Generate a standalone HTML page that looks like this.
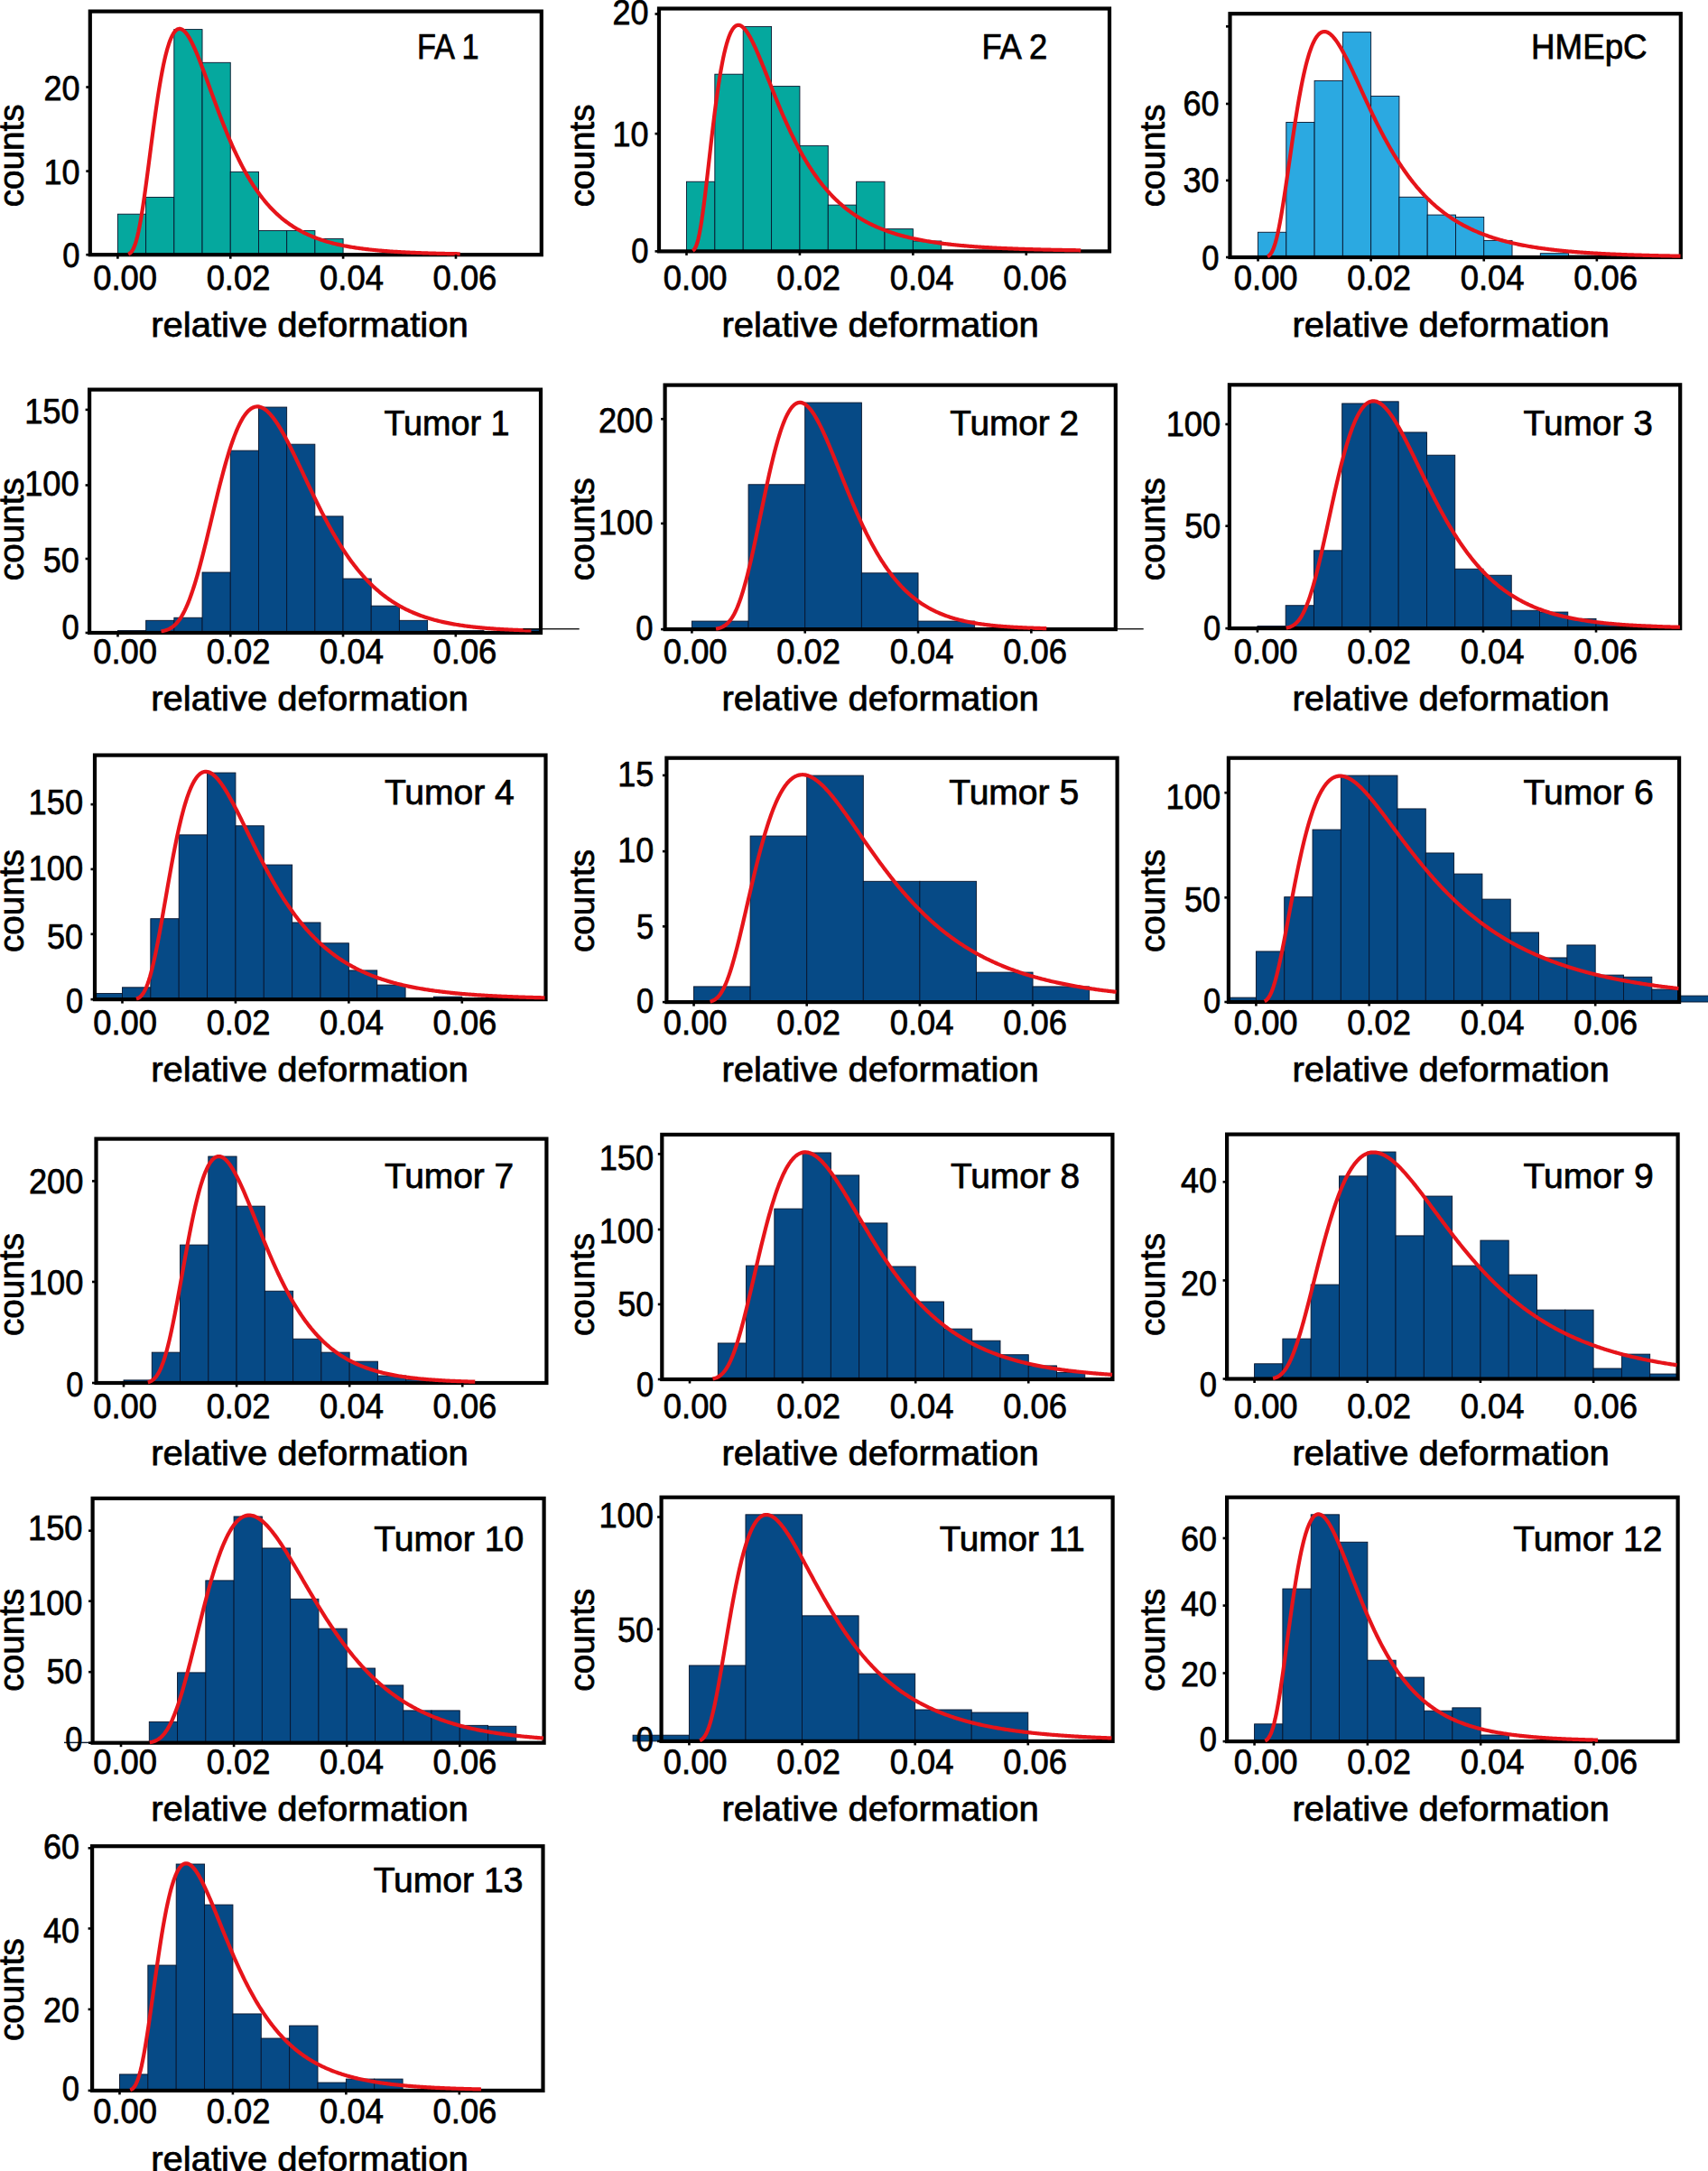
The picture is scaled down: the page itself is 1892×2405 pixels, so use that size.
<!DOCTYPE html>
<html><head><meta charset="utf-8"><title>Relative deformation histograms</title>
<style>html,body{margin:0;padding:0;background:#fff}svg{display:block}</style></head>
<body>
<svg width="1892" height="2405" viewBox="0 0 1892 2405" font-family="'Liberation Sans', sans-serif" fill="#000" stroke="#000" stroke-width="0.75">
<rect width="1892" height="2405" fill="#fff" stroke="none"/>
<g><rect x="130.4" y="237.19" width="31.21" height="45.01" fill="#05A89E" stroke="#07142c" stroke-width="0.9"/>
<rect x="161.61" y="218.45" width="31.21" height="63.75" fill="#05A89E" stroke="#07142c" stroke-width="0.9"/>
<rect x="192.82" y="32.6" width="31.21" height="249.6" fill="#05A89E" stroke="#07142c" stroke-width="0.9"/>
<rect x="224.04" y="69.32" width="31.21" height="212.88" fill="#05A89E" stroke="#07142c" stroke-width="0.9"/>
<rect x="255.25" y="190.35" width="31.21" height="91.85" fill="#05A89E" stroke="#07142c" stroke-width="0.9"/>
<rect x="286.46" y="255.55" width="31.21" height="26.65" fill="#05A89E" stroke="#07142c" stroke-width="0.9"/>
<rect x="317.68" y="255.55" width="31.21" height="26.65" fill="#05A89E" stroke="#07142c" stroke-width="0.9"/>
<rect x="348.89" y="264.54" width="31.21" height="17.66" fill="#05A89E" stroke="#07142c" stroke-width="0.9"/>
<rect x="99.8" y="12.6" width="500" height="269.6" fill="none" stroke="#000" stroke-width="4.2"/>
<path d="M142.15,281.55 L143.4,280.94 L144.65,279.97 L145.9,278.55 L147.15,276.59 L148.4,274.01 L149.65,270.76 L150.9,266.78 L152.15,262.07 L153.4,256.62 L154.65,250.45 L155.9,243.62 L157.15,236.16 L158.4,228.14 L159.65,219.65 L160.9,210.75 L162.15,201.53 L163.4,192.07 L164.65,182.46 L165.9,172.77 L167.15,163.08 L168.4,153.47 L169.65,143.99 L170.9,134.71 L172.15,125.68 L173.4,116.95 L174.65,108.56 L175.9,100.54 L177.15,92.93 L178.4,85.74 L179.65,79 L180.9,72.71 L182.15,66.89 L183.4,61.54 L184.65,56.66 L185.9,52.26 L187.15,48.31 L188.4,44.83 L189.65,41.79 L190.9,39.19 L192.15,37.01 L193.4,35.24 L194.65,33.86 L195.9,32.86 L197.15,32.22 L198.4,31.93 L199.65,31.96 L200.9,32.3 L202.15,32.93 L203.4,33.83 L204.65,34.99 L205.9,36.39 L207.15,38.02 L208.4,39.85 L209.65,41.88 L210.9,44.08 L212.15,46.44 L213.4,48.96 L214.65,51.6 L215.9,54.37 L217.15,57.25 L218.4,60.23 L219.65,63.3 L220.9,66.44 L222.15,69.65 L223.4,72.92 L224.65,76.24 L225.9,79.59 L227.15,82.98 L228.4,86.4 L229.65,89.83 L230.9,93.28 L232.15,96.73 L233.4,100.18 L234.65,103.63 L235.9,107.07 L237.15,110.49 L238.4,113.9 L239.65,117.28 L240.9,120.64 L242.15,123.97 L243.4,127.27 L244.65,130.54 L245.9,133.77 L247.15,136.97 L248.4,140.12 L249.65,143.24 L250.9,146.31 L252.15,149.34 L253.4,152.32 L254.65,155.25 L255.9,158.14 L257.15,160.98 L258.4,163.78 L259.65,166.52 L260.9,169.22 L262.15,171.86 L263.4,174.46 L264.65,177.01 L265.9,179.51 L267.15,181.96 L268.4,184.36 L269.65,186.71 L270.9,189.02 L272.15,191.27 L273.4,193.48 L274.65,195.65 L275.9,197.76 L277.15,199.83 L278.4,201.86 L279.65,203.83 L280.9,205.77 L282.15,207.66 L283.4,209.51 L284.65,211.32 L285.9,213.08 L287.15,214.81 L288.4,216.49 L289.65,218.13 L290.9,219.74 L292.15,221.31 L293.4,222.84 L294.65,224.33 L295.9,225.79 L297.15,227.21 L298.4,228.6 L299.65,229.95 L300.9,231.27 L302.15,232.56 L303.4,233.81 L304.65,235.04 L305.9,236.23 L307.15,237.4 L308.4,238.53 L309.65,239.64 L310.9,240.72 L312.15,241.77 L313.4,242.8 L314.65,243.8 L315.9,244.77 L317.15,245.72 L318.4,246.65 L319.65,247.55 L320.9,248.43 L322.15,249.29 L323.4,250.12 L324.65,250.94 L325.9,251.73 L327.15,252.5 L328.4,253.25 L329.65,253.99 L330.9,254.7 L332.15,255.4 L333.4,256.07 L334.65,256.74 L335.9,257.38 L337.15,258.01 L338.4,258.62 L339.65,259.21 L340.9,259.79 L342.15,260.36 L343.4,260.91 L344.65,261.44 L345.9,261.96 L347.15,262.47 L348.4,262.97 L349.65,263.45 L350.9,263.92 L352.15,264.38 L353.4,264.82 L354.65,265.26 L355.9,265.68 L357.15,266.09 L358.4,266.5 L359.65,266.89 L360.9,267.27 L362.15,267.64 L363.4,268 L364.65,268.35 L365.9,268.7 L367.15,269.03 L368.4,269.36 L369.65,269.68 L370.9,269.99 L372.15,270.29 L373.4,270.58 L374.65,270.87 L375.9,271.15 L377.15,271.42 L378.4,271.68 L379.65,271.94 L380.9,272.19 L382.15,272.44 L383.4,272.67 L384.65,272.91 L385.9,273.13 L387.15,273.35 L388.4,273.57 L389.65,273.78 L390.9,273.98 L392.15,274.18 L393.4,274.38 L394.65,274.57 L395.9,274.75 L397.15,274.93 L398.4,275.1 L399.65,275.28 L400.9,275.44 L402.15,275.6 L403.4,275.76 L404.65,275.92 L405.9,276.07 L407.15,276.21 L408.4,276.36 L409.65,276.49 L410.9,276.63 L412.15,276.76 L413.4,276.89 L414.65,277.02 L415.9,277.14 L417.15,277.26 L418.4,277.38 L419.65,277.49 L420.9,277.6 L422.15,277.71 L423.4,277.81 L424.65,277.92 L425.9,278.02 L427.15,278.12 L428.4,278.21 L429.65,278.3 L430.9,278.39 L432.15,278.48 L433.4,278.57 L434.65,278.65 L435.9,278.74 L437.15,278.82 L438.4,278.89 L439.65,278.97 L440.9,279.04 L442.15,279.12 L443.4,279.19 L444.65,279.26 L445.9,279.32 L447.15,279.39 L448.4,279.45 L449.65,279.52 L450.9,279.58 L452.15,279.64 L453.4,279.7 L454.65,279.75 L455.9,279.81 L457.15,279.86 L458.4,279.92 L459.65,279.97 L460.9,280.02 L462.15,280.07 L463.4,280.12 L464.65,280.16 L465.9,280.21 L467.15,280.25 L468.4,280.3 L469.65,280.34 L470.9,280.38 L472.15,280.42 L473.4,280.46 L474.65,280.5 L475.9,280.54 L477.15,280.57 L478.4,280.61 L479.65,280.64 L480.9,280.68 L482.15,280.71 L483.4,280.74 L484.65,280.78 L485.9,280.81 L487.15,280.84 L488.4,280.87 L489.65,280.9 L490.9,280.93 L492.15,280.95 L493.4,280.98 L494.65,281.01 L495.9,281.03 L497.15,281.06 L498.4,281.08 L499.65,281.11 L500.9,281.13 L502.15,281.15 L503.4,281.18 L504.65,281.2 L505.9,281.22 L507.15,281.24 L508.4,281.26 L509.65,281.28" fill="none" stroke="#E6141A" stroke-width="4.2" stroke-linejoin="round" stroke-linecap="butt"/>
<rect x="129.1" y="282.2" width="2.6" height="4.5" stroke="none"/>
<text x="138.6" y="320.6" font-size="38.5" text-anchor="middle" textLength="70.8" lengthAdjust="spacingAndGlyphs">0.00</text>
<rect x="253.95" y="282.2" width="2.6" height="4.5" stroke="none"/>
<text x="264.05" y="320.6" font-size="38.5" text-anchor="middle" textLength="70.8" lengthAdjust="spacingAndGlyphs">0.02</text>
<rect x="378.8" y="282.2" width="2.6" height="4.5" stroke="none"/>
<text x="389.5" y="320.6" font-size="38.5" text-anchor="middle" textLength="70.8" lengthAdjust="spacingAndGlyphs">0.04</text>
<rect x="503.66" y="282.2" width="2.6" height="4.5" stroke="none"/>
<text x="514.95" y="320.6" font-size="38.5" text-anchor="middle" textLength="70.8" lengthAdjust="spacingAndGlyphs">0.06</text>
<rect x="95.3" y="280.9" width="4.5" height="2.6" stroke="none"/>
<text x="69.3" y="295.9" font-size="38.5" textLength="19.2" lengthAdjust="spacingAndGlyphs">0</text>
<rect x="95.3" y="188.3" width="4.5" height="2.6" stroke="none"/>
<text x="48.5" y="203.9" font-size="38.5" textLength="40" lengthAdjust="spacingAndGlyphs">10</text>
<rect x="95.3" y="95.2" width="4.5" height="2.6" stroke="none"/>
<text x="48.5" y="111.1" font-size="38.5" textLength="40" lengthAdjust="spacingAndGlyphs">20</text>
<text x="167.2" y="372.7" font-size="39" textLength="351.5" lengthAdjust="spacingAndGlyphs">relative deformation</text>
<text transform="translate(26,172.3) rotate(-90)" font-size="39" text-anchor="middle" textLength="114" lengthAdjust="spacingAndGlyphs">counts</text>
<text x="461.9" y="64.5" font-size="38.5" textLength="68.6" lengthAdjust="spacingAndGlyphs">FA 1</text></g>
<g><rect x="760.49" y="201.24" width="31.36" height="77.16" fill="#05A89E" stroke="#07142c" stroke-width="0.9"/>
<rect x="791.85" y="82.2" width="31.36" height="196.2" fill="#05A89E" stroke="#07142c" stroke-width="0.9"/>
<rect x="823.21" y="29.53" width="31.36" height="248.87" fill="#05A89E" stroke="#07142c" stroke-width="0.9"/>
<rect x="854.57" y="95.6" width="31.36" height="182.8" fill="#05A89E" stroke="#07142c" stroke-width="0.9"/>
<rect x="885.93" y="161.36" width="31.36" height="117.04" fill="#05A89E" stroke="#07142c" stroke-width="0.9"/>
<rect x="917.28" y="227.12" width="31.36" height="51.28" fill="#05A89E" stroke="#07142c" stroke-width="0.9"/>
<rect x="948.64" y="201.24" width="31.36" height="77.16" fill="#05A89E" stroke="#07142c" stroke-width="0.9"/>
<rect x="980" y="253.61" width="31.36" height="24.79" fill="#05A89E" stroke="#07142c" stroke-width="0.9"/>
<rect x="1011.36" y="267" width="31.36" height="11.4" fill="#05A89E" stroke="#07142c" stroke-width="0.9"/>
<rect x="730" y="9.5" width="499" height="268.9" fill="none" stroke="#000" stroke-width="4.2"/>
<path d="M767.24,277.8 L768.49,276.9 L769.74,275.3 L770.99,272.81 L772.24,269.3 L773.49,264.7 L774.74,259 L775.99,252.22 L777.24,244.46 L778.49,235.82 L779.74,226.43 L780.99,216.43 L782.24,205.97 L783.49,195.19 L784.74,184.21 L785.99,173.17 L787.24,162.19 L788.49,151.35 L789.74,140.75 L790.99,130.46 L792.24,120.56 L793.49,111.08 L794.74,102.07 L795.99,93.57 L797.24,85.59 L798.49,78.16 L799.74,71.27 L800.99,64.94 L802.24,59.15 L803.49,53.91 L804.74,49.21 L805.99,45.03 L807.24,41.35 L808.49,38.16 L809.74,35.44 L810.99,33.17 L812.24,31.33 L813.49,29.9 L814.74,28.86 L815.99,28.18 L817.24,27.84 L818.49,27.83 L819.74,28.13 L820.99,28.71 L822.24,29.55 L823.49,30.64 L824.74,31.95 L825.99,33.48 L827.24,35.19 L828.49,37.09 L829.74,39.15 L830.99,41.35 L832.24,43.69 L833.49,46.16 L834.74,48.73 L835.99,51.4 L837.24,54.15 L838.49,56.98 L839.74,59.88 L840.99,62.84 L842.24,65.84 L843.49,68.89 L844.74,71.97 L845.99,75.08 L847.24,78.21 L848.49,81.35 L849.74,84.51 L850.99,87.67 L852.24,90.83 L853.49,93.98 L854.74,97.13 L855.99,100.26 L857.24,103.38 L858.49,106.48 L859.74,109.56 L860.99,112.62 L862.24,115.65 L863.49,118.65 L864.74,121.62 L865.99,124.56 L867.24,127.47 L868.49,130.34 L869.74,133.17 L870.99,135.97 L872.24,138.73 L873.49,141.46 L874.74,144.14 L875.99,146.78 L877.24,149.39 L878.49,151.95 L879.74,154.48 L880.99,156.96 L882.24,159.4 L883.49,161.8 L884.74,164.16 L885.99,166.48 L887.24,168.75 L888.49,170.99 L889.74,173.19 L890.99,175.34 L892.24,177.46 L893.49,179.54 L894.74,181.57 L895.99,183.57 L897.24,185.53 L898.49,187.46 L899.74,189.34 L900.99,191.19 L902.24,193 L903.49,194.78 L904.74,196.52 L905.99,198.22 L907.24,199.89 L908.49,201.53 L909.74,203.14 L910.99,204.71 L912.24,206.24 L913.49,207.75 L914.74,209.23 L915.99,210.67 L917.24,212.09 L918.49,213.47 L919.74,214.83 L920.99,216.16 L922.24,217.46 L923.49,218.73 L924.74,219.97 L925.99,221.19 L927.24,222.38 L928.49,223.55 L929.74,224.69 L930.99,225.81 L932.24,226.91 L933.49,227.98 L934.74,229.02 L935.99,230.05 L937.24,231.05 L938.49,232.03 L939.74,232.99 L940.99,233.93 L942.24,234.85 L943.49,235.75 L944.74,236.63 L945.99,237.5 L947.24,238.34 L948.49,239.16 L949.74,239.97 L950.99,240.76 L952.24,241.53 L953.49,242.29 L954.74,243.03 L955.99,243.75 L957.24,244.46 L958.49,245.15 L959.74,245.83 L960.99,246.49 L962.24,247.14 L963.49,247.77 L964.74,248.39 L965.99,249 L967.24,249.6 L968.49,250.18 L969.74,250.75 L970.99,251.3 L972.24,251.85 L973.49,252.38 L974.74,252.9 L975.99,253.41 L977.24,253.91 L978.49,254.4 L979.74,254.88 L980.99,255.35 L982.24,255.81 L983.49,256.26 L984.74,256.7 L985.99,257.13 L987.24,257.55 L988.49,257.96 L989.74,258.36 L990.99,258.76 L992.24,259.14 L993.49,259.52 L994.74,259.89 L995.99,260.25 L997.24,260.61 L998.49,260.95 L999.74,261.29 L1000.99,261.63 L1002.24,261.95 L1003.49,262.27 L1004.74,262.58 L1005.99,262.89 L1007.24,263.19 L1008.49,263.48 L1009.74,263.77 L1010.99,264.05 L1012.24,264.32 L1013.49,264.59 L1014.74,264.86 L1015.99,265.12 L1017.24,265.37 L1018.49,265.62 L1019.74,265.86 L1020.99,266.1 L1022.24,266.33 L1023.49,266.56 L1024.74,266.78 L1025.99,267 L1027.24,267.22 L1028.49,267.43 L1029.74,267.63 L1030.99,267.83 L1032.24,268.03 L1033.49,268.22 L1034.74,268.41 L1035.99,268.6 L1037.24,268.78 L1038.49,268.96 L1039.74,269.13 L1040.99,269.3 L1042.24,269.47 L1043.49,269.64 L1044.74,269.8 L1045.99,269.96 L1047.24,270.11 L1048.49,270.26 L1049.74,270.41 L1050.99,270.56 L1052.24,270.7 L1053.49,270.84 L1054.74,270.98 L1055.99,271.11 L1057.24,271.24 L1058.49,271.37 L1059.74,271.5 L1060.99,271.62 L1062.24,271.74 L1063.49,271.86 L1064.74,271.98 L1065.99,272.1 L1067.24,272.21 L1068.49,272.32 L1069.74,272.43 L1070.99,272.53 L1072.24,272.64 L1073.49,272.74 L1074.74,272.84 L1075.99,272.94 L1077.24,273.03 L1078.49,273.13 L1079.74,273.22 L1080.99,273.31 L1082.24,273.4 L1083.49,273.49 L1084.74,273.57 L1085.99,273.66 L1087.24,273.74 L1088.49,273.82 L1089.74,273.9 L1090.99,273.98 L1092.24,274.05 L1093.49,274.13 L1094.74,274.2 L1095.99,274.28 L1097.24,274.35 L1098.49,274.42 L1099.74,274.48 L1100.99,274.55 L1102.24,274.62 L1103.49,274.68 L1104.74,274.74 L1105.99,274.81 L1107.24,274.87 L1108.49,274.93 L1109.74,274.99 L1110.99,275.04 L1112.24,275.1 L1113.49,275.16 L1114.74,275.21 L1115.99,275.26 L1117.24,275.32 L1118.49,275.37 L1119.74,275.42 L1120.99,275.47 L1122.24,275.52 L1123.49,275.56 L1124.74,275.61 L1125.99,275.66 L1127.24,275.7 L1128.49,275.75 L1129.74,275.79 L1130.99,275.83 L1132.24,275.88 L1133.49,275.92 L1134.74,275.96 L1135.99,276 L1137.24,276.04 L1138.49,276.08 L1139.74,276.11 L1140.99,276.15 L1142.24,276.19 L1143.49,276.22 L1144.74,276.26 L1145.99,276.29 L1147.24,276.33 L1148.49,276.36 L1149.74,276.39 L1150.99,276.43 L1152.24,276.46 L1153.49,276.49 L1154.74,276.52 L1155.99,276.55 L1157.24,276.58 L1158.49,276.61 L1159.74,276.64 L1160.99,276.66 L1162.24,276.69 L1163.49,276.72 L1164.74,276.74 L1165.99,276.77 L1167.24,276.8 L1168.49,276.82 L1169.74,276.85 L1170.99,276.87 L1172.24,276.89 L1173.49,276.92 L1174.74,276.94 L1175.99,276.96 L1177.24,276.99 L1178.49,277.01 L1179.74,277.03 L1180.99,277.05 L1182.24,277.07 L1183.49,277.09 L1184.74,277.11 L1185.99,277.13 L1187.24,277.15 L1188.49,277.17 L1189.74,277.19 L1190.99,277.21 L1192.24,277.23 L1193.49,277.24 L1194.74,277.26 L1195.99,277.28 L1197.24,277.3" fill="none" stroke="#E6141A" stroke-width="4.2" stroke-linejoin="round" stroke-linecap="butt"/>
<rect x="759.19" y="278.4" width="2.6" height="4.5" stroke="none"/>
<text x="770.2" y="320.6" font-size="38.5" text-anchor="middle" textLength="70.8" lengthAdjust="spacingAndGlyphs">0.00</text>
<rect x="884.63" y="278.4" width="2.6" height="4.5" stroke="none"/>
<text x="895.65" y="320.6" font-size="38.5" text-anchor="middle" textLength="70.8" lengthAdjust="spacingAndGlyphs">0.02</text>
<rect x="1010.06" y="278.4" width="2.6" height="4.5" stroke="none"/>
<text x="1021.1" y="320.6" font-size="38.5" text-anchor="middle" textLength="70.8" lengthAdjust="spacingAndGlyphs">0.04</text>
<rect x="1135.49" y="278.4" width="2.6" height="4.5" stroke="none"/>
<text x="1146.55" y="320.6" font-size="38.5" text-anchor="middle" textLength="70.8" lengthAdjust="spacingAndGlyphs">0.06</text>
<rect x="725.5" y="277.1" width="4.5" height="2.6" stroke="none"/>
<text x="699.2" y="291.1" font-size="38.5" textLength="19.2" lengthAdjust="spacingAndGlyphs">0</text>
<rect x="725.5" y="146.8" width="4.5" height="2.6" stroke="none"/>
<text x="678.4" y="162.2" font-size="38.5" textLength="40" lengthAdjust="spacingAndGlyphs">10</text>
<rect x="725.5" y="14.2" width="4.5" height="2.6" stroke="none"/>
<text x="678.4" y="27.2" font-size="38.5" textLength="40" lengthAdjust="spacingAndGlyphs">20</text>
<text x="799.4" y="372.7" font-size="39" textLength="351.5" lengthAdjust="spacingAndGlyphs">relative deformation</text>
<text transform="translate(657.6,172.3) rotate(-90)" font-size="39" text-anchor="middle" textLength="114" lengthAdjust="spacingAndGlyphs">counts</text>
<text x="1087.4" y="64.5" font-size="38.5" textLength="72.8" lengthAdjust="spacingAndGlyphs">FA 2</text></g>
<g><rect x="1393.54" y="257.26" width="31.28" height="27.74" fill="#2BA9E1" stroke="#07142c" stroke-width="0.9"/>
<rect x="1424.81" y="135.48" width="31.28" height="149.52" fill="#2BA9E1" stroke="#07142c" stroke-width="0.9"/>
<rect x="1456.09" y="89.51" width="31.28" height="195.49" fill="#2BA9E1" stroke="#07142c" stroke-width="0.9"/>
<rect x="1487.36" y="35.62" width="31.28" height="249.38" fill="#2BA9E1" stroke="#07142c" stroke-width="0.9"/>
<rect x="1518.64" y="106.56" width="31.28" height="178.44" fill="#2BA9E1" stroke="#07142c" stroke-width="0.9"/>
<rect x="1549.91" y="218.29" width="31.28" height="66.71" fill="#2BA9E1" stroke="#07142c" stroke-width="0.9"/>
<rect x="1581.19" y="238.08" width="31.28" height="46.92" fill="#2BA9E1" stroke="#07142c" stroke-width="0.9"/>
<rect x="1612.46" y="240.52" width="31.28" height="44.48" fill="#2BA9E1" stroke="#07142c" stroke-width="0.9"/>
<rect x="1643.74" y="266.39" width="31.28" height="18.61" fill="#2BA9E1" stroke="#07142c" stroke-width="0.9"/>
<rect x="1706.29" y="280.7" width="31.28" height="4.3" fill="#2BA9E1" stroke="#07142c" stroke-width="0.9"/>
<rect x="1737.56" y="283.14" width="31.28" height="1.86" fill="#2BA9E1" stroke="#07142c" stroke-width="0.9"/>
<rect x="1362.5" y="15.2" width="499.3" height="269.8" fill="none" stroke="#000" stroke-width="4.2"/>
<path d="M1404.04,284.23 L1405.29,283.53 L1406.54,282.45 L1407.79,280.9 L1409.04,278.82 L1410.29,276.14 L1411.54,272.83 L1412.79,268.87 L1414.04,264.26 L1415.29,259.02 L1416.54,253.17 L1417.79,246.75 L1419.04,239.83 L1420.29,232.45 L1421.54,224.68 L1422.79,216.6 L1424.04,208.25 L1425.29,199.72 L1426.54,191.05 L1427.79,182.33 L1429.04,173.59 L1430.29,164.91 L1431.54,156.31 L1432.79,147.86 L1434.04,139.59 L1435.29,131.54 L1436.54,123.73 L1437.79,116.2 L1439.04,108.96 L1440.29,102.04 L1441.54,95.45 L1442.79,89.2 L1444.04,83.3 L1445.29,77.76 L1446.54,72.58 L1447.79,67.76 L1449.04,63.31 L1450.29,59.2 L1451.54,55.46 L1452.79,52.05 L1454.04,48.99 L1455.29,46.27 L1456.54,43.86 L1457.79,41.77 L1459.04,39.98 L1460.29,38.48 L1461.54,37.27 L1462.79,36.33 L1464.04,35.65 L1465.29,35.21 L1466.54,35.02 L1467.79,35.04 L1469.04,35.29 L1470.29,35.73 L1471.54,36.37 L1472.79,37.19 L1474.04,38.18 L1475.29,39.33 L1476.54,40.63 L1477.79,42.07 L1479.04,43.64 L1480.29,45.34 L1481.54,47.15 L1482.79,49.06 L1484.04,51.08 L1485.29,53.18 L1486.54,55.37 L1487.79,57.63 L1489.04,59.96 L1490.29,62.35 L1491.54,64.8 L1492.79,67.29 L1494.04,69.84 L1495.29,72.42 L1496.54,75.04 L1497.79,77.68 L1499.04,80.35 L1500.29,83.04 L1501.54,85.75 L1502.79,88.48 L1504.04,91.21 L1505.29,93.94 L1506.54,96.69 L1507.79,99.43 L1509.04,102.17 L1510.29,104.9 L1511.54,107.62 L1512.79,110.34 L1514.04,113.05 L1515.29,115.74 L1516.54,118.41 L1517.79,121.07 L1519.04,123.71 L1520.29,126.33 L1521.54,128.93 L1522.79,131.5 L1524.04,134.05 L1525.29,136.58 L1526.54,139.08 L1527.79,141.55 L1529.04,144 L1530.29,146.42 L1531.54,148.81 L1532.79,151.18 L1534.04,153.51 L1535.29,155.81 L1536.54,158.09 L1537.79,160.33 L1539.04,162.54 L1540.29,164.72 L1541.54,166.87 L1542.79,169 L1544.04,171.08 L1545.29,173.14 L1546.54,175.17 L1547.79,177.17 L1549.04,179.13 L1550.29,181.07 L1551.54,182.97 L1552.79,184.85 L1554.04,186.69 L1555.29,188.5 L1556.54,190.29 L1557.79,192.04 L1559.04,193.77 L1560.29,195.46 L1561.54,197.13 L1562.79,198.77 L1564.04,200.38 L1565.29,201.96 L1566.54,203.52 L1567.79,205.04 L1569.04,206.55 L1570.29,208.02 L1571.54,209.47 L1572.79,210.89 L1574.04,212.29 L1575.29,213.66 L1576.54,215 L1577.79,216.32 L1579.04,217.62 L1580.29,218.89 L1581.54,220.14 L1582.79,221.37 L1584.04,222.58 L1585.29,223.76 L1586.54,224.92 L1587.79,226.06 L1589.04,227.17 L1590.29,228.27 L1591.54,229.34 L1592.79,230.4 L1594.04,231.43 L1595.29,232.45 L1596.54,233.44 L1597.79,234.42 L1599.04,235.38 L1600.29,236.32 L1601.54,237.24 L1602.79,238.14 L1604.04,239.03 L1605.29,239.9 L1606.54,240.75 L1607.79,241.59 L1609.04,242.41 L1610.29,243.22 L1611.54,244 L1612.79,244.78 L1614.04,245.54 L1615.29,246.28 L1616.54,247.01 L1617.79,247.73 L1619.04,248.43 L1620.29,249.12 L1621.54,249.79 L1622.79,250.45 L1624.04,251.1 L1625.29,251.74 L1626.54,252.36 L1627.79,252.97 L1629.04,253.57 L1630.29,254.16 L1631.54,254.74 L1632.79,255.3 L1634.04,255.86 L1635.29,256.4 L1636.54,256.93 L1637.79,257.46 L1639.04,257.97 L1640.29,258.47 L1641.54,258.97 L1642.79,259.45 L1644.04,259.92 L1645.29,260.39 L1646.54,260.84 L1647.79,261.29 L1649.04,261.73 L1650.29,262.16 L1651.54,262.58 L1652.79,262.99 L1654.04,263.4 L1655.29,263.79 L1656.54,264.18 L1657.79,264.56 L1659.04,264.94 L1660.29,265.31 L1661.54,265.67 L1662.79,266.02 L1664.04,266.37 L1665.29,266.71 L1666.54,267.04 L1667.79,267.37 L1669.04,267.69 L1670.29,268 L1671.54,268.31 L1672.79,268.61 L1674.04,268.91 L1675.29,269.2 L1676.54,269.48 L1677.79,269.76 L1679.04,270.04 L1680.29,270.31 L1681.54,270.57 L1682.79,270.83 L1684.04,271.08 L1685.29,271.33 L1686.54,271.58 L1687.79,271.82 L1689.04,272.05 L1690.29,272.28 L1691.54,272.51 L1692.79,272.73 L1694.04,272.95 L1695.29,273.16 L1696.54,273.37 L1697.79,273.58 L1699.04,273.78 L1700.29,273.98 L1701.54,274.17 L1702.79,274.36 L1704.04,274.55 L1705.29,274.73 L1706.54,274.92 L1707.79,275.09 L1709.04,275.27 L1710.29,275.44 L1711.54,275.6 L1712.79,275.77 L1714.04,275.93 L1715.29,276.08 L1716.54,276.24 L1717.79,276.39 L1719.04,276.54 L1720.29,276.69 L1721.54,276.83 L1722.79,276.97 L1724.04,277.11 L1725.29,277.25 L1726.54,277.38 L1727.79,277.51 L1729.04,277.64 L1730.29,277.77 L1731.54,277.89 L1732.79,278.01 L1734.04,278.13 L1735.29,278.25 L1736.54,278.36 L1737.79,278.48 L1739.04,278.59 L1740.29,278.69 L1741.54,278.8 L1742.79,278.91 L1744.04,279.01 L1745.29,279.11 L1746.54,279.21 L1747.79,279.31 L1749.04,279.4 L1750.29,279.5 L1751.54,279.59 L1752.79,279.68 L1754.04,279.77 L1755.29,279.86 L1756.54,279.94 L1757.79,280.03 L1759.04,280.11 L1760.29,280.19 L1761.54,280.27 L1762.79,280.35 L1764.04,280.43 L1765.29,280.5 L1766.54,280.58 L1767.79,280.65 L1769.04,280.72 L1770.29,280.79 L1771.54,280.86 L1772.79,280.93 L1774.04,280.99 L1775.29,281.06 L1776.54,281.12 L1777.79,281.19 L1779.04,281.25 L1780.29,281.31 L1781.54,281.37 L1782.79,281.43 L1784.04,281.49 L1785.29,281.54 L1786.54,281.6 L1787.79,281.66 L1789.04,281.71 L1790.29,281.76 L1791.54,281.81 L1792.79,281.87 L1794.04,281.92 L1795.29,281.97 L1796.54,282.01 L1797.79,282.06 L1799.04,282.11 L1800.29,282.16 L1801.54,282.2 L1802.79,282.25 L1804.04,282.29 L1805.29,282.33 L1806.54,282.37 L1807.79,282.42 L1809.04,282.46 L1810.29,282.5 L1811.54,282.54 L1812.79,282.58 L1814.04,282.61 L1815.29,282.65 L1816.54,282.69 L1817.79,282.72 L1819.04,282.76 L1820.29,282.79 L1821.54,282.83 L1822.79,282.86 L1824.04,282.9 L1825.29,282.93 L1826.54,282.96 L1827.79,282.99 L1829.04,283.02 L1830.29,283.05 L1831.54,283.08 L1832.79,283.11 L1834.04,283.14 L1835.29,283.17 L1836.54,283.2 L1837.79,283.23 L1839.04,283.25 L1840.29,283.28 L1841.54,283.31 L1842.79,283.33 L1844.04,283.36 L1845.29,283.38 L1846.54,283.41 L1847.79,283.43 L1849.04,283.46 L1850.29,283.48 L1851.54,283.5 L1852.79,283.53 L1854.04,283.55 L1855.29,283.57 L1856.54,283.59 L1857.79,283.61 L1859.04,283.63 L1860.29,283.65 L1861.54,283.67" fill="none" stroke="#E6141A" stroke-width="4.2" stroke-linejoin="round" stroke-linecap="butt"/>
<rect x="1392.24" y="285" width="2.6" height="4.5" stroke="none"/>
<text x="1402.2" y="320.6" font-size="38.5" text-anchor="middle" textLength="70.8" lengthAdjust="spacingAndGlyphs">0.00</text>
<rect x="1517.34" y="285" width="2.6" height="4.5" stroke="none"/>
<text x="1527.65" y="320.6" font-size="38.5" text-anchor="middle" textLength="70.8" lengthAdjust="spacingAndGlyphs">0.02</text>
<rect x="1642.44" y="285" width="2.6" height="4.5" stroke="none"/>
<text x="1653.1" y="320.6" font-size="38.5" text-anchor="middle" textLength="70.8" lengthAdjust="spacingAndGlyphs">0.04</text>
<rect x="1767.54" y="285" width="2.6" height="4.5" stroke="none"/>
<text x="1778.55" y="320.6" font-size="38.5" text-anchor="middle" textLength="70.8" lengthAdjust="spacingAndGlyphs">0.06</text>
<rect x="1358" y="283.7" width="4.5" height="2.6" stroke="none"/>
<text x="1331.2" y="298.7" font-size="38.5" textLength="19.2" lengthAdjust="spacingAndGlyphs">0</text>
<rect x="1358" y="198.6" width="4.5" height="2.6" stroke="none"/>
<text x="1310.4" y="212.7" font-size="38.5" textLength="40" lengthAdjust="spacingAndGlyphs">30</text>
<rect x="1358" y="113.7" width="4.5" height="2.6" stroke="none"/>
<text x="1310.4" y="128" font-size="38.5" textLength="40" lengthAdjust="spacingAndGlyphs">60</text>
<rect x="1358" y="28" width="4.5" height="2.6" stroke="none"/>
<text x="1431.4" y="372.7" font-size="39" textLength="351.5" lengthAdjust="spacingAndGlyphs">relative deformation</text>
<text transform="translate(1289.5,172.3) rotate(-90)" font-size="39" text-anchor="middle" textLength="114" lengthAdjust="spacingAndGlyphs">counts</text>
<text x="1696.1" y="64.5" font-size="38.5" textLength="128.5" lengthAdjust="spacingAndGlyphs">HMEpC</text></g>
<g><rect x="130.49" y="698.57" width="31.19" height="1.33" fill="#064A86" stroke="#07142c" stroke-width="0.9"/>
<rect x="161.68" y="687.31" width="31.19" height="12.59" fill="#064A86" stroke="#07142c" stroke-width="0.9"/>
<rect x="192.88" y="684.26" width="31.19" height="15.64" fill="#064A86" stroke="#07142c" stroke-width="0.9"/>
<rect x="224.07" y="634.03" width="31.19" height="65.87" fill="#064A86" stroke="#07142c" stroke-width="0.9"/>
<rect x="255.26" y="499.16" width="31.19" height="200.74" fill="#064A86" stroke="#07142c" stroke-width="0.9"/>
<rect x="286.45" y="451.05" width="31.19" height="248.85" fill="#064A86" stroke="#07142c" stroke-width="0.9"/>
<rect x="317.65" y="492.15" width="31.19" height="207.75" fill="#064A86" stroke="#07142c" stroke-width="0.9"/>
<rect x="348.84" y="571.92" width="31.19" height="127.98" fill="#064A86" stroke="#07142c" stroke-width="0.9"/>
<rect x="380.03" y="641.03" width="31.19" height="58.87" fill="#064A86" stroke="#07142c" stroke-width="0.9"/>
<rect x="411.22" y="671.17" width="31.19" height="28.73" fill="#064A86" stroke="#07142c" stroke-width="0.9"/>
<rect x="442.41" y="687.31" width="31.19" height="12.59" fill="#064A86" stroke="#07142c" stroke-width="0.9"/>
<rect x="473.61" y="698.57" width="31.19" height="1.33" fill="#064A86" stroke="#07142c" stroke-width="0.9"/>
<rect x="504.8" y="698.57" width="31.19" height="1.33" fill="#064A86" stroke="#07142c" stroke-width="0.9"/>
<rect x="578.1" y="697.05" width="20.27" height="2.85" fill="#064A86" stroke="#07142c" stroke-width="0.9"/>
<rect x="99.1" y="431.6" width="499.9" height="269.4" fill="none" stroke="#000" stroke-width="4.2"/>
<path d="M178.49,699.27 L179.74,699.08 L180.99,698.85 L182.24,698.57 L183.49,698.24 L184.74,697.84 L185.99,697.36 L187.24,696.81 L188.49,696.16 L189.74,695.42 L190.99,694.58 L192.24,693.62 L193.49,692.53 L194.74,691.32 L195.99,689.96 L197.24,688.47 L198.49,686.82 L199.74,685.01 L200.99,683.04 L202.24,680.9 L203.49,678.59 L204.74,676.11 L205.99,673.46 L207.24,670.62 L208.49,667.61 L209.74,664.43 L210.99,661.08 L212.24,657.55 L213.49,653.86 L214.74,650.01 L215.99,646.01 L217.24,641.85 L218.49,637.56 L219.74,633.13 L220.99,628.57 L222.24,623.91 L223.49,619.13 L224.74,614.26 L225.99,609.31 L227.24,604.28 L228.49,599.19 L229.74,594.04 L230.99,588.86 L232.24,583.65 L233.49,578.42 L234.74,573.19 L235.99,567.96 L237.24,562.75 L238.49,557.57 L239.74,552.42 L240.99,547.33 L242.24,542.3 L243.49,537.34 L244.74,532.45 L245.99,527.66 L247.24,522.96 L248.49,518.37 L249.74,513.89 L250.99,509.53 L252.24,505.29 L253.49,501.2 L254.74,497.23 L255.99,493.42 L257.24,489.75 L258.49,486.23 L259.74,482.87 L260.99,479.68 L262.24,476.64 L263.49,473.77 L264.74,471.06 L265.99,468.53 L267.24,466.16 L268.49,463.96 L269.74,461.93 L270.99,460.07 L272.24,458.38 L273.49,456.86 L274.74,455.5 L275.99,454.31 L277.24,453.28 L278.49,452.41 L279.74,451.71 L280.99,451.15 L282.24,450.75 L283.49,450.51 L284.74,450.4 L285.99,450.44 L287.24,450.63 L288.49,450.94 L289.74,451.4 L290.99,451.98 L292.24,452.68 L293.49,453.51 L294.74,454.45 L295.99,455.5 L297.24,456.67 L298.49,457.94 L299.74,459.31 L300.99,460.77 L302.24,462.33 L303.49,463.97 L304.74,465.7 L305.99,467.51 L307.24,469.39 L308.49,471.34 L309.74,473.36 L310.99,475.45 L312.24,477.59 L313.49,479.79 L314.74,482.05 L315.99,484.35 L317.24,486.69 L318.49,489.08 L319.74,491.51 L320.99,493.97 L322.24,496.46 L323.49,498.98 L324.74,501.53 L325.99,504.1 L327.24,506.68 L328.49,509.29 L329.74,511.91 L330.99,514.54 L332.24,517.18 L333.49,519.82 L334.74,522.48 L335.99,525.13 L337.24,527.78 L338.49,530.43 L339.74,533.08 L340.99,535.73 L342.24,538.36 L343.49,540.99 L344.74,543.6 L345.99,546.2 L347.24,548.79 L348.49,551.37 L349.74,553.93 L350.99,556.47 L352.24,558.99 L353.49,561.49 L354.74,563.97 L355.99,566.43 L357.24,568.87 L358.49,571.28 L359.74,573.67 L360.99,576.04 L362.24,578.37 L363.49,580.69 L364.74,582.97 L365.99,585.23 L367.24,587.46 L368.49,589.67 L369.74,591.84 L370.99,593.99 L372.24,596.11 L373.49,598.19 L374.74,600.25 L375.99,602.28 L377.24,604.28 L378.49,606.25 L379.74,608.19 L380.99,610.1 L382.24,611.98 L383.49,613.83 L384.74,615.65 L385.99,617.45 L387.24,619.21 L388.49,620.94 L389.74,622.64 L390.99,624.31 L392.24,625.96 L393.49,627.57 L394.74,629.16 L395.99,630.72 L397.24,632.25 L398.49,633.75 L399.74,635.22 L400.99,636.67 L402.24,638.09 L403.49,639.48 L404.74,640.84 L405.99,642.18 L407.24,643.49 L408.49,644.78 L409.74,646.04 L410.99,647.28 L412.24,648.49 L413.49,649.68 L414.74,650.84 L415.99,651.98 L417.24,653.1 L418.49,654.19 L419.74,655.26 L420.99,656.31 L422.24,657.33 L423.49,658.34 L424.74,659.32 L425.99,660.28 L427.24,661.22 L428.49,662.14 L429.74,663.04 L430.99,663.92 L432.24,664.79 L433.49,665.63 L434.74,666.45 L435.99,667.26 L437.24,668.05 L438.49,668.82 L439.74,669.57 L440.99,670.31 L442.24,671.03 L443.49,671.73 L444.74,672.42 L445.99,673.09 L447.24,673.74 L448.49,674.39 L449.74,675.01 L450.99,675.62 L452.24,676.22 L453.49,676.81 L454.74,677.38 L455.99,677.93 L457.24,678.48 L458.49,679.01 L459.74,679.53 L460.99,680.03 L462.24,680.53 L463.49,681.01 L464.74,681.48 L465.99,681.94 L467.24,682.39 L468.49,682.83 L469.74,683.25 L470.99,683.67 L472.24,684.08 L473.49,684.47 L474.74,684.86 L475.99,685.24 L477.24,685.61 L478.49,685.97 L479.74,686.32 L480.99,686.66 L482.24,687 L483.49,687.32 L484.74,687.64 L485.99,687.95 L487.24,688.25 L488.49,688.55 L489.74,688.84 L490.99,689.12 L492.24,689.39 L493.49,689.66 L494.74,689.92 L495.99,690.17 L497.24,690.42 L498.49,690.66 L499.74,690.9 L500.99,691.13 L502.24,691.35 L503.49,691.57 L504.74,691.78 L505.99,691.99 L507.24,692.19 L508.49,692.39 L509.74,692.58 L510.99,692.77 L512.24,692.95 L513.49,693.13 L514.74,693.3 L515.99,693.47 L517.24,693.64 L518.49,693.8 L519.74,693.95 L520.99,694.1 L522.24,694.25 L523.49,694.4 L524.74,694.54 L525.99,694.68 L527.24,694.81 L528.49,694.94 L529.74,695.07 L530.99,695.19 L532.24,695.31 L533.49,695.43 L534.74,695.55 L535.99,695.66 L537.24,695.77 L538.49,695.87 L539.74,695.98 L540.99,696.08 L542.24,696.18 L543.49,696.27 L544.74,696.37 L545.99,696.46 L547.24,696.54 L548.49,696.63 L549.74,696.72 L550.99,696.8 L552.24,696.88 L553.49,696.95 L554.74,697.03 L555.99,697.1 L557.24,697.18 L558.49,697.25 L559.74,697.31 L560.99,697.38 L562.24,697.45 L563.49,697.51 L564.74,697.57 L565.99,697.63 L567.24,697.69 L568.49,697.75 L569.74,697.8 L570.99,697.85 L572.24,697.91 L573.49,697.96 L574.74,698.01 L575.99,698.06 L577.24,698.1 L578.49,698.15 L579.74,698.19 L580.99,698.24 L582.24,698.28 L583.49,698.32 L584.74,698.36 L585.99,698.4 L587.24,698.44 L588.49,698.48" fill="none" stroke="#E6141A" stroke-width="4.2" stroke-linejoin="round" stroke-linecap="butt"/>
<rect x="129.19" y="701" width="2.6" height="4.5" stroke="none"/>
<text x="138.6" y="734.5" font-size="38.5" text-anchor="middle" textLength="70.8" lengthAdjust="spacingAndGlyphs">0.00</text>
<rect x="253.96" y="701" width="2.6" height="4.5" stroke="none"/>
<text x="264.05" y="734.5" font-size="38.5" text-anchor="middle" textLength="70.8" lengthAdjust="spacingAndGlyphs">0.02</text>
<rect x="378.73" y="701" width="2.6" height="4.5" stroke="none"/>
<text x="389.5" y="734.5" font-size="38.5" text-anchor="middle" textLength="70.8" lengthAdjust="spacingAndGlyphs">0.04</text>
<rect x="503.5" y="701" width="2.6" height="4.5" stroke="none"/>
<text x="514.95" y="734.5" font-size="38.5" text-anchor="middle" textLength="70.8" lengthAdjust="spacingAndGlyphs">0.06</text>
<rect x="94.6" y="699.7" width="4.5" height="2.6" stroke="none"/>
<text x="68.5" y="708.2" font-size="38.5" textLength="19.2" lengthAdjust="spacingAndGlyphs">0</text>
<rect x="94.6" y="617.7" width="4.5" height="2.6" stroke="none"/>
<text x="47.7" y="633.7" font-size="38.5" textLength="40" lengthAdjust="spacingAndGlyphs">50</text>
<rect x="94.6" y="536.2" width="4.5" height="2.6" stroke="none"/>
<text x="27.2" y="548.7" font-size="38.5" textLength="60.5" lengthAdjust="spacingAndGlyphs">100</text>
<rect x="94.6" y="452.6" width="4.5" height="2.6" stroke="none"/>
<text x="27.2" y="468.6" font-size="38.5" textLength="60.5" lengthAdjust="spacingAndGlyphs">150</text>
<text x="167.2" y="786.6" font-size="39" textLength="351.5" lengthAdjust="spacingAndGlyphs">relative deformation</text>
<text transform="translate(26,586.2) rotate(-90)" font-size="39" text-anchor="middle" textLength="114" lengthAdjust="spacingAndGlyphs">counts</text>
<text x="425.4" y="482.4" font-size="38.5" textLength="139.2" lengthAdjust="spacingAndGlyphs">Tumor 1</text>
<rect x="579.4" y="696.1" width="62.3" height="1.3" stroke="none" fill="#000"/></g>
<g><rect x="766.41" y="688.09" width="62.66" height="9.01" fill="#064A86" stroke="#07142c" stroke-width="0.9"/>
<rect x="829.06" y="536.78" width="62.66" height="160.32" fill="#064A86" stroke="#07142c" stroke-width="0.9"/>
<rect x="891.72" y="446.05" width="62.66" height="251.05" fill="#064A86" stroke="#07142c" stroke-width="0.9"/>
<rect x="954.37" y="634.81" width="62.66" height="62.29" fill="#064A86" stroke="#07142c" stroke-width="0.9"/>
<rect x="1017.03" y="688.09" width="62.66" height="9.01" fill="#064A86" stroke="#07142c" stroke-width="0.9"/>
<rect x="736.6" y="426.6" width="499.2" height="270.5" fill="none" stroke="#000" stroke-width="4.2"/>
<path d="M793.01,696.54 L794.26,696.34 L795.51,696.09 L796.76,695.78 L798.01,695.39 L799.26,694.93 L800.51,694.36 L801.76,693.68 L803.01,692.89 L804.26,691.96 L805.51,690.88 L806.76,689.64 L808.01,688.23 L809.26,686.64 L810.51,684.86 L811.76,682.87 L813.01,680.67 L814.26,678.25 L815.51,675.61 L816.76,672.73 L818.01,669.63 L819.26,666.29 L820.51,662.72 L821.76,658.92 L823.01,654.89 L824.26,650.64 L825.51,646.18 L826.76,641.51 L828.01,636.65 L829.26,631.6 L830.51,626.38 L831.76,621 L833.01,615.48 L834.26,609.83 L835.51,604.06 L836.76,598.21 L838.01,592.27 L839.26,586.27 L840.51,580.24 L841.76,574.17 L843.01,568.1 L844.26,562.04 L845.51,556 L846.76,550.01 L848.01,544.09 L849.26,538.23 L850.51,532.48 L851.76,526.82 L853.01,521.29 L854.26,515.9 L855.51,510.65 L856.76,505.56 L858.01,500.64 L859.26,495.89 L860.51,491.34 L861.76,486.98 L863.01,482.82 L864.26,478.87 L865.51,475.14 L866.76,471.63 L868.01,468.34 L869.26,465.27 L870.51,462.43 L871.76,459.83 L873.01,457.45 L874.26,455.29 L875.51,453.37 L876.76,451.68 L878.01,450.2 L879.26,448.96 L880.51,447.93 L881.76,447.11 L883.01,446.51 L884.26,446.12 L885.51,445.92 L886.76,445.93 L888.01,446.12 L889.26,446.51 L890.51,447.07 L891.76,447.81 L893.01,448.71 L894.26,449.78 L895.51,451 L896.76,452.38 L898.01,453.89 L899.26,455.54 L900.51,457.32 L901.76,459.22 L903.01,461.24 L904.26,463.37 L905.51,465.6 L906.76,467.93 L908.01,470.35 L909.26,472.85 L910.51,475.43 L911.76,478.08 L913.01,480.8 L914.26,483.58 L915.51,486.42 L916.76,489.31 L918.01,492.24 L919.26,495.21 L920.51,498.21 L921.76,501.25 L923.01,504.31 L924.26,507.39 L925.51,510.49 L926.76,513.61 L928.01,516.73 L929.26,519.86 L930.51,522.99 L931.76,526.12 L933.01,529.24 L934.26,532.36 L935.51,535.47 L936.76,538.56 L938.01,541.64 L939.26,544.7 L940.51,547.74 L941.76,550.76 L943.01,553.76 L944.26,556.72 L945.51,559.66 L946.76,562.58 L948.01,565.46 L949.26,568.3 L950.51,571.12 L951.76,573.9 L953.01,576.64 L954.26,579.35 L955.51,582.02 L956.76,584.66 L958.01,587.25 L959.26,589.81 L960.51,592.32 L961.76,594.8 L963.01,597.23 L964.26,599.62 L965.51,601.98 L966.76,604.29 L968.01,606.56 L969.26,608.78 L970.51,610.97 L971.76,613.12 L973.01,615.22 L974.26,617.28 L975.51,619.31 L976.76,621.29 L978.01,623.23 L979.26,625.13 L980.51,626.99 L981.76,628.81 L983.01,630.6 L984.26,632.34 L985.51,634.05 L986.76,635.72 L988.01,637.35 L989.26,638.94 L990.51,640.5 L991.76,642.02 L993.01,643.51 L994.26,644.96 L995.51,646.38 L996.76,647.76 L998.01,649.11 L999.26,650.43 L1000.51,651.72 L1001.76,652.97 L1003.01,654.2 L1004.26,655.39 L1005.51,656.55 L1006.76,657.69 L1008.01,658.79 L1009.26,659.87 L1010.51,660.92 L1011.76,661.94 L1013.01,662.94 L1014.26,663.91 L1015.51,664.85 L1016.76,665.78 L1018.01,666.67 L1019.26,667.54 L1020.51,668.39 L1021.76,669.22 L1023.01,670.02 L1024.26,670.81 L1025.51,671.57 L1026.76,672.31 L1028.01,673.03 L1029.26,673.73 L1030.51,674.41 L1031.76,675.08 L1033.01,675.72 L1034.26,676.35 L1035.51,676.96 L1036.76,677.55 L1038.01,678.12 L1039.26,678.68 L1040.51,679.23 L1041.76,679.76 L1043.01,680.27 L1044.26,680.77 L1045.51,681.25 L1046.76,681.72 L1048.01,682.18 L1049.26,682.63 L1050.51,683.06 L1051.76,683.48 L1053.01,683.88 L1054.26,684.28 L1055.51,684.66 L1056.76,685.04 L1058.01,685.4 L1059.26,685.75 L1060.51,686.09 L1061.76,686.42 L1063.01,686.74 L1064.26,687.06 L1065.51,687.36 L1066.76,687.65 L1068.01,687.94 L1069.26,688.21 L1070.51,688.48 L1071.76,688.74 L1073.01,689 L1074.26,689.24 L1075.51,689.48 L1076.76,689.71 L1078.01,689.94 L1079.26,690.15 L1080.51,690.36 L1081.76,690.57 L1083.01,690.77 L1084.26,690.96 L1085.51,691.15 L1086.76,691.33 L1088.01,691.5 L1089.26,691.67 L1090.51,691.84 L1091.76,692 L1093.01,692.16 L1094.26,692.31 L1095.51,692.45 L1096.76,692.59 L1098.01,692.73 L1099.26,692.87 L1100.51,692.99 L1101.76,693.12 L1103.01,693.24 L1104.26,693.36 L1105.51,693.47 L1106.76,693.58 L1108.01,693.69 L1109.26,693.8 L1110.51,693.9 L1111.76,694 L1113.01,694.09 L1114.26,694.18 L1115.51,694.27 L1116.76,694.36 L1118.01,694.44 L1119.26,694.52 L1120.51,694.6 L1121.76,694.68 L1123.01,694.75 L1124.26,694.82 L1125.51,694.89 L1126.76,694.96 L1128.01,695.03 L1129.26,695.09 L1130.51,695.15 L1131.76,695.21 L1133.01,695.27 L1134.26,695.32 L1135.51,695.38 L1136.76,695.43 L1138.01,695.48 L1139.26,695.53 L1140.51,695.58 L1141.76,695.63 L1143.01,695.67 L1144.26,695.72 L1145.51,695.76 L1146.76,695.8 L1148.01,695.84 L1149.26,695.88 L1150.51,695.91 L1151.76,695.95 L1153.01,695.99 L1154.26,696.02 L1155.51,696.05 L1156.76,696.08 L1158.01,696.11 L1159.26,696.14" fill="none" stroke="#E6141A" stroke-width="4.2" stroke-linejoin="round" stroke-linecap="butt"/>
<rect x="765.11" y="697.1" width="2.6" height="4.5" stroke="none"/>
<text x="770.2" y="734.5" font-size="38.5" text-anchor="middle" textLength="70.8" lengthAdjust="spacingAndGlyphs">0.00</text>
<rect x="890.42" y="697.1" width="2.6" height="4.5" stroke="none"/>
<text x="895.65" y="734.5" font-size="38.5" text-anchor="middle" textLength="70.8" lengthAdjust="spacingAndGlyphs">0.02</text>
<rect x="1015.73" y="697.1" width="2.6" height="4.5" stroke="none"/>
<text x="1021.1" y="734.5" font-size="38.5" text-anchor="middle" textLength="70.8" lengthAdjust="spacingAndGlyphs">0.04</text>
<rect x="1141.04" y="697.1" width="2.6" height="4.5" stroke="none"/>
<text x="1146.55" y="734.5" font-size="38.5" text-anchor="middle" textLength="70.8" lengthAdjust="spacingAndGlyphs">0.06</text>
<rect x="732.1" y="695.8" width="4.5" height="2.6" stroke="none"/>
<text x="704.2" y="708.8" font-size="38.5" textLength="19.2" lengthAdjust="spacingAndGlyphs">0</text>
<rect x="732.1" y="578.6" width="4.5" height="2.6" stroke="none"/>
<text x="662.9" y="591.9" font-size="38.5" textLength="60.5" lengthAdjust="spacingAndGlyphs">100</text>
<rect x="732.1" y="462.9" width="4.5" height="2.6" stroke="none"/>
<text x="662.9" y="478.6" font-size="38.5" textLength="60.5" lengthAdjust="spacingAndGlyphs">200</text>
<text x="799.4" y="786.6" font-size="39" textLength="351.5" lengthAdjust="spacingAndGlyphs">relative deformation</text>
<text transform="translate(657.6,586.2) rotate(-90)" font-size="39" text-anchor="middle" textLength="114" lengthAdjust="spacingAndGlyphs">counts</text>
<text x="1052.2" y="482" font-size="38.5" textLength="142.9" lengthAdjust="spacingAndGlyphs">Tumor 2</text>
<rect x="1236" y="696.1" width="30.7" height="1.3" stroke="none" fill="#000"/></g>
<g><rect x="1392.93" y="693.57" width="31.26" height="2.53" fill="#064A86" stroke="#07142c" stroke-width="0.9"/>
<rect x="1424.18" y="670.74" width="31.26" height="25.36" fill="#064A86" stroke="#07142c" stroke-width="0.9"/>
<rect x="1455.44" y="609.85" width="31.26" height="86.25" fill="#064A86" stroke="#07142c" stroke-width="0.9"/>
<rect x="1486.7" y="446.97" width="31.26" height="249.13" fill="#064A86" stroke="#07142c" stroke-width="0.9"/>
<rect x="1517.95" y="444.84" width="31.26" height="251.26" fill="#064A86" stroke="#07142c" stroke-width="0.9"/>
<rect x="1549.21" y="478.93" width="31.26" height="217.17" fill="#064A86" stroke="#07142c" stroke-width="0.9"/>
<rect x="1580.47" y="504.2" width="31.26" height="191.9" fill="#064A86" stroke="#07142c" stroke-width="0.9"/>
<rect x="1611.73" y="630.25" width="31.26" height="65.85" fill="#064A86" stroke="#07142c" stroke-width="0.9"/>
<rect x="1642.98" y="637.25" width="31.26" height="58.85" fill="#064A86" stroke="#07142c" stroke-width="0.9"/>
<rect x="1674.24" y="676.22" width="31.26" height="19.88" fill="#064A86" stroke="#07142c" stroke-width="0.9"/>
<rect x="1705.5" y="678.04" width="31.26" height="18.06" fill="#064A86" stroke="#07142c" stroke-width="0.9"/>
<rect x="1736.75" y="685.35" width="31.26" height="10.75" fill="#064A86" stroke="#07142c" stroke-width="0.9"/>
<rect x="1768.01" y="690.53" width="31.26" height="5.57" fill="#064A86" stroke="#07142c" stroke-width="0.9"/>
<rect x="1799.27" y="692.35" width="31.26" height="3.75" fill="#064A86" stroke="#07142c" stroke-width="0.9"/>
<rect x="1361.9" y="426.3" width="499.3" height="269.8" fill="none" stroke="#000" stroke-width="4.2"/>
<path d="M1424.68,695.53 L1425.93,695.31 L1427.18,695.02 L1428.43,694.66 L1429.68,694.2 L1430.93,693.65 L1432.18,692.97 L1433.43,692.17 L1434.68,691.22 L1435.93,690.11 L1437.18,688.83 L1438.43,687.37 L1439.68,685.72 L1440.93,683.86 L1442.18,681.8 L1443.43,679.51 L1444.68,677.01 L1445.93,674.28 L1447.18,671.32 L1448.43,668.13 L1449.68,664.71 L1450.93,661.07 L1452.18,657.22 L1453.43,653.15 L1454.68,648.88 L1455.93,644.41 L1457.18,639.75 L1458.43,634.93 L1459.68,629.94 L1460.93,624.8 L1462.18,619.53 L1463.43,614.15 L1464.68,608.65 L1465.93,603.07 L1467.18,597.42 L1468.43,591.71 L1469.68,585.96 L1470.93,580.18 L1472.18,574.39 L1473.43,568.61 L1474.68,562.85 L1475.93,557.12 L1477.18,551.44 L1478.43,545.83 L1479.68,540.29 L1480.93,534.83 L1482.18,529.48 L1483.43,524.23 L1484.68,519.11 L1485.93,514.11 L1487.18,509.25 L1488.43,504.54 L1489.68,499.99 L1490.93,495.59 L1492.18,491.36 L1493.43,487.3 L1494.68,483.41 L1495.93,479.71 L1497.18,476.18 L1498.43,472.85 L1499.68,469.7 L1500.93,466.73 L1502.18,463.96 L1503.43,461.38 L1504.68,458.99 L1505.93,456.78 L1507.18,454.76 L1508.43,452.93 L1509.68,451.29 L1510.93,449.82 L1512.18,448.54 L1513.43,447.43 L1514.68,446.5 L1515.93,445.73 L1517.18,445.14 L1518.43,444.7 L1519.68,444.43 L1520.93,444.31 L1522.18,444.34 L1523.43,444.51 L1524.68,444.83 L1525.93,445.28 L1527.18,445.87 L1528.43,446.59 L1529.68,447.43 L1530.93,448.38 L1532.18,449.45 L1533.43,450.63 L1534.68,451.91 L1535.93,453.3 L1537.18,454.78 L1538.43,456.34 L1539.68,458 L1540.93,459.73 L1542.18,461.55 L1543.43,463.43 L1544.68,465.39 L1545.93,467.41 L1547.18,469.49 L1548.43,471.62 L1549.68,473.81 L1550.93,476.04 L1552.18,478.33 L1553.43,480.65 L1554.68,483.01 L1555.93,485.41 L1557.18,487.83 L1558.43,490.29 L1559.68,492.77 L1560.93,495.27 L1562.18,497.79 L1563.43,500.33 L1564.68,502.88 L1565.93,505.45 L1567.18,508.02 L1568.43,510.6 L1569.68,513.18 L1570.93,515.77 L1572.18,518.36 L1573.43,520.94 L1574.68,523.52 L1575.93,526.1 L1577.18,528.67 L1578.43,531.23 L1579.68,533.78 L1580.93,536.32 L1582.18,538.85 L1583.43,541.36 L1584.68,543.85 L1585.93,546.34 L1587.18,548.8 L1588.43,551.24 L1589.68,553.67 L1590.93,556.07 L1592.18,558.46 L1593.43,560.82 L1594.68,563.16 L1595.93,565.47 L1597.18,567.76 L1598.43,570.03 L1599.68,572.27 L1600.93,574.49 L1602.18,576.68 L1603.43,578.85 L1604.68,580.99 L1605.93,583.1 L1607.18,585.18 L1608.43,587.24 L1609.68,589.27 L1610.93,591.28 L1612.18,593.25 L1613.43,595.2 L1614.68,597.12 L1615.93,599.01 L1617.18,600.88 L1618.43,602.71 L1619.68,604.52 L1620.93,606.3 L1622.18,608.06 L1623.43,609.78 L1624.68,611.48 L1625.93,613.15 L1627.18,614.8 L1628.43,616.41 L1629.68,618.01 L1630.93,619.57 L1632.18,621.11 L1633.43,622.62 L1634.68,624.1 L1635.93,625.56 L1637.18,627 L1638.43,628.41 L1639.68,629.79 L1640.93,631.15 L1642.18,632.49 L1643.43,633.8 L1644.68,635.08 L1645.93,636.35 L1647.18,637.59 L1648.43,638.81 L1649.68,640 L1650.93,641.17 L1652.18,642.32 L1653.43,643.45 L1654.68,644.56 L1655.93,645.64 L1657.18,646.71 L1658.43,647.75 L1659.68,648.77 L1660.93,649.78 L1662.18,650.76 L1663.43,651.73 L1664.68,652.67 L1665.93,653.6 L1667.18,654.51 L1668.43,655.4 L1669.68,656.27 L1670.93,657.13 L1672.18,657.96 L1673.43,658.78 L1674.68,659.59 L1675.93,660.38 L1677.18,661.15 L1678.43,661.9 L1679.68,662.64 L1680.93,663.37 L1682.18,664.08 L1683.43,664.77 L1684.68,665.46 L1685.93,666.12 L1687.18,666.77 L1688.43,667.41 L1689.68,668.04 L1690.93,668.65 L1692.18,669.25 L1693.43,669.84 L1694.68,670.41 L1695.93,670.98 L1697.18,671.53 L1698.43,672.06 L1699.68,672.59 L1700.93,673.11 L1702.18,673.61 L1703.43,674.11 L1704.68,674.59 L1705.93,675.06 L1707.18,675.53 L1708.43,675.98 L1709.68,676.42 L1710.93,676.86 L1712.18,677.28 L1713.43,677.7 L1714.68,678.1 L1715.93,678.5 L1717.18,678.89 L1718.43,679.27 L1719.68,679.64 L1720.93,680 L1722.18,680.36 L1723.43,680.71 L1724.68,681.05 L1725.93,681.38 L1727.18,681.7 L1728.43,682.02 L1729.68,682.33 L1730.93,682.64 L1732.18,682.94 L1733.43,683.23 L1734.68,683.51 L1735.93,683.79 L1737.18,684.06 L1738.43,684.33 L1739.68,684.59 L1740.93,684.85 L1742.18,685.1 L1743.43,685.34 L1744.68,685.58 L1745.93,685.81 L1747.18,686.04 L1748.43,686.26 L1749.68,686.48 L1750.93,686.69 L1752.18,686.9 L1753.43,687.1 L1754.68,687.3 L1755.93,687.5 L1757.18,687.69 L1758.43,687.87 L1759.68,688.06 L1760.93,688.23 L1762.18,688.41 L1763.43,688.58 L1764.68,688.74 L1765.93,688.91 L1767.18,689.06 L1768.43,689.22 L1769.68,689.37 L1770.93,689.52 L1772.18,689.67 L1773.43,689.81 L1774.68,689.95 L1775.93,690.08 L1777.18,690.22 L1778.43,690.34 L1779.68,690.47 L1780.93,690.6 L1782.18,690.72 L1783.43,690.84 L1784.68,690.95 L1785.93,691.06 L1787.18,691.18 L1788.43,691.28 L1789.68,691.39 L1790.93,691.49 L1792.18,691.59 L1793.43,691.69 L1794.68,691.79 L1795.93,691.88 L1797.18,691.98 L1798.43,692.07 L1799.68,692.16 L1800.93,692.24 L1802.18,692.33 L1803.43,692.41 L1804.68,692.49 L1805.93,692.57 L1807.18,692.65 L1808.43,692.72 L1809.68,692.79 L1810.93,692.87 L1812.18,692.94 L1813.43,693.01 L1814.68,693.07 L1815.93,693.14 L1817.18,693.2 L1818.43,693.27 L1819.68,693.33 L1820.93,693.39 L1822.18,693.45 L1823.43,693.51 L1824.68,693.56 L1825.93,693.62 L1827.18,693.67 L1828.43,693.72 L1829.68,693.78 L1830.93,693.83 L1832.18,693.87 L1833.43,693.92 L1834.68,693.97 L1835.93,694.02 L1837.18,694.06 L1838.43,694.11 L1839.68,694.15 L1840.93,694.19 L1842.18,694.23 L1843.43,694.27 L1844.68,694.31 L1845.93,694.35 L1847.18,694.39 L1848.43,694.42 L1849.68,694.46 L1850.93,694.5 L1852.18,694.53 L1853.43,694.56 L1854.68,694.6 L1855.93,694.63 L1857.18,694.66 L1858.43,694.69 L1859.68,694.72 L1860.93,694.75" fill="none" stroke="#E6141A" stroke-width="4.2" stroke-linejoin="round" stroke-linecap="butt"/>
<rect x="1391.63" y="696.1" width="2.6" height="4.5" stroke="none"/>
<text x="1402.2" y="734.5" font-size="38.5" text-anchor="middle" textLength="70.8" lengthAdjust="spacingAndGlyphs">0.00</text>
<rect x="1516.65" y="696.1" width="2.6" height="4.5" stroke="none"/>
<text x="1527.65" y="734.5" font-size="38.5" text-anchor="middle" textLength="70.8" lengthAdjust="spacingAndGlyphs">0.02</text>
<rect x="1641.68" y="696.1" width="2.6" height="4.5" stroke="none"/>
<text x="1653.1" y="734.5" font-size="38.5" text-anchor="middle" textLength="70.8" lengthAdjust="spacingAndGlyphs">0.04</text>
<rect x="1766.71" y="696.1" width="2.6" height="4.5" stroke="none"/>
<text x="1778.55" y="734.5" font-size="38.5" text-anchor="middle" textLength="70.8" lengthAdjust="spacingAndGlyphs">0.06</text>
<rect x="1357.4" y="694.8" width="4.5" height="2.6" stroke="none"/>
<text x="1333" y="708.8" font-size="38.5" textLength="19.2" lengthAdjust="spacingAndGlyphs">0</text>
<rect x="1357.4" y="581.4" width="4.5" height="2.6" stroke="none"/>
<text x="1312.2" y="596" font-size="38.5" textLength="40" lengthAdjust="spacingAndGlyphs">50</text>
<rect x="1357.4" y="468.7" width="4.5" height="2.6" stroke="none"/>
<text x="1291.7" y="482.7" font-size="38.5" textLength="60.5" lengthAdjust="spacingAndGlyphs">100</text>
<text x="1431.4" y="786.6" font-size="39" textLength="351.5" lengthAdjust="spacingAndGlyphs">relative deformation</text>
<text transform="translate(1289.5,586.2) rotate(-90)" font-size="39" text-anchor="middle" textLength="114" lengthAdjust="spacingAndGlyphs">counts</text>
<text x="1687.6" y="482" font-size="38.5" textLength="143.2" lengthAdjust="spacingAndGlyphs">Tumor 3</text></g>
<g><rect x="104.45" y="1100.53" width="31.04" height="6.57" fill="#064A86" stroke="#07142c" stroke-width="0.9"/>
<rect x="135.49" y="1093.83" width="31.36" height="13.27" fill="#064A86" stroke="#07142c" stroke-width="0.9"/>
<rect x="166.85" y="1017.72" width="31.36" height="89.38" fill="#064A86" stroke="#07142c" stroke-width="0.9"/>
<rect x="198.21" y="924.86" width="31.36" height="182.24" fill="#064A86" stroke="#07142c" stroke-width="0.9"/>
<rect x="229.57" y="856.05" width="31.36" height="251.05" fill="#064A86" stroke="#07142c" stroke-width="0.9"/>
<rect x="260.93" y="914.81" width="31.36" height="192.29" fill="#064A86" stroke="#07142c" stroke-width="0.9"/>
<rect x="292.28" y="958.04" width="31.36" height="149.06" fill="#064A86" stroke="#07142c" stroke-width="0.9"/>
<rect x="323.64" y="1021.98" width="31.36" height="85.12" fill="#064A86" stroke="#07142c" stroke-width="0.9"/>
<rect x="355" y="1044.81" width="31.36" height="62.29" fill="#064A86" stroke="#07142c" stroke-width="0.9"/>
<rect x="386.36" y="1074.95" width="31.36" height="32.15" fill="#064A86" stroke="#07142c" stroke-width="0.9"/>
<rect x="417.72" y="1091.09" width="31.36" height="16.01" fill="#064A86" stroke="#07142c" stroke-width="0.9"/>
<rect x="480.43" y="1104.18" width="31.36" height="2.92" fill="#064A86" stroke="#07142c" stroke-width="0.9"/>
<rect x="105" y="836.6" width="499.5" height="270.5" fill="none" stroke="#000" stroke-width="4.2"/>
<path d="M150.99,1106.48 L152.24,1106.07 L153.49,1105.49 L154.74,1104.68 L155.99,1103.61 L157.24,1102.25 L158.49,1100.55 L159.74,1098.5 L160.99,1096.07 L162.24,1093.25 L163.49,1090.02 L164.74,1086.38 L165.99,1082.33 L167.24,1077.89 L168.49,1073.06 L169.74,1067.87 L170.99,1062.34 L172.24,1056.5 L173.49,1050.37 L174.74,1043.99 L175.99,1037.39 L177.24,1030.6 L178.49,1023.65 L179.74,1016.59 L180.99,1009.45 L182.24,1002.25 L183.49,995.03 L184.74,987.82 L185.99,980.65 L187.24,973.54 L188.49,966.53 L189.74,959.62 L190.99,952.86 L192.24,946.25 L193.49,939.81 L194.74,933.56 L195.99,927.51 L197.24,921.68 L198.49,916.08 L199.74,910.7 L200.99,905.58 L202.24,900.69 L203.49,896.06 L204.74,891.69 L205.99,887.57 L207.24,883.72 L208.49,880.12 L209.74,876.77 L210.99,873.69 L212.24,870.85 L213.49,868.27 L214.74,865.93 L215.99,863.83 L217.24,861.97 L218.49,860.33 L219.74,858.92 L220.99,857.73 L222.24,856.76 L223.49,855.98 L224.74,855.41 L225.99,855.03 L227.24,854.83 L228.49,854.81 L229.74,854.97 L230.99,855.28 L232.24,855.75 L233.49,856.38 L234.74,857.14 L235.99,858.04 L237.24,859.08 L238.49,860.23 L239.74,861.5 L240.99,862.88 L242.24,864.37 L243.49,865.95 L244.74,867.62 L245.99,869.38 L247.24,871.23 L248.49,873.14 L249.74,875.13 L250.99,877.18 L252.24,879.29 L253.49,881.46 L254.74,883.68 L255.99,885.94 L257.24,888.25 L258.49,890.59 L259.74,892.97 L260.99,895.39 L262.24,897.82 L263.49,900.29 L264.74,902.77 L265.99,905.27 L267.24,907.78 L268.49,910.31 L269.74,912.85 L270.99,915.39 L272.24,917.94 L273.49,920.48 L274.74,923.03 L275.99,925.58 L277.24,928.12 L278.49,930.66 L279.74,933.19 L280.99,935.71 L282.24,938.21 L283.49,940.71 L284.74,943.19 L285.99,945.66 L287.24,948.11 L288.49,950.55 L289.74,952.97 L290.99,955.36 L292.24,957.74 L293.49,960.1 L294.74,962.44 L295.99,964.75 L297.24,967.04 L298.49,969.31 L299.74,971.56 L300.99,973.78 L302.24,975.97 L303.49,978.14 L304.74,980.29 L305.99,982.41 L307.24,984.5 L308.49,986.57 L309.74,988.62 L310.99,990.63 L312.24,992.62 L313.49,994.58 L314.74,996.52 L315.99,998.43 L317.24,1000.31 L318.49,1002.17 L319.74,1004 L320.99,1005.8 L322.24,1007.58 L323.49,1009.33 L324.74,1011.06 L325.99,1012.76 L327.24,1014.43 L328.49,1016.08 L329.74,1017.7 L330.99,1019.3 L332.24,1020.87 L333.49,1022.41 L334.74,1023.94 L335.99,1025.43 L337.24,1026.91 L338.49,1028.35 L339.74,1029.78 L340.99,1031.18 L342.24,1032.56 L343.49,1033.91 L344.74,1035.25 L345.99,1036.56 L347.24,1037.84 L348.49,1039.11 L349.74,1040.35 L350.99,1041.58 L352.24,1042.78 L353.49,1043.96 L354.74,1045.12 L355.99,1046.26 L357.24,1047.38 L358.49,1048.48 L359.74,1049.56 L360.99,1050.62 L362.24,1051.66 L363.49,1052.68 L364.74,1053.69 L365.99,1054.68 L367.24,1055.65 L368.49,1056.6 L369.74,1057.53 L370.99,1058.45 L372.24,1059.35 L373.49,1060.24 L374.74,1061.11 L375.99,1061.96 L377.24,1062.8 L378.49,1063.62 L379.74,1064.43 L380.99,1065.22 L382.24,1066 L383.49,1066.76 L384.74,1067.51 L385.99,1068.24 L387.24,1068.97 L388.49,1069.67 L389.74,1070.37 L390.99,1071.05 L392.24,1071.72 L393.49,1072.38 L394.74,1073.02 L395.99,1073.65 L397.24,1074.27 L398.49,1074.88 L399.74,1075.48 L400.99,1076.07 L402.24,1076.64 L403.49,1077.21 L404.74,1077.76 L405.99,1078.3 L407.24,1078.84 L408.49,1079.36 L409.74,1079.87 L410.99,1080.38 L412.24,1080.87 L413.49,1081.36 L414.74,1081.83 L415.99,1082.3 L417.24,1082.76 L418.49,1083.21 L419.74,1083.65 L420.99,1084.08 L422.24,1084.5 L423.49,1084.92 L424.74,1085.33 L425.99,1085.73 L427.24,1086.12 L428.49,1086.51 L429.74,1086.88 L430.99,1087.26 L432.24,1087.62 L433.49,1087.98 L434.74,1088.33 L435.99,1088.67 L437.24,1089.01 L438.49,1089.34 L439.74,1089.66 L440.99,1089.98 L442.24,1090.3 L443.49,1090.6 L444.74,1090.9 L445.99,1091.2 L447.24,1091.49 L448.49,1091.77 L449.74,1092.05 L450.99,1092.32 L452.24,1092.59 L453.49,1092.85 L454.74,1093.11 L455.99,1093.37 L457.24,1093.61 L458.49,1093.86 L459.74,1094.1 L460.99,1094.33 L462.24,1094.56 L463.49,1094.79 L464.74,1095.01 L465.99,1095.23 L467.24,1095.44 L468.49,1095.65 L469.74,1095.86 L470.99,1096.06 L472.24,1096.26 L473.49,1096.45 L474.74,1096.64 L475.99,1096.83 L477.24,1097.01 L478.49,1097.19 L479.74,1097.37 L480.99,1097.54 L482.24,1097.71 L483.49,1097.88 L484.74,1098.04 L485.99,1098.2 L487.24,1098.36 L488.49,1098.52 L489.74,1098.67 L490.99,1098.82 L492.24,1098.96 L493.49,1099.11 L494.74,1099.25 L495.99,1099.39 L497.24,1099.52 L498.49,1099.66 L499.74,1099.79 L500.99,1099.92 L502.24,1100.04 L503.49,1100.17 L504.74,1100.29 L505.99,1100.41 L507.24,1100.52 L508.49,1100.64 L509.74,1100.75 L510.99,1100.86 L512.24,1100.97 L513.49,1101.08 L514.74,1101.18 L515.99,1101.29 L517.24,1101.39 L518.49,1101.49 L519.74,1101.58 L520.99,1101.68 L522.24,1101.77 L523.49,1101.86 L524.74,1101.95 L525.99,1102.04 L527.24,1102.13 L528.49,1102.22 L529.74,1102.3 L530.99,1102.38 L532.24,1102.46 L533.49,1102.54 L534.74,1102.62 L535.99,1102.7 L537.24,1102.77 L538.49,1102.85 L539.74,1102.92 L540.99,1102.99 L542.24,1103.06 L543.49,1103.13 L544.74,1103.2 L545.99,1103.26 L547.24,1103.33 L548.49,1103.39 L549.74,1103.45 L550.99,1103.52 L552.24,1103.58 L553.49,1103.64 L554.74,1103.69 L555.99,1103.75 L557.24,1103.81 L558.49,1103.86 L559.74,1103.92 L560.99,1103.97 L562.24,1104.02 L563.49,1104.07 L564.74,1104.13 L565.99,1104.17 L567.24,1104.22 L568.49,1104.27 L569.74,1104.32 L570.99,1104.36 L572.24,1104.41 L573.49,1104.46 L574.74,1104.5 L575.99,1104.54 L577.24,1104.58 L578.49,1104.63 L579.74,1104.67 L580.99,1104.71 L582.24,1104.75 L583.49,1104.79 L584.74,1104.82 L585.99,1104.86 L587.24,1104.9 L588.49,1104.93 L589.74,1104.97 L590.99,1105 L592.24,1105.04 L593.49,1105.07 L594.74,1105.1 L595.99,1105.14 L597.24,1105.17 L598.49,1105.2 L599.74,1105.23 L600.99,1105.26 L602.24,1105.29 L603.49,1105.32" fill="none" stroke="#E6141A" stroke-width="4.2" stroke-linejoin="round" stroke-linecap="butt"/>
<rect x="134.19" y="1107.1" width="2.6" height="4.5" stroke="none"/>
<text x="138.6" y="1146.3" font-size="38.5" text-anchor="middle" textLength="70.8" lengthAdjust="spacingAndGlyphs">0.00</text>
<rect x="259.63" y="1107.1" width="2.6" height="4.5" stroke="none"/>
<text x="264.05" y="1146.3" font-size="38.5" text-anchor="middle" textLength="70.8" lengthAdjust="spacingAndGlyphs">0.02</text>
<rect x="385.06" y="1107.1" width="2.6" height="4.5" stroke="none"/>
<text x="389.5" y="1146.3" font-size="38.5" text-anchor="middle" textLength="70.8" lengthAdjust="spacingAndGlyphs">0.04</text>
<rect x="510.49" y="1107.1" width="2.6" height="4.5" stroke="none"/>
<text x="514.95" y="1146.3" font-size="38.5" text-anchor="middle" textLength="70.8" lengthAdjust="spacingAndGlyphs">0.06</text>
<rect x="100.5" y="1105.8" width="4.5" height="2.6" stroke="none"/>
<text x="72.9" y="1121.5" font-size="38.5" textLength="19.2" lengthAdjust="spacingAndGlyphs">0</text>
<rect x="100.5" y="1033.5" width="4.5" height="2.6" stroke="none"/>
<text x="52.1" y="1050.9" font-size="38.5" textLength="40" lengthAdjust="spacingAndGlyphs">50</text>
<rect x="100.5" y="961.6" width="4.5" height="2.6" stroke="none"/>
<text x="31.6" y="974.9" font-size="38.5" textLength="60.5" lengthAdjust="spacingAndGlyphs">100</text>
<rect x="100.5" y="889.8" width="4.5" height="2.6" stroke="none"/>
<text x="31.6" y="901.7" font-size="38.5" textLength="60.5" lengthAdjust="spacingAndGlyphs">150</text>
<text x="167.2" y="1198.4" font-size="39" textLength="351.5" lengthAdjust="spacingAndGlyphs">relative deformation</text>
<text transform="translate(26,998) rotate(-90)" font-size="39" text-anchor="middle" textLength="114" lengthAdjust="spacingAndGlyphs">counts</text>
<text x="425.9" y="891.4" font-size="38.5" textLength="143.8" lengthAdjust="spacingAndGlyphs">Tumor 4</text></g>
<g><rect x="768.54" y="1092.92" width="62.59" height="17.18" fill="#064A86" stroke="#07142c" stroke-width="0.9"/>
<rect x="831.12" y="926.08" width="62.59" height="184.02" fill="#064A86" stroke="#07142c" stroke-width="0.9"/>
<rect x="893.71" y="859.1" width="62.59" height="251" fill="#064A86" stroke="#07142c" stroke-width="0.9"/>
<rect x="956.29" y="976.31" width="62.59" height="133.79" fill="#064A86" stroke="#07142c" stroke-width="0.9"/>
<rect x="1018.88" y="976.31" width="62.59" height="133.79" fill="#064A86" stroke="#07142c" stroke-width="0.9"/>
<rect x="1081.47" y="1077.08" width="62.59" height="33.02" fill="#064A86" stroke="#07142c" stroke-width="0.9"/>
<rect x="1144.05" y="1092.92" width="62.59" height="17.18" fill="#064A86" stroke="#07142c" stroke-width="0.9"/>
<rect x="738.4" y="839.7" width="499.2" height="270.4" fill="none" stroke="#000" stroke-width="4.2"/>
<path d="M786.54,1109.52 L787.79,1109.21 L789.04,1108.8 L790.29,1108.27 L791.54,1107.58 L792.79,1106.74 L794.04,1105.71 L795.29,1104.48 L796.54,1103.05 L797.79,1101.39 L799.04,1099.5 L800.29,1097.38 L801.54,1095.01 L802.79,1092.4 L804.04,1089.55 L805.29,1086.46 L806.54,1083.13 L807.79,1079.58 L809.04,1075.81 L810.29,1071.83 L811.54,1067.65 L812.79,1063.28 L814.04,1058.75 L815.29,1054.05 L816.54,1049.22 L817.79,1044.25 L819.04,1039.18 L820.29,1034 L821.54,1028.75 L822.79,1023.42 L824.04,1018.05 L825.29,1012.63 L826.54,1007.19 L827.79,1001.75 L829.04,996.3 L830.29,990.87 L831.54,985.47 L832.79,980.11 L834.04,974.8 L835.29,969.55 L836.54,964.37 L837.79,959.27 L839.04,954.25 L840.29,949.33 L841.54,944.51 L842.79,939.8 L844.04,935.21 L845.29,930.73 L846.54,926.37 L847.79,922.14 L849.04,918.05 L850.29,914.09 L851.54,910.26 L852.79,906.57 L854.04,903.02 L855.29,899.62 L856.54,896.35 L857.79,893.23 L859.04,890.25 L860.29,887.42 L861.54,884.72 L862.79,882.17 L864.04,879.76 L865.29,877.49 L866.54,875.36 L867.79,873.36 L869.04,871.5 L870.29,869.78 L871.54,868.18 L872.79,866.71 L874.04,865.37 L875.29,864.15 L876.54,863.06 L877.79,862.08 L879.04,861.22 L880.29,860.48 L881.54,859.84 L882.79,859.31 L884.04,858.89 L885.29,858.57 L886.54,858.35 L887.79,858.23 L889.04,858.2 L890.29,858.26 L891.54,858.41 L892.79,858.65 L894.04,858.97 L895.29,859.37 L896.54,859.84 L897.79,860.39 L899.04,861.01 L900.29,861.7 L901.54,862.46 L902.79,863.28 L904.04,864.16 L905.29,865.1 L906.54,866.1 L907.79,867.15 L909.04,868.25 L910.29,869.4 L911.54,870.6 L912.79,871.84 L914.04,873.13 L915.29,874.45 L916.54,875.82 L917.79,877.22 L919.04,878.65 L920.29,880.12 L921.54,881.62 L922.79,883.14 L924.04,884.7 L925.29,886.28 L926.54,887.88 L927.79,889.51 L929.04,891.16 L930.29,892.82 L931.54,894.51 L932.79,896.21 L934.04,897.92 L935.29,899.65 L936.54,901.39 L937.79,903.15 L939.04,904.91 L940.29,906.68 L941.54,908.46 L942.79,910.25 L944.04,912.04 L945.29,913.84 L946.54,915.64 L947.79,917.44 L949.04,919.25 L950.29,921.06 L951.54,922.86 L952.79,924.67 L954.04,926.48 L955.29,928.28 L956.54,930.08 L957.79,931.88 L959.04,933.68 L960.29,935.47 L961.54,937.25 L962.79,939.03 L964.04,940.81 L965.29,942.57 L966.54,944.33 L967.79,946.09 L969.04,947.83 L970.29,949.57 L971.54,951.3 L972.79,953.02 L974.04,954.72 L975.29,956.42 L976.54,958.11 L977.79,959.79 L979.04,961.46 L980.29,963.12 L981.54,964.77 L982.79,966.4 L984.04,968.03 L985.29,969.64 L986.54,971.24 L987.79,972.83 L989.04,974.4 L990.29,975.97 L991.54,977.52 L992.79,979.06 L994.04,980.58 L995.29,982.1 L996.54,983.6 L997.79,985.08 L999.04,986.56 L1000.29,988.02 L1001.54,989.47 L1002.79,990.9 L1004.04,992.32 L1005.29,993.73 L1006.54,995.12 L1007.79,996.51 L1009.04,997.87 L1010.29,999.23 L1011.54,1000.57 L1012.79,1001.9 L1014.04,1003.21 L1015.29,1004.51 L1016.54,1005.8 L1017.79,1007.07 L1019.04,1008.33 L1020.29,1009.58 L1021.54,1010.82 L1022.79,1012.04 L1024.04,1013.25 L1025.29,1014.44 L1026.54,1015.63 L1027.79,1016.8 L1029.04,1017.95 L1030.29,1019.1 L1031.54,1020.23 L1032.79,1021.35 L1034.04,1022.45 L1035.29,1023.55 L1036.54,1024.63 L1037.79,1025.7 L1039.04,1026.76 L1040.29,1027.8 L1041.54,1028.83 L1042.79,1029.85 L1044.04,1030.86 L1045.29,1031.86 L1046.54,1032.85 L1047.79,1033.82 L1049.04,1034.78 L1050.29,1035.73 L1051.54,1036.67 L1052.79,1037.6 L1054.04,1038.52 L1055.29,1039.43 L1056.54,1040.32 L1057.79,1041.21 L1059.04,1042.08 L1060.29,1042.95 L1061.54,1043.8 L1062.79,1044.64 L1064.04,1045.48 L1065.29,1046.3 L1066.54,1047.11 L1067.79,1047.91 L1069.04,1048.7 L1070.29,1049.49 L1071.54,1050.26 L1072.79,1051.02 L1074.04,1051.78 L1075.29,1052.52 L1076.54,1053.26 L1077.79,1053.98 L1079.04,1054.7 L1080.29,1055.41 L1081.54,1056.11 L1082.79,1056.8 L1084.04,1057.48 L1085.29,1058.15 L1086.54,1058.81 L1087.79,1059.47 L1089.04,1060.12 L1090.29,1060.76 L1091.54,1061.39 L1092.79,1062.01 L1094.04,1062.63 L1095.29,1063.23 L1096.54,1063.83 L1097.79,1064.42 L1099.04,1065.01 L1100.29,1065.58 L1101.54,1066.15 L1102.79,1066.72 L1104.04,1067.27 L1105.29,1067.82 L1106.54,1068.36 L1107.79,1068.89 L1109.04,1069.42 L1110.29,1069.94 L1111.54,1070.45 L1112.79,1070.96 L1114.04,1071.46 L1115.29,1071.95 L1116.54,1072.44 L1117.79,1072.92 L1119.04,1073.39 L1120.29,1073.86 L1121.54,1074.33 L1122.79,1074.78 L1124.04,1075.23 L1125.29,1075.68 L1126.54,1076.11 L1127.79,1076.55 L1129.04,1076.98 L1130.29,1077.4 L1131.54,1077.81 L1132.79,1078.22 L1134.04,1078.63 L1135.29,1079.03 L1136.54,1079.42 L1137.79,1079.81 L1139.04,1080.2 L1140.29,1080.58 L1141.54,1080.95 L1142.79,1081.32 L1144.04,1081.69 L1145.29,1082.05 L1146.54,1082.4 L1147.79,1082.75 L1149.04,1083.1 L1150.29,1083.44 L1151.54,1083.78 L1152.79,1084.11 L1154.04,1084.44 L1155.29,1084.76 L1156.54,1085.08 L1157.79,1085.4 L1159.04,1085.71 L1160.29,1086.02 L1161.54,1086.32 L1162.79,1086.62 L1164.04,1086.92 L1165.29,1087.21 L1166.54,1087.5 L1167.79,1087.78 L1169.04,1088.06 L1170.29,1088.34 L1171.54,1088.61 L1172.79,1088.88 L1174.04,1089.15 L1175.29,1089.41 L1176.54,1089.67 L1177.79,1089.93 L1179.04,1090.18 L1180.29,1090.43 L1181.54,1090.67 L1182.79,1090.92 L1184.04,1091.15 L1185.29,1091.39 L1186.54,1091.62 L1187.79,1091.85 L1189.04,1092.08 L1190.29,1092.31 L1191.54,1092.53 L1192.79,1092.75 L1194.04,1092.96 L1195.29,1093.17 L1196.54,1093.38 L1197.79,1093.59 L1199.04,1093.8 L1200.29,1094 L1201.54,1094.2 L1202.79,1094.39 L1204.04,1094.59 L1205.29,1094.78 L1206.54,1094.97 L1207.79,1095.16 L1209.04,1095.34 L1210.29,1095.52 L1211.54,1095.7 L1212.79,1095.88 L1214.04,1096.05 L1215.29,1096.23 L1216.54,1096.4 L1217.79,1096.56 L1219.04,1096.73 L1220.29,1096.89 L1221.54,1097.06 L1222.79,1097.22 L1224.04,1097.37 L1225.29,1097.53 L1226.54,1097.68 L1227.79,1097.83 L1229.04,1097.98 L1230.29,1098.13 L1231.54,1098.28 L1232.79,1098.42 L1234.04,1098.56 L1235.29,1098.7 L1236.54,1098.84" fill="none" stroke="#E6141A" stroke-width="4.2" stroke-linejoin="round" stroke-linecap="butt"/>
<rect x="767.24" y="1110.1" width="2.6" height="4.5" stroke="none"/>
<text x="770.2" y="1146.3" font-size="38.5" text-anchor="middle" textLength="70.8" lengthAdjust="spacingAndGlyphs">0.00</text>
<rect x="892.41" y="1110.1" width="2.6" height="4.5" stroke="none"/>
<text x="895.65" y="1146.3" font-size="38.5" text-anchor="middle" textLength="70.8" lengthAdjust="spacingAndGlyphs">0.02</text>
<rect x="1017.58" y="1110.1" width="2.6" height="4.5" stroke="none"/>
<text x="1021.1" y="1146.3" font-size="38.5" text-anchor="middle" textLength="70.8" lengthAdjust="spacingAndGlyphs">0.04</text>
<rect x="1142.75" y="1110.1" width="2.6" height="4.5" stroke="none"/>
<text x="1146.55" y="1146.3" font-size="38.5" text-anchor="middle" textLength="70.8" lengthAdjust="spacingAndGlyphs">0.06</text>
<rect x="733.9" y="1108.8" width="4.5" height="2.6" stroke="none"/>
<text x="705.1" y="1121.7" font-size="38.5" textLength="19.2" lengthAdjust="spacingAndGlyphs">0</text>
<rect x="733.9" y="1025" width="4.5" height="2.6" stroke="none"/>
<text x="705.1" y="1040" font-size="38.5" textLength="19.2" lengthAdjust="spacingAndGlyphs">5</text>
<rect x="733.9" y="941.8" width="4.5" height="2.6" stroke="none"/>
<text x="684.3" y="955.1" font-size="38.5" textLength="40" lengthAdjust="spacingAndGlyphs">10</text>
<rect x="733.9" y="857.6" width="4.5" height="2.6" stroke="none"/>
<text x="684.3" y="870.8" font-size="38.5" textLength="40" lengthAdjust="spacingAndGlyphs">15</text>
<text x="799.4" y="1198.4" font-size="39" textLength="351.5" lengthAdjust="spacingAndGlyphs">relative deformation</text>
<text transform="translate(657.6,998) rotate(-90)" font-size="39" text-anchor="middle" textLength="114" lengthAdjust="spacingAndGlyphs">counts</text>
<text x="1051.3" y="891.4" font-size="38.5" textLength="143.8" lengthAdjust="spacingAndGlyphs">Tumor 5</text></g>
<g><rect x="1361.34" y="1105.09" width="30.06" height="4.91" fill="#064A86" stroke="#07142c" stroke-width="0.9"/>
<rect x="1391.41" y="1053.95" width="31.31" height="56.05" fill="#064A86" stroke="#07142c" stroke-width="0.9"/>
<rect x="1422.72" y="993.67" width="31.31" height="116.33" fill="#064A86" stroke="#07142c" stroke-width="0.9"/>
<rect x="1454.03" y="919.07" width="31.31" height="190.93" fill="#064A86" stroke="#07142c" stroke-width="0.9"/>
<rect x="1485.35" y="859.1" width="31.31" height="250.9" fill="#064A86" stroke="#07142c" stroke-width="0.9"/>
<rect x="1516.66" y="859.1" width="31.31" height="250.9" fill="#064A86" stroke="#07142c" stroke-width="0.9"/>
<rect x="1547.98" y="895.94" width="31.31" height="214.06" fill="#064A86" stroke="#07142c" stroke-width="0.9"/>
<rect x="1579.29" y="944.95" width="31.31" height="165.05" fill="#064A86" stroke="#07142c" stroke-width="0.9"/>
<rect x="1610.61" y="968.09" width="31.31" height="141.91" fill="#064A86" stroke="#07142c" stroke-width="0.9"/>
<rect x="1641.92" y="996.1" width="31.31" height="113.9" fill="#064A86" stroke="#07142c" stroke-width="0.9"/>
<rect x="1673.24" y="1032.94" width="31.31" height="77.06" fill="#064A86" stroke="#07142c" stroke-width="0.9"/>
<rect x="1704.55" y="1060.95" width="31.31" height="49.05" fill="#064A86" stroke="#07142c" stroke-width="0.9"/>
<rect x="1735.87" y="1046.94" width="31.31" height="63.06" fill="#064A86" stroke="#07142c" stroke-width="0.9"/>
<rect x="1767.18" y="1080.13" width="31.31" height="29.87" fill="#064A86" stroke="#07142c" stroke-width="0.9"/>
<rect x="1798.5" y="1082.26" width="31.31" height="27.74" fill="#064A86" stroke="#07142c" stroke-width="0.9"/>
<rect x="1829.81" y="1095.96" width="31.31" height="14.04" fill="#064A86" stroke="#07142c" stroke-width="0.9"/>
<rect x="1861.13" y="1103.1" width="37.58" height="6.9" fill="#064A86" stroke="#07142c" stroke-width="0.9"/>
<rect x="1360.9" y="839.7" width="499.2" height="270.3" fill="none" stroke="#000" stroke-width="4.2"/>
<path d="M1400.66,1109.21 L1401.91,1108.55 L1403.16,1107.56 L1404.41,1106.21 L1405.66,1104.45 L1406.91,1102.25 L1408.16,1099.6 L1409.41,1096.49 L1410.66,1092.94 L1411.91,1088.95 L1413.16,1084.54 L1414.41,1079.75 L1415.66,1074.61 L1416.91,1069.15 L1418.16,1063.41 L1419.41,1057.42 L1420.66,1051.23 L1421.91,1044.86 L1423.16,1038.35 L1424.41,1031.74 L1425.66,1025.06 L1426.91,1018.35 L1428.16,1011.62 L1429.41,1004.9 L1430.66,998.23 L1431.91,991.61 L1433.16,985.08 L1434.41,978.64 L1435.66,972.33 L1436.91,966.14 L1438.16,960.09 L1439.41,954.2 L1440.66,948.47 L1441.91,942.91 L1443.16,937.53 L1444.41,932.33 L1445.66,927.32 L1446.91,922.5 L1448.16,917.87 L1449.41,913.44 L1450.66,909.2 L1451.91,905.16 L1453.16,901.32 L1454.41,897.66 L1455.66,894.2 L1456.91,890.93 L1458.16,887.84 L1459.41,884.94 L1460.66,882.22 L1461.91,879.68 L1463.16,877.31 L1464.41,875.11 L1465.66,873.08 L1466.91,871.2 L1468.16,869.49 L1469.41,867.93 L1470.66,866.52 L1471.91,865.26 L1473.16,864.13 L1474.41,863.14 L1475.66,862.28 L1476.91,861.55 L1478.16,860.95 L1479.41,860.46 L1480.66,860.08 L1481.91,859.82 L1483.16,859.66 L1484.41,859.6 L1485.66,859.64 L1486.91,859.78 L1488.16,860 L1489.41,860.31 L1490.66,860.71 L1491.91,861.18 L1493.16,861.73 L1494.41,862.35 L1495.66,863.04 L1496.91,863.8 L1498.16,864.62 L1499.41,865.5 L1500.66,866.44 L1501.91,867.43 L1503.16,868.47 L1504.41,869.56 L1505.66,870.7 L1506.91,871.88 L1508.16,873.1 L1509.41,874.36 L1510.66,875.66 L1511.91,876.99 L1513.16,878.36 L1514.41,879.75 L1515.66,881.18 L1516.91,882.63 L1518.16,884.1 L1519.41,885.6 L1520.66,887.12 L1521.91,888.66 L1523.16,890.22 L1524.41,891.79 L1525.66,893.38 L1526.91,894.98 L1528.16,896.6 L1529.41,898.23 L1530.66,899.87 L1531.91,901.51 L1533.16,903.17 L1534.41,904.83 L1535.66,906.5 L1536.91,908.17 L1538.16,909.85 L1539.41,911.52 L1540.66,913.21 L1541.91,914.89 L1543.16,916.57 L1544.41,918.26 L1545.66,919.94 L1546.91,921.62 L1548.16,923.3 L1549.41,924.98 L1550.66,926.65 L1551.91,928.32 L1553.16,929.98 L1554.41,931.64 L1555.66,933.29 L1556.91,934.94 L1558.16,936.58 L1559.41,938.22 L1560.66,939.85 L1561.91,941.47 L1563.16,943.08 L1564.41,944.69 L1565.66,946.28 L1566.91,947.87 L1568.16,949.45 L1569.41,951.02 L1570.66,952.58 L1571.91,954.13 L1573.16,955.67 L1574.41,957.2 L1575.66,958.72 L1576.91,960.23 L1578.16,961.73 L1579.41,963.22 L1580.66,964.7 L1581.91,966.17 L1583.16,967.62 L1584.41,969.07 L1585.66,970.5 L1586.91,971.92 L1588.16,973.33 L1589.41,974.73 L1590.66,976.12 L1591.91,977.5 L1593.16,978.86 L1594.41,980.21 L1595.66,981.56 L1596.91,982.89 L1598.16,984.2 L1599.41,985.51 L1600.66,986.81 L1601.91,988.09 L1603.16,989.36 L1604.41,990.62 L1605.66,991.87 L1606.91,993.1 L1608.16,994.33 L1609.41,995.54 L1610.66,996.75 L1611.91,997.94 L1613.16,999.11 L1614.41,1000.28 L1615.66,1001.44 L1616.91,1002.58 L1618.16,1003.72 L1619.41,1004.84 L1620.66,1005.95 L1621.91,1007.05 L1623.16,1008.14 L1624.41,1009.22 L1625.66,1010.29 L1626.91,1011.34 L1628.16,1012.39 L1629.41,1013.42 L1630.66,1014.45 L1631.91,1015.46 L1633.16,1016.46 L1634.41,1017.46 L1635.66,1018.44 L1636.91,1019.41 L1638.16,1020.37 L1639.41,1021.33 L1640.66,1022.27 L1641.91,1023.2 L1643.16,1024.12 L1644.41,1025.03 L1645.66,1025.94 L1646.91,1026.83 L1648.16,1027.71 L1649.41,1028.59 L1650.66,1029.45 L1651.91,1030.31 L1653.16,1031.16 L1654.41,1031.99 L1655.66,1032.82 L1656.91,1033.64 L1658.16,1034.45 L1659.41,1035.25 L1660.66,1036.05 L1661.91,1036.83 L1663.16,1037.61 L1664.41,1038.37 L1665.66,1039.13 L1666.91,1039.88 L1668.16,1040.62 L1669.41,1041.36 L1670.66,1042.08 L1671.91,1042.8 L1673.16,1043.51 L1674.41,1044.22 L1675.66,1044.91 L1676.91,1045.6 L1678.16,1046.28 L1679.41,1046.95 L1680.66,1047.61 L1681.91,1048.27 L1683.16,1048.92 L1684.41,1049.56 L1685.66,1050.2 L1686.91,1050.83 L1688.16,1051.45 L1689.41,1052.07 L1690.66,1052.67 L1691.91,1053.27 L1693.16,1053.87 L1694.41,1054.46 L1695.66,1055.04 L1696.91,1055.61 L1698.16,1056.18 L1699.41,1056.75 L1700.66,1057.3 L1701.91,1057.85 L1703.16,1058.4 L1704.41,1058.93 L1705.66,1059.46 L1706.91,1059.99 L1708.16,1060.51 L1709.41,1061.03 L1710.66,1061.53 L1711.91,1062.04 L1713.16,1062.53 L1714.41,1063.03 L1715.66,1063.51 L1716.91,1063.99 L1718.16,1064.47 L1719.41,1064.94 L1720.66,1065.4 L1721.91,1065.86 L1723.16,1066.32 L1724.41,1066.77 L1725.66,1067.21 L1726.91,1067.65 L1728.16,1068.09 L1729.41,1068.52 L1730.66,1068.94 L1731.91,1069.36 L1733.16,1069.78 L1734.41,1070.19 L1735.66,1070.6 L1736.91,1071 L1738.16,1071.4 L1739.41,1071.79 L1740.66,1072.18 L1741.91,1072.57 L1743.16,1072.95 L1744.41,1073.32 L1745.66,1073.7 L1746.91,1074.06 L1748.16,1074.43 L1749.41,1074.79 L1750.66,1075.15 L1751.91,1075.5 L1753.16,1075.85 L1754.41,1076.19 L1755.66,1076.53 L1756.91,1076.87 L1758.16,1077.2 L1759.41,1077.53 L1760.66,1077.86 L1761.91,1078.18 L1763.16,1078.5 L1764.41,1078.81 L1765.66,1079.13 L1766.91,1079.43 L1768.16,1079.74 L1769.41,1080.04 L1770.66,1080.34 L1771.91,1080.64 L1773.16,1080.93 L1774.41,1081.22 L1775.66,1081.5 L1776.91,1081.78 L1778.16,1082.06 L1779.41,1082.34 L1780.66,1082.61 L1781.91,1082.89 L1783.16,1083.15 L1784.41,1083.42 L1785.66,1083.68 L1786.91,1083.94 L1788.16,1084.19 L1789.41,1084.45 L1790.66,1084.7 L1791.91,1084.95 L1793.16,1085.19 L1794.41,1085.44 L1795.66,1085.68 L1796.91,1085.91 L1798.16,1086.15 L1799.41,1086.38 L1800.66,1086.61 L1801.91,1086.84 L1803.16,1087.06 L1804.41,1087.29 L1805.66,1087.51 L1806.91,1087.72 L1808.16,1087.94 L1809.41,1088.15 L1810.66,1088.36 L1811.91,1088.57 L1813.16,1088.78 L1814.41,1088.98 L1815.66,1089.19 L1816.91,1089.39 L1818.16,1089.58 L1819.41,1089.78 L1820.66,1089.97 L1821.91,1090.17 L1823.16,1090.36 L1824.41,1090.54 L1825.66,1090.73 L1826.91,1090.91 L1828.16,1091.09 L1829.41,1091.27 L1830.66,1091.45 L1831.91,1091.63 L1833.16,1091.8 L1834.41,1091.98 L1835.66,1092.15 L1836.91,1092.31 L1838.16,1092.48 L1839.41,1092.65 L1840.66,1092.81 L1841.91,1092.97 L1843.16,1093.13 L1844.41,1093.29 L1845.66,1093.45 L1846.91,1093.6 L1848.16,1093.76 L1849.41,1093.91 L1850.66,1094.06 L1851.91,1094.21 L1853.16,1094.36 L1854.41,1094.5 L1855.66,1094.65 L1856.91,1094.79 L1858.16,1094.93 L1859.41,1095.07" fill="none" stroke="#E6141A" stroke-width="4.2" stroke-linejoin="round" stroke-linecap="butt"/>
<rect x="1390.11" y="1110" width="2.6" height="4.5" stroke="none"/>
<text x="1402.2" y="1146.3" font-size="38.5" text-anchor="middle" textLength="70.8" lengthAdjust="spacingAndGlyphs">0.00</text>
<rect x="1515.36" y="1110" width="2.6" height="4.5" stroke="none"/>
<text x="1527.65" y="1146.3" font-size="38.5" text-anchor="middle" textLength="70.8" lengthAdjust="spacingAndGlyphs">0.02</text>
<rect x="1640.62" y="1110" width="2.6" height="4.5" stroke="none"/>
<text x="1653.1" y="1146.3" font-size="38.5" text-anchor="middle" textLength="70.8" lengthAdjust="spacingAndGlyphs">0.04</text>
<rect x="1765.88" y="1110" width="2.6" height="4.5" stroke="none"/>
<text x="1778.55" y="1146.3" font-size="38.5" text-anchor="middle" textLength="70.8" lengthAdjust="spacingAndGlyphs">0.06</text>
<rect x="1356.4" y="1108.7" width="4.5" height="2.6" stroke="none"/>
<text x="1332.9" y="1121.7" font-size="38.5" textLength="19.2" lengthAdjust="spacingAndGlyphs">0</text>
<rect x="1356.4" y="993" width="4.5" height="2.6" stroke="none"/>
<text x="1312.1" y="1009.7" font-size="38.5" textLength="40" lengthAdjust="spacingAndGlyphs">50</text>
<rect x="1356.4" y="876.9" width="4.5" height="2.6" stroke="none"/>
<text x="1291.6" y="895.7" font-size="38.5" textLength="60.5" lengthAdjust="spacingAndGlyphs">100</text>
<text x="1431.4" y="1198.4" font-size="39" textLength="351.5" lengthAdjust="spacingAndGlyphs">relative deformation</text>
<text transform="translate(1289.5,998) rotate(-90)" font-size="39" text-anchor="middle" textLength="114" lengthAdjust="spacingAndGlyphs">counts</text>
<text x="1687.6" y="891.4" font-size="38.5" textLength="144.1" lengthAdjust="spacingAndGlyphs">Tumor 6</text></g>
<g><rect x="137.01" y="1528.88" width="31.27" height="3.12" fill="#064A86" stroke="#07142c" stroke-width="0.9"/>
<rect x="168.28" y="1498.13" width="31.27" height="33.87" fill="#064A86" stroke="#07142c" stroke-width="0.9"/>
<rect x="199.55" y="1379.09" width="31.27" height="152.91" fill="#064A86" stroke="#07142c" stroke-width="0.9"/>
<rect x="230.81" y="1281.05" width="31.27" height="250.95" fill="#064A86" stroke="#07142c" stroke-width="0.9"/>
<rect x="262.08" y="1336.16" width="31.27" height="195.84" fill="#064A86" stroke="#07142c" stroke-width="0.9"/>
<rect x="293.35" y="1430.23" width="31.27" height="101.77" fill="#064A86" stroke="#07142c" stroke-width="0.9"/>
<rect x="324.62" y="1483.21" width="31.27" height="48.79" fill="#064A86" stroke="#07142c" stroke-width="0.9"/>
<rect x="355.88" y="1498.13" width="31.27" height="33.87" fill="#064A86" stroke="#07142c" stroke-width="0.9"/>
<rect x="387.15" y="1508.17" width="31.27" height="23.83" fill="#064A86" stroke="#07142c" stroke-width="0.9"/>
<rect x="418.42" y="1524" width="31.27" height="8" fill="#064A86" stroke="#07142c" stroke-width="0.9"/>
<rect x="449.68" y="1528.27" width="31.27" height="3.73" fill="#064A86" stroke="#07142c" stroke-width="0.9"/>
<rect x="106.5" y="1261.6" width="498.9" height="270.4" fill="none" stroke="#000" stroke-width="4.2"/>
<path d="M163.76,1531.25 L165.01,1530.91 L166.26,1530.44 L167.51,1529.84 L168.76,1529.08 L170.01,1528.13 L171.26,1526.96 L172.51,1525.56 L173.76,1523.9 L175.01,1521.96 L176.26,1519.73 L177.51,1517.18 L178.76,1514.31 L180.01,1511.11 L181.26,1507.58 L182.51,1503.7 L183.76,1499.5 L185.01,1494.96 L186.26,1490.11 L187.51,1484.96 L188.76,1479.52 L190.01,1473.81 L191.26,1467.85 L192.51,1461.67 L193.76,1455.29 L195.01,1448.73 L196.26,1442.03 L197.51,1435.22 L198.76,1428.31 L200.01,1421.34 L201.26,1414.34 L202.51,1407.33 L203.76,1400.34 L205.01,1393.4 L206.26,1386.54 L207.51,1379.77 L208.76,1373.12 L210.01,1366.6 L211.26,1360.25 L212.51,1354.08 L213.76,1348.1 L215.01,1342.33 L216.26,1336.78 L217.51,1331.47 L218.76,1326.41 L220.01,1321.6 L221.26,1317.04 L222.51,1312.76 L223.76,1308.75 L225.01,1305.02 L226.26,1301.56 L227.51,1298.38 L228.76,1295.48 L230.01,1292.85 L231.26,1290.5 L232.51,1288.42 L233.76,1286.61 L235.01,1285.07 L236.26,1283.78 L237.51,1282.74 L238.76,1281.96 L240.01,1281.41 L241.26,1281.09 L242.51,1281 L243.76,1281.13 L245.01,1281.47 L246.26,1282 L247.51,1282.74 L248.76,1283.66 L250.01,1284.75 L251.26,1286.01 L252.51,1287.44 L253.76,1289.01 L255.01,1290.73 L256.26,1292.59 L257.51,1294.57 L258.76,1296.67 L260.01,1298.88 L261.26,1301.2 L262.51,1303.61 L263.76,1306.11 L265.01,1308.7 L266.26,1311.36 L267.51,1314.09 L268.76,1316.88 L270.01,1319.72 L271.26,1322.62 L272.51,1325.56 L273.76,1328.54 L275.01,1331.56 L276.26,1334.6 L277.51,1337.67 L278.76,1340.75 L280.01,1343.85 L281.26,1346.96 L282.51,1350.08 L283.76,1353.2 L285.01,1356.32 L286.26,1359.44 L287.51,1362.54 L288.76,1365.64 L290.01,1368.73 L291.26,1371.79 L292.51,1374.85 L293.76,1377.88 L295.01,1380.88 L296.26,1383.87 L297.51,1386.82 L298.76,1389.75 L300.01,1392.65 L301.26,1395.52 L302.51,1398.36 L303.76,1401.16 L305.01,1403.93 L306.26,1406.66 L307.51,1409.35 L308.76,1412.01 L310.01,1414.63 L311.26,1417.21 L312.51,1419.76 L313.76,1422.26 L315.01,1424.72 L316.26,1427.15 L317.51,1429.53 L318.76,1431.87 L320.01,1434.17 L321.26,1436.44 L322.51,1438.66 L323.76,1440.84 L325.01,1442.98 L326.26,1445.08 L327.51,1447.14 L328.76,1449.16 L330.01,1451.14 L331.26,1453.08 L332.51,1454.98 L333.76,1456.84 L335.01,1458.67 L336.26,1460.46 L337.51,1462.21 L338.76,1463.92 L340.01,1465.6 L341.26,1467.24 L342.51,1468.84 L343.76,1470.41 L345.01,1471.95 L346.26,1473.45 L347.51,1474.92 L348.76,1476.35 L350.01,1477.76 L351.26,1479.13 L352.51,1480.46 L353.76,1481.77 L355.01,1483.05 L356.26,1484.3 L357.51,1485.52 L358.76,1486.71 L360.01,1487.87 L361.26,1489 L362.51,1490.11 L363.76,1491.19 L365.01,1492.24 L366.26,1493.27 L367.51,1494.27 L368.76,1495.25 L370.01,1496.21 L371.26,1497.14 L372.51,1498.04 L373.76,1498.93 L375.01,1499.79 L376.26,1500.64 L377.51,1501.46 L378.76,1502.26 L380.01,1503.04 L381.26,1503.8 L382.51,1504.54 L383.76,1505.26 L385.01,1505.96 L386.26,1506.65 L387.51,1507.32 L388.76,1507.97 L390.01,1508.61 L391.26,1509.22 L392.51,1509.83 L393.76,1510.41 L395.01,1510.98 L396.26,1511.54 L397.51,1512.08 L398.76,1512.61 L400.01,1513.13 L401.26,1513.63 L402.51,1514.11 L403.76,1514.59 L405.01,1515.05 L406.26,1515.5 L407.51,1515.94 L408.76,1516.37 L410.01,1516.78 L411.26,1517.19 L412.51,1517.58 L413.76,1517.97 L415.01,1518.34 L416.26,1518.71 L417.51,1519.06 L418.76,1519.4 L420.01,1519.74 L421.26,1520.07 L422.51,1520.38 L423.76,1520.69 L425.01,1520.99 L426.26,1521.29 L427.51,1521.57 L428.76,1521.85 L430.01,1522.12 L431.26,1522.38 L432.51,1522.64 L433.76,1522.89 L435.01,1523.13 L436.26,1523.37 L437.51,1523.6 L438.76,1523.82 L440.01,1524.04 L441.26,1524.25 L442.51,1524.46 L443.76,1524.66 L445.01,1524.85 L446.26,1525.04 L447.51,1525.23 L448.76,1525.41 L450.01,1525.58 L451.26,1525.75 L452.51,1525.92 L453.76,1526.08 L455.01,1526.24 L456.26,1526.39 L457.51,1526.54 L458.76,1526.68 L460.01,1526.82 L461.26,1526.96 L462.51,1527.09 L463.76,1527.22 L465.01,1527.35 L466.26,1527.47 L467.51,1527.59 L468.76,1527.71 L470.01,1527.82 L471.26,1527.93 L472.51,1528.04 L473.76,1528.14 L475.01,1528.24 L476.26,1528.34 L477.51,1528.44 L478.76,1528.53 L480.01,1528.62 L481.26,1528.71 L482.51,1528.8 L483.76,1528.88 L485.01,1528.96 L486.26,1529.04 L487.51,1529.12 L488.76,1529.2 L490.01,1529.27 L491.26,1529.34 L492.51,1529.41 L493.76,1529.48 L495.01,1529.54 L496.26,1529.61 L497.51,1529.67 L498.76,1529.73 L500.01,1529.79 L501.26,1529.85 L502.51,1529.9 L503.76,1529.96 L505.01,1530.01 L506.26,1530.06 L507.51,1530.11 L508.76,1530.16 L510.01,1530.21 L511.26,1530.26 L512.51,1530.3 L513.76,1530.34 L515.01,1530.39 L516.26,1530.43 L517.51,1530.47 L518.76,1530.51 L520.01,1530.55 L521.26,1530.58 L522.51,1530.62 L523.76,1530.66 L525.01,1530.69 L526.26,1530.72" fill="none" stroke="#E6141A" stroke-width="4.2" stroke-linejoin="round" stroke-linecap="butt"/>
<rect x="135.71" y="1532" width="2.6" height="4.5" stroke="none"/>
<text x="138.6" y="1571.3" font-size="38.5" text-anchor="middle" textLength="70.8" lengthAdjust="spacingAndGlyphs">0.00</text>
<rect x="260.78" y="1532" width="2.6" height="4.5" stroke="none"/>
<text x="264.05" y="1571.3" font-size="38.5" text-anchor="middle" textLength="70.8" lengthAdjust="spacingAndGlyphs">0.02</text>
<rect x="385.85" y="1532" width="2.6" height="4.5" stroke="none"/>
<text x="389.5" y="1571.3" font-size="38.5" text-anchor="middle" textLength="70.8" lengthAdjust="spacingAndGlyphs">0.04</text>
<rect x="510.92" y="1532" width="2.6" height="4.5" stroke="none"/>
<text x="514.95" y="1571.3" font-size="38.5" text-anchor="middle" textLength="70.8" lengthAdjust="spacingAndGlyphs">0.06</text>
<rect x="102" y="1530.7" width="4.5" height="2.6" stroke="none"/>
<text x="73.2" y="1547" font-size="38.5" textLength="19.2" lengthAdjust="spacingAndGlyphs">0</text>
<rect x="102" y="1418.7" width="4.5" height="2.6" stroke="none"/>
<text x="31.9" y="1434.1" font-size="38.5" textLength="60.5" lengthAdjust="spacingAndGlyphs">100</text>
<rect x="102" y="1307.1" width="4.5" height="2.6" stroke="none"/>
<text x="31.9" y="1322.2" font-size="38.5" textLength="60.5" lengthAdjust="spacingAndGlyphs">200</text>
<text x="167.2" y="1623.4" font-size="39" textLength="351.5" lengthAdjust="spacingAndGlyphs">relative deformation</text>
<text transform="translate(26,1423) rotate(-90)" font-size="39" text-anchor="middle" textLength="114" lengthAdjust="spacingAndGlyphs">counts</text>
<text x="425.9" y="1316.4" font-size="38.5" textLength="143.2" lengthAdjust="spacingAndGlyphs">Tumor 7</text></g>
<g><rect x="764.01" y="1526.62" width="31.27" height="1.38" fill="#064A86" stroke="#07142c" stroke-width="0.9"/>
<rect x="795.29" y="1487.95" width="31.27" height="40.05" fill="#064A86" stroke="#07142c" stroke-width="0.9"/>
<rect x="826.56" y="1402.1" width="31.27" height="125.9" fill="#064A86" stroke="#07142c" stroke-width="0.9"/>
<rect x="857.83" y="1339.07" width="31.27" height="188.93" fill="#064A86" stroke="#07142c" stroke-width="0.9"/>
<rect x="889.1" y="1276.97" width="31.27" height="251.03" fill="#064A86" stroke="#07142c" stroke-width="0.9"/>
<rect x="920.37" y="1301.93" width="31.27" height="226.07" fill="#064A86" stroke="#07142c" stroke-width="0.9"/>
<rect x="951.64" y="1354.91" width="31.27" height="173.09" fill="#064A86" stroke="#07142c" stroke-width="0.9"/>
<rect x="982.91" y="1403.01" width="31.27" height="124.99" fill="#064A86" stroke="#07142c" stroke-width="0.9"/>
<rect x="1014.18" y="1441.98" width="31.27" height="86.02" fill="#064A86" stroke="#07142c" stroke-width="0.9"/>
<rect x="1045.46" y="1472.12" width="31.27" height="55.88" fill="#064A86" stroke="#07142c" stroke-width="0.9"/>
<rect x="1076.73" y="1485.21" width="31.27" height="42.79" fill="#064A86" stroke="#07142c" stroke-width="0.9"/>
<rect x="1108" y="1500.74" width="31.27" height="27.26" fill="#064A86" stroke="#07142c" stroke-width="0.9"/>
<rect x="1139.27" y="1512.92" width="31.27" height="15.08" fill="#064A86" stroke="#07142c" stroke-width="0.9"/>
<rect x="1170.54" y="1520.53" width="31.27" height="7.47" fill="#064A86" stroke="#07142c" stroke-width="0.9"/>
<rect x="733.3" y="1256.9" width="499.1" height="271.1" fill="none" stroke="#000" stroke-width="4.2"/>
<path d="M789.51,1527.39 L790.76,1527.13 L792.01,1526.79 L793.26,1526.37 L794.51,1525.84 L795.76,1525.19 L797.01,1524.4 L798.26,1523.48 L799.51,1522.39 L800.76,1521.13 L802.01,1519.69 L803.26,1518.05 L804.51,1516.22 L805.76,1514.18 L807.01,1511.93 L808.26,1509.47 L809.51,1506.79 L810.76,1503.89 L812.01,1500.79 L813.26,1497.47 L814.51,1493.94 L815.76,1490.22 L817.01,1486.3 L818.26,1482.2 L819.51,1477.93 L820.76,1473.49 L822.01,1468.9 L823.26,1464.17 L824.51,1459.31 L825.76,1454.34 L827.01,1449.26 L828.26,1444.1 L829.51,1438.86 L830.76,1433.56 L832.01,1428.22 L833.26,1422.84 L834.51,1417.44 L835.76,1412.03 L837.01,1406.63 L838.26,1401.24 L839.51,1395.88 L840.76,1390.56 L842.01,1385.3 L843.26,1380.09 L844.51,1374.96 L845.76,1369.9 L847.01,1364.94 L848.26,1360.07 L849.51,1355.3 L850.76,1350.65 L852.01,1346.11 L853.26,1341.7 L854.51,1337.42 L855.76,1333.26 L857.01,1329.25 L858.26,1325.37 L859.51,1321.64 L860.76,1318.06 L862.01,1314.63 L863.26,1311.34 L864.51,1308.21 L865.76,1305.23 L867.01,1302.4 L868.26,1299.73 L869.51,1297.21 L870.76,1294.84 L872.01,1292.63 L873.26,1290.56 L874.51,1288.65 L875.76,1286.88 L877.01,1285.26 L878.26,1283.79 L879.51,1282.46 L880.76,1281.26 L882.01,1280.21 L883.26,1279.29 L884.51,1278.5 L885.76,1277.85 L887.01,1277.32 L888.26,1276.91 L889.51,1276.62 L890.76,1276.45 L892.01,1276.4 L893.26,1276.46 L894.51,1276.62 L895.76,1276.89 L897.01,1277.26 L898.26,1277.72 L899.51,1278.29 L900.76,1278.94 L902.01,1279.68 L903.26,1280.51 L904.51,1281.41 L905.76,1282.4 L907.01,1283.46 L908.26,1284.59 L909.51,1285.79 L910.76,1287.06 L912.01,1288.39 L913.26,1289.78 L914.51,1291.22 L915.76,1292.72 L917.01,1294.27 L918.26,1295.87 L919.51,1297.52 L920.76,1299.21 L922.01,1300.94 L923.26,1302.71 L924.51,1304.52 L925.76,1306.35 L927.01,1308.22 L928.26,1310.12 L929.51,1312.05 L930.76,1314 L932.01,1315.97 L933.26,1317.97 L934.51,1319.98 L935.76,1322.02 L937.01,1324.06 L938.26,1326.12 L939.51,1328.19 L940.76,1330.28 L942.01,1332.37 L943.26,1334.47 L944.51,1336.57 L945.76,1338.68 L947.01,1340.8 L948.26,1342.91 L949.51,1345.03 L950.76,1347.14 L952.01,1349.26 L953.26,1351.37 L954.51,1353.48 L955.76,1355.58 L957.01,1357.68 L958.26,1359.77 L959.51,1361.86 L960.76,1363.94 L962.01,1366.01 L963.26,1368.06 L964.51,1370.11 L965.76,1372.15 L967.01,1374.18 L968.26,1376.19 L969.51,1378.19 L970.76,1380.18 L972.01,1382.16 L973.26,1384.12 L974.51,1386.07 L975.76,1388 L977.01,1389.92 L978.26,1391.82 L979.51,1393.7 L980.76,1395.57 L982.01,1397.42 L983.26,1399.26 L984.51,1401.08 L985.76,1402.88 L987.01,1404.66 L988.26,1406.43 L989.51,1408.18 L990.76,1409.91 L992.01,1411.62 L993.26,1413.32 L994.51,1414.99 L995.76,1416.65 L997.01,1418.29 L998.26,1419.91 L999.51,1421.52 L1000.76,1423.1 L1002.01,1424.67 L1003.26,1426.22 L1004.51,1427.75 L1005.76,1429.26 L1007.01,1430.75 L1008.26,1432.22 L1009.51,1433.68 L1010.76,1435.12 L1012.01,1436.54 L1013.26,1437.94 L1014.51,1439.32 L1015.76,1440.69 L1017.01,1442.03 L1018.26,1443.36 L1019.51,1444.68 L1020.76,1445.97 L1022.01,1447.25 L1023.26,1448.51 L1024.51,1449.75 L1025.76,1450.98 L1027.01,1452.18 L1028.26,1453.38 L1029.51,1454.55 L1030.76,1455.71 L1032.01,1456.85 L1033.26,1457.98 L1034.51,1459.09 L1035.76,1460.18 L1037.01,1461.26 L1038.26,1462.32 L1039.51,1463.37 L1040.76,1464.4 L1042.01,1465.42 L1043.26,1466.42 L1044.51,1467.41 L1045.76,1468.38 L1047.01,1469.34 L1048.26,1470.28 L1049.51,1471.21 L1050.76,1472.13 L1052.01,1473.03 L1053.26,1473.92 L1054.51,1474.79 L1055.76,1475.65 L1057.01,1476.5 L1058.26,1477.34 L1059.51,1478.16 L1060.76,1478.97 L1062.01,1479.77 L1063.26,1480.55 L1064.51,1481.32 L1065.76,1482.08 L1067.01,1482.83 L1068.26,1483.57 L1069.51,1484.3 L1070.76,1485.01 L1072.01,1485.71 L1073.26,1486.4 L1074.51,1487.08 L1075.76,1487.75 L1077.01,1488.41 L1078.26,1489.06 L1079.51,1489.7 L1080.76,1490.33 L1082.01,1490.95 L1083.26,1491.55 L1084.51,1492.15 L1085.76,1492.74 L1087.01,1493.32 L1088.26,1493.89 L1089.51,1494.45 L1090.76,1495 L1092.01,1495.55 L1093.26,1496.08 L1094.51,1496.6 L1095.76,1497.12 L1097.01,1497.63 L1098.26,1498.13 L1099.51,1498.62 L1100.76,1499.11 L1102.01,1499.58 L1103.26,1500.05 L1104.51,1500.51 L1105.76,1500.96 L1107.01,1501.41 L1108.26,1501.85 L1109.51,1502.28 L1110.76,1502.7 L1112.01,1503.12 L1113.26,1503.53 L1114.51,1503.93 L1115.76,1504.33 L1117.01,1504.72 L1118.26,1505.1 L1119.51,1505.48 L1120.76,1505.85 L1122.01,1506.22 L1123.26,1506.57 L1124.51,1506.93 L1125.76,1507.27 L1127.01,1507.62 L1128.26,1507.95 L1129.51,1508.28 L1130.76,1508.61 L1132.01,1508.92 L1133.26,1509.24 L1134.51,1509.55 L1135.76,1509.85 L1137.01,1510.15 L1138.26,1510.44 L1139.51,1510.73 L1140.76,1511.01 L1142.01,1511.29 L1143.26,1511.57 L1144.51,1511.84 L1145.76,1512.1 L1147.01,1512.36 L1148.26,1512.62 L1149.51,1512.87 L1150.76,1513.12 L1152.01,1513.36 L1153.26,1513.6 L1154.51,1513.84 L1155.76,1514.07 L1157.01,1514.3 L1158.26,1514.52 L1159.51,1514.75 L1160.76,1514.96 L1162.01,1515.17 L1163.26,1515.38 L1164.51,1515.59 L1165.76,1515.79 L1167.01,1515.99 L1168.26,1516.19 L1169.51,1516.38 L1170.76,1516.57 L1172.01,1516.76 L1173.26,1516.94 L1174.51,1517.12 L1175.76,1517.3 L1177.01,1517.47 L1178.26,1517.64 L1179.51,1517.81 L1180.76,1517.98 L1182.01,1518.14 L1183.26,1518.3 L1184.51,1518.46 L1185.76,1518.61 L1187.01,1518.76 L1188.26,1518.91 L1189.51,1519.06 L1190.76,1519.2 L1192.01,1519.35 L1193.26,1519.49 L1194.51,1519.62 L1195.76,1519.76 L1197.01,1519.89 L1198.26,1520.02 L1199.51,1520.15 L1200.76,1520.28 L1202.01,1520.4 L1203.26,1520.53 L1204.51,1520.65 L1205.76,1520.76 L1207.01,1520.88 L1208.26,1521 L1209.51,1521.11 L1210.76,1521.22 L1212.01,1521.33 L1213.26,1521.43 L1214.51,1521.54 L1215.76,1521.64 L1217.01,1521.74 L1218.26,1521.84 L1219.51,1521.94 L1220.76,1522.04 L1222.01,1522.13 L1223.26,1522.23 L1224.51,1522.32 L1225.76,1522.41 L1227.01,1522.5 L1228.26,1522.59 L1229.51,1522.67 L1230.76,1522.76 L1232.01,1522.84" fill="none" stroke="#E6141A" stroke-width="4.2" stroke-linejoin="round" stroke-linecap="butt"/>
<rect x="762.71" y="1528" width="2.6" height="4.5" stroke="none"/>
<text x="770.2" y="1571.3" font-size="38.5" text-anchor="middle" textLength="70.8" lengthAdjust="spacingAndGlyphs">0.00</text>
<rect x="887.8" y="1528" width="2.6" height="4.5" stroke="none"/>
<text x="895.65" y="1571.3" font-size="38.5" text-anchor="middle" textLength="70.8" lengthAdjust="spacingAndGlyphs">0.02</text>
<rect x="1012.88" y="1528" width="2.6" height="4.5" stroke="none"/>
<text x="1021.1" y="1571.3" font-size="38.5" text-anchor="middle" textLength="70.8" lengthAdjust="spacingAndGlyphs">0.04</text>
<rect x="1137.97" y="1528" width="2.6" height="4.5" stroke="none"/>
<text x="1146.55" y="1571.3" font-size="38.5" text-anchor="middle" textLength="70.8" lengthAdjust="spacingAndGlyphs">0.06</text>
<rect x="728.8" y="1526.7" width="4.5" height="2.6" stroke="none"/>
<text x="705" y="1547" font-size="38.5" textLength="19.2" lengthAdjust="spacingAndGlyphs">0</text>
<rect x="728.8" y="1443.6" width="4.5" height="2.6" stroke="none"/>
<text x="684.2" y="1458" font-size="38.5" textLength="40" lengthAdjust="spacingAndGlyphs">50</text>
<rect x="728.8" y="1360.7" width="4.5" height="2.6" stroke="none"/>
<text x="663.7" y="1376.5" font-size="38.5" textLength="60.5" lengthAdjust="spacingAndGlyphs">100</text>
<rect x="728.8" y="1277.1" width="4.5" height="2.6" stroke="none"/>
<text x="663.7" y="1296.4" font-size="38.5" textLength="60.5" lengthAdjust="spacingAndGlyphs">150</text>
<text x="799.4" y="1623.4" font-size="39" textLength="351.5" lengthAdjust="spacingAndGlyphs">relative deformation</text>
<text transform="translate(657.6,1423) rotate(-90)" font-size="39" text-anchor="middle" textLength="114" lengthAdjust="spacingAndGlyphs">counts</text>
<text x="1052.9" y="1315.9" font-size="38.5" textLength="143.2" lengthAdjust="spacingAndGlyphs">Tumor 8</text></g>
<g><rect x="1389.58" y="1510.78" width="31.29" height="16.72" fill="#064A86" stroke="#07142c" stroke-width="0.9"/>
<rect x="1420.87" y="1483.08" width="31.29" height="44.42" fill="#064A86" stroke="#07142c" stroke-width="0.9"/>
<rect x="1452.16" y="1423.1" width="31.29" height="104.4" fill="#064A86" stroke="#07142c" stroke-width="0.9"/>
<rect x="1483.46" y="1302.85" width="31.29" height="224.65" fill="#064A86" stroke="#07142c" stroke-width="0.9"/>
<rect x="1514.75" y="1276.05" width="31.29" height="251.45" fill="#064A86" stroke="#07142c" stroke-width="0.9"/>
<rect x="1546.04" y="1368.91" width="31.29" height="158.59" fill="#064A86" stroke="#07142c" stroke-width="0.9"/>
<rect x="1577.34" y="1325.07" width="31.29" height="202.43" fill="#064A86" stroke="#07142c" stroke-width="0.9"/>
<rect x="1608.63" y="1402.1" width="31.29" height="125.4" fill="#064A86" stroke="#07142c" stroke-width="0.9"/>
<rect x="1639.92" y="1374.09" width="31.29" height="153.41" fill="#064A86" stroke="#07142c" stroke-width="0.9"/>
<rect x="1671.22" y="1412.14" width="31.29" height="115.36" fill="#064A86" stroke="#07142c" stroke-width="0.9"/>
<rect x="1702.51" y="1451.11" width="31.29" height="76.39" fill="#064A86" stroke="#07142c" stroke-width="0.9"/>
<rect x="1733.8" y="1451.11" width="31.29" height="76.39" fill="#064A86" stroke="#07142c" stroke-width="0.9"/>
<rect x="1765.1" y="1515.96" width="31.29" height="11.54" fill="#064A86" stroke="#07142c" stroke-width="0.9"/>
<rect x="1796.39" y="1500.13" width="31.29" height="27.37" fill="#064A86" stroke="#07142c" stroke-width="0.9"/>
<rect x="1827.68" y="1522.05" width="30.35" height="5.45" fill="#064A86" stroke="#07142c" stroke-width="0.9"/>
<rect x="1359.1" y="1256.6" width="499.5" height="270.9" fill="none" stroke="#000" stroke-width="4.2"/>
<path d="M1410.08,1526.91 L1411.33,1526.64 L1412.58,1526.28 L1413.83,1525.83 L1415.08,1525.26 L1416.33,1524.56 L1417.58,1523.72 L1418.83,1522.73 L1420.08,1521.58 L1421.33,1520.25 L1422.58,1518.73 L1423.83,1517.03 L1425.08,1515.13 L1426.33,1513.03 L1427.58,1510.73 L1428.83,1508.23 L1430.08,1505.54 L1431.33,1502.64 L1432.58,1499.56 L1433.83,1496.28 L1435.08,1492.83 L1436.33,1489.2 L1437.58,1485.41 L1438.83,1481.46 L1440.08,1477.36 L1441.33,1473.13 L1442.58,1468.78 L1443.83,1464.31 L1445.08,1459.74 L1446.33,1455.09 L1447.58,1450.35 L1448.83,1445.54 L1450.08,1440.68 L1451.33,1435.77 L1452.58,1430.83 L1453.83,1425.87 L1455.08,1420.9 L1456.33,1415.92 L1457.58,1410.96 L1458.83,1406.01 L1460.08,1401.08 L1461.33,1396.19 L1462.58,1391.35 L1463.83,1386.56 L1465.08,1381.82 L1466.33,1377.15 L1467.58,1372.56 L1468.83,1368.04 L1470.08,1363.6 L1471.33,1359.26 L1472.58,1355 L1473.83,1350.85 L1475.08,1346.79 L1476.33,1342.84 L1477.58,1339 L1478.83,1335.27 L1480.08,1331.65 L1481.33,1328.14 L1482.58,1324.76 L1483.83,1321.49 L1485.08,1318.34 L1486.33,1315.31 L1487.58,1312.4 L1488.83,1309.61 L1490.08,1306.94 L1491.33,1304.39 L1492.58,1301.97 L1493.83,1299.66 L1495.08,1297.47 L1496.33,1295.4 L1497.58,1293.45 L1498.83,1291.62 L1500.08,1289.9 L1501.33,1288.29 L1502.58,1286.79 L1503.83,1285.41 L1505.08,1284.13 L1506.33,1282.96 L1507.58,1281.89 L1508.83,1280.93 L1510.08,1280.07 L1511.33,1279.31 L1512.58,1278.64 L1513.83,1278.07 L1515.08,1277.59 L1516.33,1277.2 L1517.58,1276.9 L1518.83,1276.68 L1520.08,1276.55 L1521.33,1276.5 L1522.58,1276.53 L1523.83,1276.63 L1525.08,1276.81 L1526.33,1277.07 L1527.58,1277.39 L1528.83,1277.78 L1530.08,1278.23 L1531.33,1278.75 L1532.58,1279.33 L1533.83,1279.98 L1535.08,1280.67 L1536.33,1281.43 L1537.58,1282.23 L1538.83,1283.09 L1540.08,1284 L1541.33,1284.95 L1542.58,1285.95 L1543.83,1287 L1545.08,1288.08 L1546.33,1289.21 L1547.58,1290.37 L1548.83,1291.57 L1550.08,1292.81 L1551.33,1294.07 L1552.58,1295.37 L1553.83,1296.7 L1555.08,1298.06 L1556.33,1299.45 L1557.58,1300.86 L1558.83,1302.3 L1560.08,1303.76 L1561.33,1305.24 L1562.58,1306.74 L1563.83,1308.26 L1565.08,1309.8 L1566.33,1311.35 L1567.58,1312.92 L1568.83,1314.51 L1570.08,1316.1 L1571.33,1317.71 L1572.58,1319.33 L1573.83,1320.96 L1575.08,1322.6 L1576.33,1324.25 L1577.58,1325.91 L1578.83,1327.57 L1580.08,1329.24 L1581.33,1330.91 L1582.58,1332.59 L1583.83,1334.26 L1585.08,1335.95 L1586.33,1337.63 L1587.58,1339.32 L1588.83,1341 L1590.08,1342.69 L1591.33,1344.37 L1592.58,1346.05 L1593.83,1347.74 L1595.08,1349.42 L1596.33,1351.09 L1597.58,1352.76 L1598.83,1354.43 L1600.08,1356.1 L1601.33,1357.76 L1602.58,1359.41 L1603.83,1361.06 L1605.08,1362.7 L1606.33,1364.34 L1607.58,1365.96 L1608.83,1367.59 L1610.08,1369.2 L1611.33,1370.81 L1612.58,1372.41 L1613.83,1374 L1615.08,1375.58 L1616.33,1377.15 L1617.58,1378.71 L1618.83,1380.27 L1620.08,1381.81 L1621.33,1383.35 L1622.58,1384.88 L1623.83,1386.39 L1625.08,1387.9 L1626.33,1389.39 L1627.58,1390.88 L1628.83,1392.35 L1630.08,1393.81 L1631.33,1395.27 L1632.58,1396.71 L1633.83,1398.14 L1635.08,1399.56 L1636.33,1400.96 L1637.58,1402.36 L1638.83,1403.75 L1640.08,1405.12 L1641.33,1406.48 L1642.58,1407.83 L1643.83,1409.17 L1645.08,1410.5 L1646.33,1411.82 L1647.58,1413.12 L1648.83,1414.41 L1650.08,1415.69 L1651.33,1416.96 L1652.58,1418.22 L1653.83,1419.47 L1655.08,1420.7 L1656.33,1421.93 L1657.58,1423.14 L1658.83,1424.34 L1660.08,1425.52 L1661.33,1426.7 L1662.58,1427.87 L1663.83,1429.02 L1665.08,1430.16 L1666.33,1431.29 L1667.58,1432.41 L1668.83,1433.52 L1670.08,1434.62 L1671.33,1435.7 L1672.58,1436.77 L1673.83,1437.84 L1675.08,1438.89 L1676.33,1439.93 L1677.58,1440.96 L1678.83,1441.98 L1680.08,1442.99 L1681.33,1443.99 L1682.58,1444.97 L1683.83,1445.95 L1685.08,1446.91 L1686.33,1447.87 L1687.58,1448.81 L1688.83,1449.75 L1690.08,1450.67 L1691.33,1451.59 L1692.58,1452.49 L1693.83,1453.39 L1695.08,1454.27 L1696.33,1455.14 L1697.58,1456.01 L1698.83,1456.86 L1700.08,1457.71 L1701.33,1458.54 L1702.58,1459.37 L1703.83,1460.19 L1705.08,1460.99 L1706.33,1461.79 L1707.58,1462.58 L1708.83,1463.36 L1710.08,1464.13 L1711.33,1464.89 L1712.58,1465.65 L1713.83,1466.39 L1715.08,1467.13 L1716.33,1467.85 L1717.58,1468.57 L1718.83,1469.28 L1720.08,1469.99 L1721.33,1470.68 L1722.58,1471.37 L1723.83,1472.04 L1725.08,1472.71 L1726.33,1473.37 L1727.58,1474.03 L1728.83,1474.67 L1730.08,1475.31 L1731.33,1475.94 L1732.58,1476.57 L1733.83,1477.18 L1735.08,1477.79 L1736.33,1478.39 L1737.58,1478.99 L1738.83,1479.57 L1740.08,1480.15 L1741.33,1480.73 L1742.58,1481.29 L1743.83,1481.85 L1745.08,1482.4 L1746.33,1482.95 L1747.58,1483.49 L1748.83,1484.02 L1750.08,1484.55 L1751.33,1485.07 L1752.58,1485.58 L1753.83,1486.09 L1755.08,1486.59 L1756.33,1487.09 L1757.58,1487.57 L1758.83,1488.06 L1760.08,1488.54 L1761.33,1489.01 L1762.58,1489.47 L1763.83,1489.93 L1765.08,1490.39 L1766.33,1490.84 L1767.58,1491.28 L1768.83,1491.72 L1770.08,1492.15 L1771.33,1492.58 L1772.58,1493 L1773.83,1493.41 L1775.08,1493.83 L1776.33,1494.23 L1777.58,1494.63 L1778.83,1495.03 L1780.08,1495.42 L1781.33,1495.81 L1782.58,1496.19 L1783.83,1496.57 L1785.08,1496.94 L1786.33,1497.31 L1787.58,1497.67 L1788.83,1498.03 L1790.08,1498.39 L1791.33,1498.74 L1792.58,1499.08 L1793.83,1499.43 L1795.08,1499.76 L1796.33,1500.1 L1797.58,1500.43 L1798.83,1500.75 L1800.08,1501.07 L1801.33,1501.39 L1802.58,1501.7 L1803.83,1502.01 L1805.08,1502.32 L1806.33,1502.62 L1807.58,1502.92 L1808.83,1503.21 L1810.08,1503.5 L1811.33,1503.79 L1812.58,1504.07 L1813.83,1504.35 L1815.08,1504.63 L1816.33,1504.9 L1817.58,1505.17 L1818.83,1505.44 L1820.08,1505.7 L1821.33,1505.96 L1822.58,1506.22 L1823.83,1506.47 L1825.08,1506.72 L1826.33,1506.97 L1827.58,1507.21 L1828.83,1507.46 L1830.08,1507.69 L1831.33,1507.93 L1832.58,1508.16 L1833.83,1508.39 L1835.08,1508.62 L1836.33,1508.84 L1837.58,1509.06 L1838.83,1509.28 L1840.08,1509.5 L1841.33,1509.71 L1842.58,1509.92 L1843.83,1510.13 L1845.08,1510.33 L1846.33,1510.54 L1847.58,1510.74 L1848.83,1510.93 L1850.08,1511.13 L1851.33,1511.32 L1852.58,1511.51 L1853.83,1511.7 L1855.08,1511.89 L1856.33,1512.07 L1857.58,1512.25" fill="none" stroke="#E6141A" stroke-width="4.2" stroke-linejoin="round" stroke-linecap="butt"/>
<rect x="1388.28" y="1527.5" width="2.6" height="4.5" stroke="none"/>
<text x="1402.2" y="1571.3" font-size="38.5" text-anchor="middle" textLength="70.8" lengthAdjust="spacingAndGlyphs">0.00</text>
<rect x="1513.45" y="1527.5" width="2.6" height="4.5" stroke="none"/>
<text x="1527.65" y="1571.3" font-size="38.5" text-anchor="middle" textLength="70.8" lengthAdjust="spacingAndGlyphs">0.02</text>
<rect x="1638.62" y="1527.5" width="2.6" height="4.5" stroke="none"/>
<text x="1653.1" y="1571.3" font-size="38.5" text-anchor="middle" textLength="70.8" lengthAdjust="spacingAndGlyphs">0.04</text>
<rect x="1763.8" y="1527.5" width="2.6" height="4.5" stroke="none"/>
<text x="1778.55" y="1571.3" font-size="38.5" text-anchor="middle" textLength="70.8" lengthAdjust="spacingAndGlyphs">0.06</text>
<rect x="1354.6" y="1526.2" width="4.5" height="2.6" stroke="none"/>
<text x="1328.8" y="1547" font-size="38.5" textLength="19.2" lengthAdjust="spacingAndGlyphs">0</text>
<rect x="1354.6" y="1417.1" width="4.5" height="2.6" stroke="none"/>
<text x="1308" y="1435.2" font-size="38.5" textLength="40" lengthAdjust="spacingAndGlyphs">20</text>
<rect x="1354.6" y="1308" width="4.5" height="2.6" stroke="none"/>
<text x="1308" y="1321.2" font-size="38.5" textLength="40" lengthAdjust="spacingAndGlyphs">40</text>
<text x="1431.4" y="1623.4" font-size="39" textLength="351.5" lengthAdjust="spacingAndGlyphs">relative deformation</text>
<text transform="translate(1289.5,1423) rotate(-90)" font-size="39" text-anchor="middle" textLength="114" lengthAdjust="spacingAndGlyphs">counts</text>
<text x="1687.6" y="1315.9" font-size="38.5" textLength="144.1" lengthAdjust="spacingAndGlyphs">Tumor 9</text></g>
<g><rect x="71" y="1929.7" width="31" height="1.4" stroke="none" fill="#0a1a30"/>
<rect x="165.29" y="1907.39" width="31.27" height="23.31" fill="#064A86" stroke="#07142c" stroke-width="0.9"/>
<rect x="196.56" y="1852.89" width="31.27" height="77.81" fill="#064A86" stroke="#07142c" stroke-width="0.9"/>
<rect x="227.83" y="1750.9" width="31.27" height="179.8" fill="#064A86" stroke="#07142c" stroke-width="0.9"/>
<rect x="259.1" y="1679.97" width="31.27" height="250.73" fill="#064A86" stroke="#07142c" stroke-width="0.9"/>
<rect x="290.37" y="1714.98" width="31.27" height="215.72" fill="#064A86" stroke="#07142c" stroke-width="0.9"/>
<rect x="321.64" y="1771.3" width="31.27" height="159.4" fill="#064A86" stroke="#07142c" stroke-width="0.9"/>
<rect x="352.91" y="1804.18" width="31.27" height="126.52" fill="#064A86" stroke="#07142c" stroke-width="0.9"/>
<rect x="384.18" y="1848.02" width="31.27" height="82.68" fill="#064A86" stroke="#07142c" stroke-width="0.9"/>
<rect x="415.46" y="1866.9" width="31.27" height="63.8" fill="#064A86" stroke="#07142c" stroke-width="0.9"/>
<rect x="446.73" y="1894.91" width="31.27" height="35.79" fill="#064A86" stroke="#07142c" stroke-width="0.9"/>
<rect x="478" y="1894.91" width="31.27" height="35.79" fill="#064A86" stroke="#07142c" stroke-width="0.9"/>
<rect x="509.27" y="1911.35" width="31.27" height="19.35" fill="#064A86" stroke="#07142c" stroke-width="0.9"/>
<rect x="540.54" y="1912.26" width="31.27" height="18.44" fill="#064A86" stroke="#07142c" stroke-width="0.9"/>
<rect x="102.6" y="1659.9" width="500" height="270.8" fill="none" stroke="#000" stroke-width="4.2"/>
<path d="M165.76,1930.15 L167.01,1929.95 L168.26,1929.69 L169.51,1929.37 L170.76,1928.98 L172.01,1928.5 L173.26,1927.93 L174.51,1927.26 L175.76,1926.48 L177.01,1925.57 L178.26,1924.53 L179.51,1923.35 L180.76,1922.02 L182.01,1920.53 L183.26,1918.88 L184.51,1917.06 L185.76,1915.07 L187.01,1912.9 L188.26,1910.55 L189.51,1908.02 L190.76,1905.31 L192.01,1902.42 L193.26,1899.36 L194.51,1896.11 L195.76,1892.7 L197.01,1889.12 L198.26,1885.39 L199.51,1881.49 L200.76,1877.46 L202.01,1873.28 L203.26,1868.98 L204.51,1864.55 L205.76,1860.01 L207.01,1855.38 L208.26,1850.65 L209.51,1845.84 L210.76,1840.96 L212.01,1836.03 L213.26,1831.04 L214.51,1826.02 L215.76,1820.98 L217.01,1815.92 L218.26,1810.85 L219.51,1805.79 L220.76,1800.74 L222.01,1795.72 L223.26,1790.73 L224.51,1785.78 L225.76,1780.89 L227.01,1776.05 L228.26,1771.29 L229.51,1766.6 L230.76,1761.99 L232.01,1757.47 L233.26,1753.05 L234.51,1748.72 L235.76,1744.51 L237.01,1740.4 L238.26,1736.42 L239.51,1732.55 L240.76,1728.8 L242.01,1725.19 L243.26,1721.7 L244.51,1718.35 L245.76,1715.13 L247.01,1712.04 L248.26,1709.1 L249.51,1706.29 L250.76,1703.62 L252.01,1701.09 L253.26,1698.71 L254.51,1696.46 L255.76,1694.35 L257.01,1692.39 L258.26,1690.56 L259.51,1688.87 L260.76,1687.31 L262.01,1685.89 L263.26,1684.6 L264.51,1683.45 L265.76,1682.42 L267.01,1681.52 L268.26,1680.75 L269.51,1680.1 L270.76,1679.57 L272.01,1679.16 L273.26,1678.86 L274.51,1678.68 L275.76,1678.6 L277.01,1678.63 L278.26,1678.77 L279.51,1679.01 L280.76,1679.35 L282.01,1679.78 L283.26,1680.31 L284.51,1680.92 L285.76,1681.63 L287.01,1682.41 L288.26,1683.28 L289.51,1684.22 L290.76,1685.24 L292.01,1686.34 L293.26,1687.5 L294.51,1688.73 L295.76,1690.02 L297.01,1691.37 L298.26,1692.79 L299.51,1694.25 L300.76,1695.77 L302.01,1697.34 L303.26,1698.96 L304.51,1700.62 L305.76,1702.33 L307.01,1704.08 L308.26,1705.86 L309.51,1707.68 L310.76,1709.54 L312.01,1711.42 L313.26,1713.34 L314.51,1715.28 L315.76,1717.24 L317.01,1719.23 L318.26,1721.25 L319.51,1723.28 L320.76,1725.32 L322.01,1727.39 L323.26,1729.47 L324.51,1731.56 L325.76,1733.66 L327.01,1735.77 L328.26,1737.89 L329.51,1740.02 L330.76,1742.15 L332.01,1744.28 L333.26,1746.42 L334.51,1748.56 L335.76,1750.7 L337.01,1752.84 L338.26,1754.97 L339.51,1757.1 L340.76,1759.23 L342.01,1761.36 L343.26,1763.48 L344.51,1765.59 L345.76,1767.69 L347.01,1769.79 L348.26,1771.87 L349.51,1773.95 L350.76,1776.01 L352.01,1778.07 L353.26,1780.11 L354.51,1782.14 L355.76,1784.16 L357.01,1786.16 L358.26,1788.15 L359.51,1790.13 L360.76,1792.09 L362.01,1794.03 L363.26,1795.96 L364.51,1797.87 L365.76,1799.77 L367.01,1801.65 L368.26,1803.51 L369.51,1805.36 L370.76,1807.19 L372.01,1809 L373.26,1810.79 L374.51,1812.57 L375.76,1814.33 L377.01,1816.07 L378.26,1817.79 L379.51,1819.49 L380.76,1821.17 L382.01,1822.84 L383.26,1824.48 L384.51,1826.11 L385.76,1827.72 L387.01,1829.31 L388.26,1830.88 L389.51,1832.43 L390.76,1833.96 L392.01,1835.47 L393.26,1836.97 L394.51,1838.44 L395.76,1839.9 L397.01,1841.34 L398.26,1842.76 L399.51,1844.16 L400.76,1845.54 L402.01,1846.91 L403.26,1848.26 L404.51,1849.58 L405.76,1850.89 L407.01,1852.18 L408.26,1853.46 L409.51,1854.72 L410.76,1855.95 L412.01,1857.18 L413.26,1858.38 L414.51,1859.57 L415.76,1860.74 L417.01,1861.89 L418.26,1863.02 L419.51,1864.14 L420.76,1865.25 L422.01,1866.33 L423.26,1867.4 L424.51,1868.46 L425.76,1869.5 L427.01,1870.52 L428.26,1871.53 L429.51,1872.52 L430.76,1873.5 L432.01,1874.46 L433.26,1875.41 L434.51,1876.34 L435.76,1877.26 L437.01,1878.16 L438.26,1879.05 L439.51,1879.93 L440.76,1880.79 L442.01,1881.64 L443.26,1882.47 L444.51,1883.3 L445.76,1884.1 L447.01,1884.9 L448.26,1885.68 L449.51,1886.45 L450.76,1887.21 L452.01,1887.96 L453.26,1888.69 L454.51,1889.41 L455.76,1890.12 L457.01,1890.82 L458.26,1891.51 L459.51,1892.18 L460.76,1892.85 L462.01,1893.5 L463.26,1894.14 L464.51,1894.77 L465.76,1895.4 L467.01,1896.01 L468.26,1896.61 L469.51,1897.2 L470.76,1897.78 L472.01,1898.35 L473.26,1898.91 L474.51,1899.46 L475.76,1900.01 L477.01,1900.54 L478.26,1901.07 L479.51,1901.58 L480.76,1902.09 L482.01,1902.59 L483.26,1903.08 L484.51,1903.56 L485.76,1904.03 L487.01,1904.5 L488.26,1904.95 L489.51,1905.4 L490.76,1905.85 L492.01,1906.28 L493.26,1906.71 L494.51,1907.13 L495.76,1907.54 L497.01,1907.94 L498.26,1908.34 L499.51,1908.73 L500.76,1909.12 L502.01,1909.5 L503.26,1909.87 L504.51,1910.23 L505.76,1910.59 L507.01,1910.94 L508.26,1911.29 L509.51,1911.63 L510.76,1911.96 L512.01,1912.29 L513.26,1912.61 L514.51,1912.93 L515.76,1913.24 L517.01,1913.55 L518.26,1913.85 L519.51,1914.14 L520.76,1914.43 L522.01,1914.72 L523.26,1915 L524.51,1915.27 L525.76,1915.54 L527.01,1915.81 L528.26,1916.07 L529.51,1916.33 L530.76,1916.58 L532.01,1916.83 L533.26,1917.07 L534.51,1917.31 L535.76,1917.54 L537.01,1917.77 L538.26,1918 L539.51,1918.22 L540.76,1918.44 L542.01,1918.65 L543.26,1918.86 L544.51,1919.07 L545.76,1919.28 L547.01,1919.48 L548.26,1919.67 L549.51,1919.86 L550.76,1920.05 L552.01,1920.24 L553.26,1920.42 L554.51,1920.6 L555.76,1920.78 L557.01,1920.95 L558.26,1921.12 L559.51,1921.29 L560.76,1921.45 L562.01,1921.61 L563.26,1921.77 L564.51,1921.93 L565.76,1922.08 L567.01,1922.23 L568.26,1922.38 L569.51,1922.52 L570.76,1922.67 L572.01,1922.81 L573.26,1922.94 L574.51,1923.08 L575.76,1923.21 L577.01,1923.34 L578.26,1923.47 L579.51,1923.59 L580.76,1923.72 L582.01,1923.84 L583.26,1923.96 L584.51,1924.07 L585.76,1924.19 L587.01,1924.3 L588.26,1924.41 L589.51,1924.52 L590.76,1924.63 L592.01,1924.73 L593.26,1924.84 L594.51,1924.94 L595.76,1925.04 L597.01,1925.14 L598.26,1925.23 L599.51,1925.33 L600.76,1925.42 L602.01,1925.51" fill="none" stroke="#E6141A" stroke-width="4.2" stroke-linejoin="round" stroke-linecap="butt"/>
<rect x="132.71" y="1930.7" width="2.6" height="4.5" stroke="none"/>
<text x="138.6" y="1965" font-size="38.5" text-anchor="middle" textLength="70.8" lengthAdjust="spacingAndGlyphs">0.00</text>
<rect x="257.8" y="1930.7" width="2.6" height="4.5" stroke="none"/>
<text x="264.05" y="1965" font-size="38.5" text-anchor="middle" textLength="70.8" lengthAdjust="spacingAndGlyphs">0.02</text>
<rect x="382.88" y="1930.7" width="2.6" height="4.5" stroke="none"/>
<text x="389.5" y="1965" font-size="38.5" text-anchor="middle" textLength="70.8" lengthAdjust="spacingAndGlyphs">0.04</text>
<rect x="507.97" y="1930.7" width="2.6" height="4.5" stroke="none"/>
<text x="514.95" y="1965" font-size="38.5" text-anchor="middle" textLength="70.8" lengthAdjust="spacingAndGlyphs">0.06</text>
<rect x="98.1" y="1929.4" width="4.5" height="2.6" stroke="none"/>
<text x="72.3" y="1939.7" font-size="38.5" textLength="19.2" lengthAdjust="spacingAndGlyphs">0</text>
<rect x="98.1" y="1850.9" width="4.5" height="2.6" stroke="none"/>
<text x="51.5" y="1864.5" font-size="38.5" textLength="40" lengthAdjust="spacingAndGlyphs">50</text>
<rect x="98.1" y="1772.4" width="4.5" height="2.6" stroke="none"/>
<text x="31" y="1788.5" font-size="38.5" textLength="60.5" lengthAdjust="spacingAndGlyphs">100</text>
<rect x="98.1" y="1694.4" width="4.5" height="2.6" stroke="none"/>
<text x="31" y="1706.3" font-size="38.5" textLength="60.5" lengthAdjust="spacingAndGlyphs">150</text>
<text x="167.2" y="2017.1" font-size="39" textLength="351.5" lengthAdjust="spacingAndGlyphs">relative deformation</text>
<text transform="translate(26,1816.7) rotate(-90)" font-size="39" text-anchor="middle" textLength="114" lengthAdjust="spacingAndGlyphs">counts</text>
<text x="414.3" y="1718" font-size="38.5" textLength="166.0" lengthAdjust="spacingAndGlyphs">Tumor 10</text></g>
<g><rect x="701.09" y="1922.2" width="62.31" height="6.7" fill="#064A86" stroke="#07142c" stroke-width="0.9"/>
<rect x="763.41" y="1844.98" width="62.56" height="83.92" fill="#064A86" stroke="#07142c" stroke-width="0.9"/>
<rect x="825.97" y="1677.84" width="62.56" height="251.06" fill="#064A86" stroke="#07142c" stroke-width="0.9"/>
<rect x="888.53" y="1789.87" width="62.56" height="139.03" fill="#064A86" stroke="#07142c" stroke-width="0.9"/>
<rect x="951.1" y="1854.11" width="62.56" height="74.79" fill="#064A86" stroke="#07142c" stroke-width="0.9"/>
<rect x="1013.66" y="1894" width="62.56" height="34.9" fill="#064A86" stroke="#07142c" stroke-width="0.9"/>
<rect x="1076.23" y="1897.04" width="62.56" height="31.86" fill="#064A86" stroke="#07142c" stroke-width="0.9"/>
<rect x="732.6" y="1658.7" width="500" height="270.2" fill="none" stroke="#000" stroke-width="4.2"/>
<path d="M775.16,1928.19 L776.41,1927.62 L777.66,1926.79 L778.91,1925.63 L780.16,1924.09 L781.41,1922.14 L782.66,1919.73 L783.91,1916.85 L785.16,1913.49 L786.41,1909.64 L787.66,1905.31 L788.91,1900.52 L790.16,1895.3 L791.41,1889.68 L792.66,1883.69 L793.91,1877.36 L795.16,1870.74 L796.41,1863.87 L797.66,1856.8 L798.91,1849.56 L800.16,1842.19 L801.41,1834.74 L802.66,1827.25 L803.91,1819.75 L805.16,1812.27 L806.41,1804.86 L807.66,1797.52 L808.91,1790.31 L810.16,1783.23 L811.41,1776.31 L812.66,1769.57 L813.91,1763.02 L815.16,1756.69 L816.41,1750.58 L817.66,1744.71 L818.91,1739.08 L820.16,1733.7 L821.41,1728.58 L822.66,1723.71 L823.91,1719.11 L825.16,1714.77 L826.41,1710.7 L827.66,1706.88 L828.91,1703.33 L830.16,1700.03 L831.41,1696.99 L832.66,1694.2 L833.91,1691.65 L835.16,1689.34 L836.41,1687.27 L837.66,1685.43 L838.91,1683.8 L840.16,1682.4 L841.41,1681.2 L842.66,1680.2 L843.91,1679.4 L845.16,1678.79 L846.41,1678.35 L847.66,1678.09 L848.91,1678 L850.16,1678.07 L851.41,1678.29 L852.66,1678.65 L853.91,1679.16 L855.16,1679.79 L856.41,1680.55 L857.66,1681.44 L858.91,1682.43 L860.16,1683.53 L861.41,1684.74 L862.66,1686.04 L863.91,1687.43 L865.16,1688.9 L866.41,1690.46 L867.66,1692.09 L868.91,1693.78 L870.16,1695.55 L871.41,1697.37 L872.66,1699.25 L873.91,1701.18 L875.16,1703.16 L876.41,1705.18 L877.66,1707.25 L878.91,1709.35 L880.16,1711.48 L881.41,1713.64 L882.66,1715.83 L883.91,1718.04 L885.16,1720.28 L886.41,1722.53 L887.66,1724.8 L888.91,1727.08 L890.16,1729.37 L891.41,1731.67 L892.66,1733.98 L893.91,1736.29 L895.16,1738.6 L896.41,1740.92 L897.66,1743.23 L898.91,1745.54 L900.16,1747.85 L901.41,1750.15 L902.66,1752.45 L903.91,1754.73 L905.16,1757.01 L906.41,1759.28 L907.66,1761.54 L908.91,1763.78 L910.16,1766.01 L911.41,1768.23 L912.66,1770.43 L913.91,1772.61 L915.16,1774.78 L916.41,1776.93 L917.66,1779.07 L918.91,1781.19 L920.16,1783.28 L921.41,1785.36 L922.66,1787.42 L923.91,1789.46 L925.16,1791.48 L926.41,1793.48 L927.66,1795.46 L928.91,1797.41 L930.16,1799.35 L931.41,1801.27 L932.66,1803.16 L933.91,1805.03 L935.16,1806.88 L936.41,1808.71 L937.66,1810.51 L938.91,1812.3 L940.16,1814.06 L941.41,1815.8 L942.66,1817.51 L943.91,1819.21 L945.16,1820.88 L946.41,1822.54 L947.66,1824.17 L948.91,1825.77 L950.16,1827.36 L951.41,1828.93 L952.66,1830.47 L953.91,1831.99 L955.16,1833.5 L956.41,1834.98 L957.66,1836.44 L958.91,1837.88 L960.16,1839.29 L961.41,1840.69 L962.66,1842.07 L963.91,1843.43 L965.16,1844.77 L966.41,1846.09 L967.66,1847.39 L968.91,1848.67 L970.16,1849.93 L971.41,1851.17 L972.66,1852.39 L973.91,1853.6 L975.16,1854.79 L976.41,1855.95 L977.66,1857.11 L978.91,1858.24 L980.16,1859.36 L981.41,1860.45 L982.66,1861.54 L983.91,1862.6 L985.16,1863.65 L986.41,1864.68 L987.66,1865.7 L988.91,1866.7 L990.16,1867.69 L991.41,1868.66 L992.66,1869.61 L993.91,1870.55 L995.16,1871.47 L996.41,1872.38 L997.66,1873.28 L998.91,1874.16 L1000.16,1875.03 L1001.41,1875.88 L1002.66,1876.72 L1003.91,1877.55 L1005.16,1878.36 L1006.41,1879.16 L1007.66,1879.95 L1008.91,1880.72 L1010.16,1881.48 L1011.41,1882.23 L1012.66,1882.97 L1013.91,1883.7 L1015.16,1884.41 L1016.41,1885.11 L1017.66,1885.81 L1018.91,1886.49 L1020.16,1887.16 L1021.41,1887.81 L1022.66,1888.46 L1023.91,1889.1 L1025.16,1889.72 L1026.41,1890.34 L1027.66,1890.95 L1028.91,1891.54 L1030.16,1892.13 L1031.41,1892.71 L1032.66,1893.28 L1033.91,1893.84 L1035.16,1894.39 L1036.41,1894.93 L1037.66,1895.46 L1038.91,1895.98 L1040.16,1896.5 L1041.41,1897 L1042.66,1897.5 L1043.91,1897.99 L1045.16,1898.47 L1046.41,1898.95 L1047.66,1899.41 L1048.91,1899.87 L1050.16,1900.32 L1051.41,1900.77 L1052.66,1901.2 L1053.91,1901.63 L1055.16,1902.06 L1056.41,1902.47 L1057.66,1902.88 L1058.91,1903.28 L1060.16,1903.68 L1061.41,1904.07 L1062.66,1904.45 L1063.91,1904.83 L1065.16,1905.2 L1066.41,1905.57 L1067.66,1905.92 L1068.91,1906.28 L1070.16,1906.62 L1071.41,1906.97 L1072.66,1907.3 L1073.91,1907.63 L1075.16,1907.96 L1076.41,1908.28 L1077.66,1908.59 L1078.91,1908.9 L1080.16,1909.21 L1081.41,1909.51 L1082.66,1909.8 L1083.91,1910.09 L1085.16,1910.38 L1086.41,1910.66 L1087.66,1910.94 L1088.91,1911.21 L1090.16,1911.47 L1091.41,1911.74 L1092.66,1912 L1093.91,1912.25 L1095.16,1912.5 L1096.41,1912.75 L1097.66,1912.99 L1098.91,1913.23 L1100.16,1913.47 L1101.41,1913.7 L1102.66,1913.93 L1103.91,1914.15 L1105.16,1914.37 L1106.41,1914.59 L1107.66,1914.8 L1108.91,1915.01 L1110.16,1915.22 L1111.41,1915.42 L1112.66,1915.62 L1113.91,1915.82 L1115.16,1916.01 L1116.41,1916.2 L1117.66,1916.39 L1118.91,1916.58 L1120.16,1916.76 L1121.41,1916.94 L1122.66,1917.11 L1123.91,1917.29 L1125.16,1917.46 L1126.41,1917.63 L1127.66,1917.79 L1128.91,1917.95 L1130.16,1918.11 L1131.41,1918.27 L1132.66,1918.43 L1133.91,1918.58 L1135.16,1918.73 L1136.41,1918.88 L1137.66,1919.02 L1138.91,1919.17 L1140.16,1919.31 L1141.41,1919.45 L1142.66,1919.59 L1143.91,1919.72 L1145.16,1919.85 L1146.41,1919.98 L1147.66,1920.11 L1148.91,1920.24 L1150.16,1920.36 L1151.41,1920.49 L1152.66,1920.61 L1153.91,1920.73 L1155.16,1920.84 L1156.41,1920.96 L1157.66,1921.07 L1158.91,1921.18 L1160.16,1921.29 L1161.41,1921.4 L1162.66,1921.51 L1163.91,1921.61 L1165.16,1921.72 L1166.41,1921.82 L1167.66,1921.92 L1168.91,1922.02 L1170.16,1922.12 L1171.41,1922.21 L1172.66,1922.31 L1173.91,1922.4 L1175.16,1922.49 L1176.41,1922.58 L1177.66,1922.67 L1178.91,1922.76 L1180.16,1922.84 L1181.41,1922.93 L1182.66,1923.01 L1183.91,1923.09 L1185.16,1923.18 L1186.41,1923.26 L1187.66,1923.33 L1188.91,1923.41 L1190.16,1923.49 L1191.41,1923.56 L1192.66,1923.64 L1193.91,1923.71 L1195.16,1923.78 L1196.41,1923.85 L1197.66,1923.92 L1198.91,1923.99 L1200.16,1924.06 L1201.41,1924.12 L1202.66,1924.19 L1203.91,1924.26 L1205.16,1924.32 L1206.41,1924.38 L1207.66,1924.44 L1208.91,1924.5 L1210.16,1924.56 L1211.41,1924.62 L1212.66,1924.68 L1213.91,1924.74 L1215.16,1924.8 L1216.41,1924.85 L1217.66,1924.91 L1218.91,1924.96 L1220.16,1925.01 L1221.41,1925.07 L1222.66,1925.12 L1223.91,1925.17 L1225.16,1925.22 L1226.41,1925.27 L1227.66,1925.32 L1228.91,1925.37 L1230.16,1925.41 L1231.41,1925.46" fill="none" stroke="#E6141A" stroke-width="4.2" stroke-linejoin="round" stroke-linecap="butt"/>
<rect x="762.11" y="1928.9" width="2.6" height="4.5" stroke="none"/>
<text x="770.2" y="1965" font-size="38.5" text-anchor="middle" textLength="70.8" lengthAdjust="spacingAndGlyphs">0.00</text>
<rect x="887.23" y="1928.9" width="2.6" height="4.5" stroke="none"/>
<text x="895.65" y="1965" font-size="38.5" text-anchor="middle" textLength="70.8" lengthAdjust="spacingAndGlyphs">0.02</text>
<rect x="1012.36" y="1928.9" width="2.6" height="4.5" stroke="none"/>
<text x="1021.1" y="1965" font-size="38.5" text-anchor="middle" textLength="70.8" lengthAdjust="spacingAndGlyphs">0.04</text>
<rect x="1137.49" y="1928.9" width="2.6" height="4.5" stroke="none"/>
<text x="1146.55" y="1965" font-size="38.5" text-anchor="middle" textLength="70.8" lengthAdjust="spacingAndGlyphs">0.06</text>
<rect x="728.1" y="1927.6" width="4.5" height="2.6" stroke="none"/>
<text x="704.7" y="1939.7" font-size="38.5" textLength="19.2" lengthAdjust="spacingAndGlyphs">0</text>
<rect x="728.1" y="1803.5" width="4.5" height="2.6" stroke="none"/>
<text x="683.9" y="1818.9" font-size="38.5" textLength="40" lengthAdjust="spacingAndGlyphs">50</text>
<rect x="728.1" y="1679.2" width="4.5" height="2.6" stroke="none"/>
<text x="663.4" y="1692.4" font-size="38.5" textLength="60.5" lengthAdjust="spacingAndGlyphs">100</text>
<text x="799.4" y="2017.1" font-size="39" textLength="351.5" lengthAdjust="spacingAndGlyphs">relative deformation</text>
<text transform="translate(657.6,1816.7) rotate(-90)" font-size="39" text-anchor="middle" textLength="114" lengthAdjust="spacingAndGlyphs">counts</text>
<text x="1040.7" y="1718" font-size="38.5" textLength="161.1" lengthAdjust="spacingAndGlyphs">Tumor 11</text></g>
<g><rect x="1389.58" y="1909.83" width="31.32" height="19.27" fill="#064A86" stroke="#07142c" stroke-width="0.9"/>
<rect x="1420.9" y="1760.04" width="31.32" height="169.06" fill="#064A86" stroke="#07142c" stroke-width="0.9"/>
<rect x="1452.23" y="1677.84" width="31.32" height="251.26" fill="#064A86" stroke="#07142c" stroke-width="0.9"/>
<rect x="1483.55" y="1708.28" width="31.32" height="220.82" fill="#064A86" stroke="#07142c" stroke-width="0.9"/>
<rect x="1514.88" y="1839.19" width="31.32" height="89.91" fill="#064A86" stroke="#07142c" stroke-width="0.9"/>
<rect x="1546.2" y="1858.07" width="31.32" height="71.03" fill="#064A86" stroke="#07142c" stroke-width="0.9"/>
<rect x="1577.53" y="1895.21" width="31.32" height="33.89" fill="#064A86" stroke="#07142c" stroke-width="0.9"/>
<rect x="1608.85" y="1891.86" width="31.32" height="37.24" fill="#064A86" stroke="#07142c" stroke-width="0.9"/>
<rect x="1640.17" y="1922" width="31.32" height="7.1" fill="#064A86" stroke="#07142c" stroke-width="0.9"/>
<rect x="1359.1" y="1658.7" width="499.5" height="270.4" fill="none" stroke="#000" stroke-width="4.2"/>
<path d="M1401.33,1928.4 L1402.58,1927.77 L1403.83,1926.79 L1405.08,1925.37 L1406.33,1923.43 L1407.58,1920.9 L1408.83,1917.72 L1410.08,1913.87 L1411.33,1909.33 L1412.58,1904.09 L1413.83,1898.19 L1415.08,1891.65 L1416.33,1884.53 L1417.58,1876.88 L1418.83,1868.77 L1420.08,1860.28 L1421.33,1851.46 L1422.58,1842.41 L1423.83,1833.19 L1425.08,1823.87 L1426.33,1814.53 L1427.58,1805.23 L1428.83,1796.03 L1430.08,1786.99 L1431.33,1778.15 L1432.58,1769.56 L1433.83,1761.26 L1435.08,1753.28 L1436.33,1745.65 L1437.58,1738.39 L1438.83,1731.53 L1440.08,1725.08 L1441.33,1719.04 L1442.58,1713.43 L1443.83,1708.25 L1445.08,1703.5 L1446.33,1699.18 L1447.58,1695.28 L1448.83,1691.79 L1450.08,1688.72 L1451.33,1686.04 L1452.58,1683.75 L1453.83,1681.83 L1455.08,1680.28 L1456.33,1679.08 L1457.58,1678.21 L1458.83,1677.66 L1460.08,1677.42 L1461.33,1677.46 L1462.58,1677.78 L1463.83,1678.36 L1465.08,1679.19 L1466.33,1680.24 L1467.58,1681.51 L1468.83,1682.99 L1470.08,1684.65 L1471.33,1686.49 L1472.58,1688.48 L1473.83,1690.63 L1475.08,1692.92 L1476.33,1695.33 L1477.58,1697.86 L1478.83,1700.49 L1480.08,1703.22 L1481.33,1706.03 L1482.58,1708.91 L1483.83,1711.87 L1485.08,1714.88 L1486.33,1717.94 L1487.58,1721.05 L1488.83,1724.19 L1490.08,1727.36 L1491.33,1730.56 L1492.58,1733.77 L1493.83,1737 L1495.08,1740.23 L1496.33,1743.47 L1497.58,1746.71 L1498.83,1749.94 L1500.08,1753.16 L1501.33,1756.36 L1502.58,1759.56 L1503.83,1762.73 L1505.08,1765.88 L1506.33,1769 L1507.58,1772.1 L1508.83,1775.17 L1510.08,1778.21 L1511.33,1781.21 L1512.58,1784.18 L1513.83,1787.12 L1515.08,1790.02 L1516.33,1792.88 L1517.58,1795.7 L1518.83,1798.48 L1520.08,1801.22 L1521.33,1803.92 L1522.58,1806.58 L1523.83,1809.19 L1525.08,1811.77 L1526.33,1814.3 L1527.58,1816.79 L1528.83,1819.23 L1530.08,1821.63 L1531.33,1823.99 L1532.58,1826.31 L1533.83,1828.58 L1535.08,1830.81 L1536.33,1833 L1537.58,1835.15 L1538.83,1837.25 L1540.08,1839.32 L1541.33,1841.34 L1542.58,1843.32 L1543.83,1845.26 L1545.08,1847.17 L1546.33,1849.03 L1547.58,1850.86 L1548.83,1852.64 L1550.08,1854.39 L1551.33,1856.1 L1552.58,1857.78 L1553.83,1859.42 L1555.08,1861.02 L1556.33,1862.59 L1557.58,1864.13 L1558.83,1865.63 L1560.08,1867.1 L1561.33,1868.54 L1562.58,1869.94 L1563.83,1871.31 L1565.08,1872.65 L1566.33,1873.97 L1567.58,1875.25 L1568.83,1876.5 L1570.08,1877.72 L1571.33,1878.92 L1572.58,1880.09 L1573.83,1881.23 L1575.08,1882.35 L1576.33,1883.44 L1577.58,1884.5 L1578.83,1885.55 L1580.08,1886.56 L1581.33,1887.55 L1582.58,1888.52 L1583.83,1889.47 L1585.08,1890.4 L1586.33,1891.3 L1587.58,1892.18 L1588.83,1893.04 L1590.08,1893.88 L1591.33,1894.7 L1592.58,1895.51 L1593.83,1896.29 L1595.08,1897.05 L1596.33,1897.8 L1597.58,1898.53 L1598.83,1899.24 L1600.08,1899.93 L1601.33,1900.61 L1602.58,1901.27 L1603.83,1901.92 L1605.08,1902.55 L1606.33,1903.17 L1607.58,1903.77 L1608.83,1904.36 L1610.08,1904.93 L1611.33,1905.49 L1612.58,1906.03 L1613.83,1906.57 L1615.08,1907.09 L1616.33,1907.59 L1617.58,1908.09 L1618.83,1908.57 L1620.08,1909.05 L1621.33,1909.51 L1622.58,1909.96 L1623.83,1910.4 L1625.08,1910.83 L1626.33,1911.25 L1627.58,1911.65 L1628.83,1912.05 L1630.08,1912.44 L1631.33,1912.82 L1632.58,1913.2 L1633.83,1913.56 L1635.08,1913.91 L1636.33,1914.26 L1637.58,1914.6 L1638.83,1914.92 L1640.08,1915.25 L1641.33,1915.56 L1642.58,1915.87 L1643.83,1916.17 L1645.08,1916.46 L1646.33,1916.74 L1647.58,1917.02 L1648.83,1917.29 L1650.08,1917.56 L1651.33,1917.82 L1652.58,1918.07 L1653.83,1918.32 L1655.08,1918.56 L1656.33,1918.8 L1657.58,1919.03 L1658.83,1919.25 L1660.08,1919.47 L1661.33,1919.68 L1662.58,1919.89 L1663.83,1920.1 L1665.08,1920.3 L1666.33,1920.49 L1667.58,1920.68 L1668.83,1920.87 L1670.08,1921.05 L1671.33,1921.23 L1672.58,1921.4 L1673.83,1921.57 L1675.08,1921.74 L1676.33,1921.9 L1677.58,1922.06 L1678.83,1922.21 L1680.08,1922.36 L1681.33,1922.51 L1682.58,1922.65 L1683.83,1922.79 L1685.08,1922.93 L1686.33,1923.06 L1687.58,1923.2 L1688.83,1923.32 L1690.08,1923.45 L1691.33,1923.57 L1692.58,1923.69 L1693.83,1923.81 L1695.08,1923.92 L1696.33,1924.03 L1697.58,1924.14 L1698.83,1924.25 L1700.08,1924.35 L1701.33,1924.45 L1702.58,1924.55 L1703.83,1924.65 L1705.08,1924.74 L1706.33,1924.84 L1707.58,1924.93 L1708.83,1925.02 L1710.08,1925.1 L1711.33,1925.19 L1712.58,1925.27 L1713.83,1925.35 L1715.08,1925.43 L1716.33,1925.51 L1717.58,1925.58 L1718.83,1925.66 L1720.08,1925.73 L1721.33,1925.8 L1722.58,1925.87 L1723.83,1925.94 L1725.08,1926 L1726.33,1926.07 L1727.58,1926.13 L1728.83,1926.19 L1730.08,1926.25 L1731.33,1926.31 L1732.58,1926.37 L1733.83,1926.43 L1735.08,1926.48 L1736.33,1926.54 L1737.58,1926.59 L1738.83,1926.64 L1740.08,1926.69 L1741.33,1926.74 L1742.58,1926.79 L1743.83,1926.84 L1745.08,1926.88 L1746.33,1926.93 L1747.58,1926.97 L1748.83,1927.01 L1750.08,1927.06 L1751.33,1927.1 L1752.58,1927.14 L1753.83,1927.18 L1755.08,1927.22 L1756.33,1927.26 L1757.58,1927.29 L1758.83,1927.33 L1760.08,1927.37 L1761.33,1927.4 L1762.58,1927.43 L1763.83,1927.47 L1765.08,1927.5 L1766.33,1927.53 L1767.58,1927.56 L1768.83,1927.59 L1770.08,1927.62" fill="none" stroke="#E6141A" stroke-width="4.2" stroke-linejoin="round" stroke-linecap="butt"/>
<rect x="1388.28" y="1929.1" width="2.6" height="4.5" stroke="none"/>
<text x="1402.2" y="1965" font-size="38.5" text-anchor="middle" textLength="70.8" lengthAdjust="spacingAndGlyphs">0.00</text>
<rect x="1513.58" y="1929.1" width="2.6" height="4.5" stroke="none"/>
<text x="1527.65" y="1965" font-size="38.5" text-anchor="middle" textLength="70.8" lengthAdjust="spacingAndGlyphs">0.02</text>
<rect x="1638.87" y="1929.1" width="2.6" height="4.5" stroke="none"/>
<text x="1653.1" y="1965" font-size="38.5" text-anchor="middle" textLength="70.8" lengthAdjust="spacingAndGlyphs">0.04</text>
<rect x="1764.17" y="1929.1" width="2.6" height="4.5" stroke="none"/>
<text x="1778.55" y="1965" font-size="38.5" text-anchor="middle" textLength="70.8" lengthAdjust="spacingAndGlyphs">0.06</text>
<rect x="1354.6" y="1927.8" width="4.5" height="2.6" stroke="none"/>
<text x="1328.8" y="1939.9" font-size="38.5" textLength="19.2" lengthAdjust="spacingAndGlyphs">0</text>
<rect x="1354.6" y="1852.2" width="4.5" height="2.6" stroke="none"/>
<text x="1308" y="1867.9" font-size="38.5" textLength="40" lengthAdjust="spacingAndGlyphs">20</text>
<rect x="1354.6" y="1777.3" width="4.5" height="2.6" stroke="none"/>
<text x="1308" y="1789.9" font-size="38.5" textLength="40" lengthAdjust="spacingAndGlyphs">40</text>
<rect x="1354.6" y="1702.7" width="4.5" height="2.6" stroke="none"/>
<text x="1308" y="1718" font-size="38.5" textLength="40" lengthAdjust="spacingAndGlyphs">60</text>
<text x="1431.4" y="2017.1" font-size="39" textLength="351.5" lengthAdjust="spacingAndGlyphs">relative deformation</text>
<text transform="translate(1289.5,1816.7) rotate(-90)" font-size="39" text-anchor="middle" textLength="114" lengthAdjust="spacingAndGlyphs">counts</text>
<text x="1676.3" y="1718" font-size="38.5" textLength="165.1" lengthAdjust="spacingAndGlyphs">Tumor 12</text></g>
<g><rect x="132.49" y="2297.92" width="31.36" height="17.98" fill="#064A86" stroke="#07142c" stroke-width="0.9"/>
<rect x="163.85" y="2177.05" width="31.36" height="138.85" fill="#064A86" stroke="#07142c" stroke-width="0.9"/>
<rect x="195.21" y="2065.01" width="31.36" height="250.89" fill="#064A86" stroke="#07142c" stroke-width="0.9"/>
<rect x="226.57" y="2110.07" width="31.36" height="205.83" fill="#064A86" stroke="#07142c" stroke-width="0.9"/>
<rect x="257.93" y="2230.94" width="31.36" height="84.96" fill="#064A86" stroke="#07142c" stroke-width="0.9"/>
<rect x="289.28" y="2258.03" width="31.36" height="57.87" fill="#064A86" stroke="#07142c" stroke-width="0.9"/>
<rect x="320.64" y="2244.03" width="31.36" height="71.87" fill="#064A86" stroke="#07142c" stroke-width="0.9"/>
<rect x="352" y="2307.05" width="31.36" height="8.85" fill="#064A86" stroke="#07142c" stroke-width="0.9"/>
<rect x="383.36" y="2303.09" width="31.36" height="12.81" fill="#064A86" stroke="#07142c" stroke-width="0.9"/>
<rect x="414.72" y="2303.09" width="31.36" height="12.81" fill="#064A86" stroke="#07142c" stroke-width="0.9"/>
<rect x="102.1" y="2045.2" width="499.4" height="270.7" fill="none" stroke="#000" stroke-width="4.2"/>
<path d="M144.24,2315.33 L145.49,2314.81 L146.74,2313.99 L147.99,2312.79 L149.24,2311.14 L150.49,2308.97 L151.74,2306.22 L152.99,2302.85 L154.24,2298.86 L155.49,2294.21 L156.74,2288.94 L157.99,2283.05 L159.24,2276.6 L160.49,2269.62 L161.74,2262.16 L162.99,2254.29 L164.24,2246.08 L165.49,2237.58 L166.74,2228.87 L167.99,2220 L169.24,2211.06 L170.49,2202.08 L171.74,2193.14 L172.99,2184.29 L174.24,2175.58 L175.49,2167.04 L176.74,2158.73 L177.99,2150.68 L179.24,2142.91 L180.49,2135.46 L181.74,2128.35 L182.99,2121.59 L184.24,2115.21 L185.49,2109.2 L186.74,2103.59 L187.99,2098.37 L189.24,2093.54 L190.49,2089.11 L191.74,2085.07 L192.99,2081.42 L194.24,2078.15 L195.49,2075.26 L196.74,2072.73 L197.99,2070.56 L199.24,2068.73 L200.49,2067.24 L201.74,2066.06 L202.99,2065.2 L204.24,2064.63 L205.49,2064.34 L206.74,2064.32 L207.99,2064.56 L209.24,2065.04 L210.49,2065.75 L211.74,2066.68 L212.99,2067.81 L214.24,2069.13 L215.49,2070.63 L216.74,2072.29 L217.99,2074.12 L219.24,2076.08 L220.49,2078.18 L221.74,2080.41 L222.99,2082.74 L224.24,2085.18 L225.49,2087.71 L226.74,2090.33 L227.99,2093.03 L229.24,2095.79 L230.49,2098.62 L231.74,2101.5 L232.99,2104.42 L234.24,2107.39 L235.49,2110.39 L236.74,2113.42 L237.99,2116.47 L239.24,2119.54 L240.49,2122.63 L241.74,2125.72 L242.99,2128.81 L244.24,2131.91 L245.49,2135 L246.74,2138.09 L247.99,2141.17 L249.24,2144.23 L250.49,2147.28 L251.74,2150.31 L252.99,2153.31 L254.24,2156.3 L255.49,2159.26 L256.74,2162.19 L257.99,2165.09 L259.24,2167.97 L260.49,2170.81 L261.74,2173.62 L262.99,2176.4 L264.24,2179.14 L265.49,2181.84 L266.74,2184.51 L267.99,2187.15 L269.24,2189.74 L270.49,2192.3 L271.74,2194.82 L272.99,2197.3 L274.24,2199.74 L275.49,2202.14 L276.74,2204.5 L277.99,2206.82 L279.24,2209.11 L280.49,2211.35 L281.74,2213.56 L282.99,2215.72 L284.24,2217.85 L285.49,2219.94 L286.74,2221.99 L287.99,2224 L289.24,2225.98 L290.49,2227.91 L291.74,2229.81 L292.99,2231.68 L294.24,2233.5 L295.49,2235.29 L296.74,2237.05 L297.99,2238.77 L299.24,2240.46 L300.49,2242.11 L301.74,2243.73 L302.99,2245.31 L304.24,2246.86 L305.49,2248.38 L306.74,2249.87 L307.99,2251.33 L309.24,2252.76 L310.49,2254.15 L311.74,2255.52 L312.99,2256.86 L314.24,2258.17 L315.49,2259.45 L316.74,2260.7 L317.99,2261.93 L319.24,2263.13 L320.49,2264.3 L321.74,2265.45 L322.99,2266.57 L324.24,2267.67 L325.49,2268.75 L326.74,2269.8 L327.99,2270.82 L329.24,2271.83 L330.49,2272.81 L331.74,2273.77 L332.99,2274.71 L334.24,2275.63 L335.49,2276.53 L336.74,2277.41 L337.99,2278.26 L339.24,2279.1 L340.49,2279.92 L341.74,2280.72 L342.99,2281.51 L344.24,2282.27 L345.49,2283.02 L346.74,2283.75 L347.99,2284.47 L349.24,2285.17 L350.49,2285.85 L351.74,2286.52 L352.99,2287.17 L354.24,2287.81 L355.49,2288.43 L356.74,2289.04 L357.99,2289.64 L359.24,2290.22 L360.49,2290.79 L361.74,2291.34 L362.99,2291.88 L364.24,2292.42 L365.49,2292.93 L366.74,2293.44 L367.99,2293.94 L369.24,2294.42 L370.49,2294.89 L371.74,2295.35 L372.99,2295.81 L374.24,2296.25 L375.49,2296.68 L376.74,2297.1 L377.99,2297.51 L379.24,2297.91 L380.49,2298.31 L381.74,2298.69 L382.99,2299.07 L384.24,2299.44 L385.49,2299.79 L386.74,2300.14 L387.99,2300.49 L389.24,2300.82 L390.49,2301.15 L391.74,2301.47 L392.99,2301.78 L394.24,2302.09 L395.49,2302.39 L396.74,2302.68 L397.99,2302.96 L399.24,2303.24 L400.49,2303.52 L401.74,2303.78 L402.99,2304.04 L404.24,2304.3 L405.49,2304.55 L406.74,2304.79 L407.99,2305.03 L409.24,2305.26 L410.49,2305.49 L411.74,2305.71 L412.99,2305.93 L414.24,2306.14 L415.49,2306.35 L416.74,2306.55 L417.99,2306.75 L419.24,2306.94 L420.49,2307.13 L421.74,2307.32 L422.99,2307.5 L424.24,2307.67 L425.49,2307.85 L426.74,2308.02 L427.99,2308.18 L429.24,2308.34 L430.49,2308.5 L431.74,2308.66 L432.99,2308.81 L434.24,2308.96 L435.49,2309.1 L436.74,2309.24 L437.99,2309.38 L439.24,2309.52 L440.49,2309.65 L441.74,2309.78 L442.99,2309.91 L444.24,2310.03 L445.49,2310.15 L446.74,2310.27 L447.99,2310.39 L449.24,2310.5 L450.49,2310.61 L451.74,2310.72 L452.99,2310.83 L454.24,2310.93 L455.49,2311.03 L456.74,2311.13 L457.99,2311.23 L459.24,2311.32 L460.49,2311.42 L461.74,2311.51 L462.99,2311.6 L464.24,2311.69 L465.49,2311.77 L466.74,2311.85 L467.99,2311.94 L469.24,2312.02 L470.49,2312.09 L471.74,2312.17 L472.99,2312.25 L474.24,2312.32 L475.49,2312.39 L476.74,2312.46 L477.99,2312.53 L479.24,2312.6 L480.49,2312.66 L481.74,2312.73 L482.99,2312.79 L484.24,2312.85 L485.49,2312.91 L486.74,2312.97 L487.99,2313.03 L489.24,2313.09 L490.49,2313.14 L491.74,2313.2 L492.99,2313.25 L494.24,2313.3 L495.49,2313.35 L496.74,2313.4 L497.99,2313.45 L499.24,2313.5 L500.49,2313.55 L501.74,2313.59 L502.99,2313.64 L504.24,2313.68 L505.49,2313.73 L506.74,2313.77 L507.99,2313.81 L509.24,2313.85 L510.49,2313.89 L511.74,2313.93 L512.99,2313.97 L514.24,2314 L515.49,2314.04 L516.74,2314.08 L517.99,2314.11 L519.24,2314.15 L520.49,2314.18 L521.74,2314.21 L522.99,2314.24 L524.24,2314.28 L525.49,2314.31 L526.74,2314.34 L527.99,2314.37 L529.24,2314.4 L530.49,2314.42 L531.74,2314.45 L532.99,2314.48" fill="none" stroke="#E6141A" stroke-width="4.2" stroke-linejoin="round" stroke-linecap="butt"/>
<rect x="131.19" y="2315.9" width="2.6" height="4.5" stroke="none"/>
<text x="138.6" y="2352.4" font-size="38.5" text-anchor="middle" textLength="70.8" lengthAdjust="spacingAndGlyphs">0.00</text>
<rect x="256.63" y="2315.9" width="2.6" height="4.5" stroke="none"/>
<text x="264.05" y="2352.4" font-size="38.5" text-anchor="middle" textLength="70.8" lengthAdjust="spacingAndGlyphs">0.02</text>
<rect x="382.06" y="2315.9" width="2.6" height="4.5" stroke="none"/>
<text x="389.5" y="2352.4" font-size="38.5" text-anchor="middle" textLength="70.8" lengthAdjust="spacingAndGlyphs">0.04</text>
<rect x="507.49" y="2315.9" width="2.6" height="4.5" stroke="none"/>
<text x="514.95" y="2352.4" font-size="38.5" text-anchor="middle" textLength="70.8" lengthAdjust="spacingAndGlyphs">0.06</text>
<rect x="97.6" y="2314.6" width="4.5" height="2.6" stroke="none"/>
<text x="68.8" y="2326.8" font-size="38.5" textLength="19.2" lengthAdjust="spacingAndGlyphs">0</text>
<rect x="97.6" y="2224.6" width="4.5" height="2.6" stroke="none"/>
<text x="48" y="2240.3" font-size="38.5" textLength="40" lengthAdjust="spacingAndGlyphs">20</text>
<rect x="97.6" y="2135.1" width="4.5" height="2.6" stroke="none"/>
<text x="48" y="2151.8" font-size="38.5" textLength="40" lengthAdjust="spacingAndGlyphs">40</text>
<rect x="97.6" y="2046" width="4.5" height="2.6" stroke="none"/>
<text x="48" y="2059.3" font-size="38.5" textLength="40" lengthAdjust="spacingAndGlyphs">60</text>
<text x="167.2" y="2404.5" font-size="39" textLength="351.5" lengthAdjust="spacingAndGlyphs">relative deformation</text>
<text transform="translate(26,2204.1) rotate(-90)" font-size="39" text-anchor="middle" textLength="114" lengthAdjust="spacingAndGlyphs">counts</text>
<text x="413.7" y="2095.5" font-size="38.5" textLength="165.7" lengthAdjust="spacingAndGlyphs">Tumor 13</text></g>
</svg>
</body></html>
